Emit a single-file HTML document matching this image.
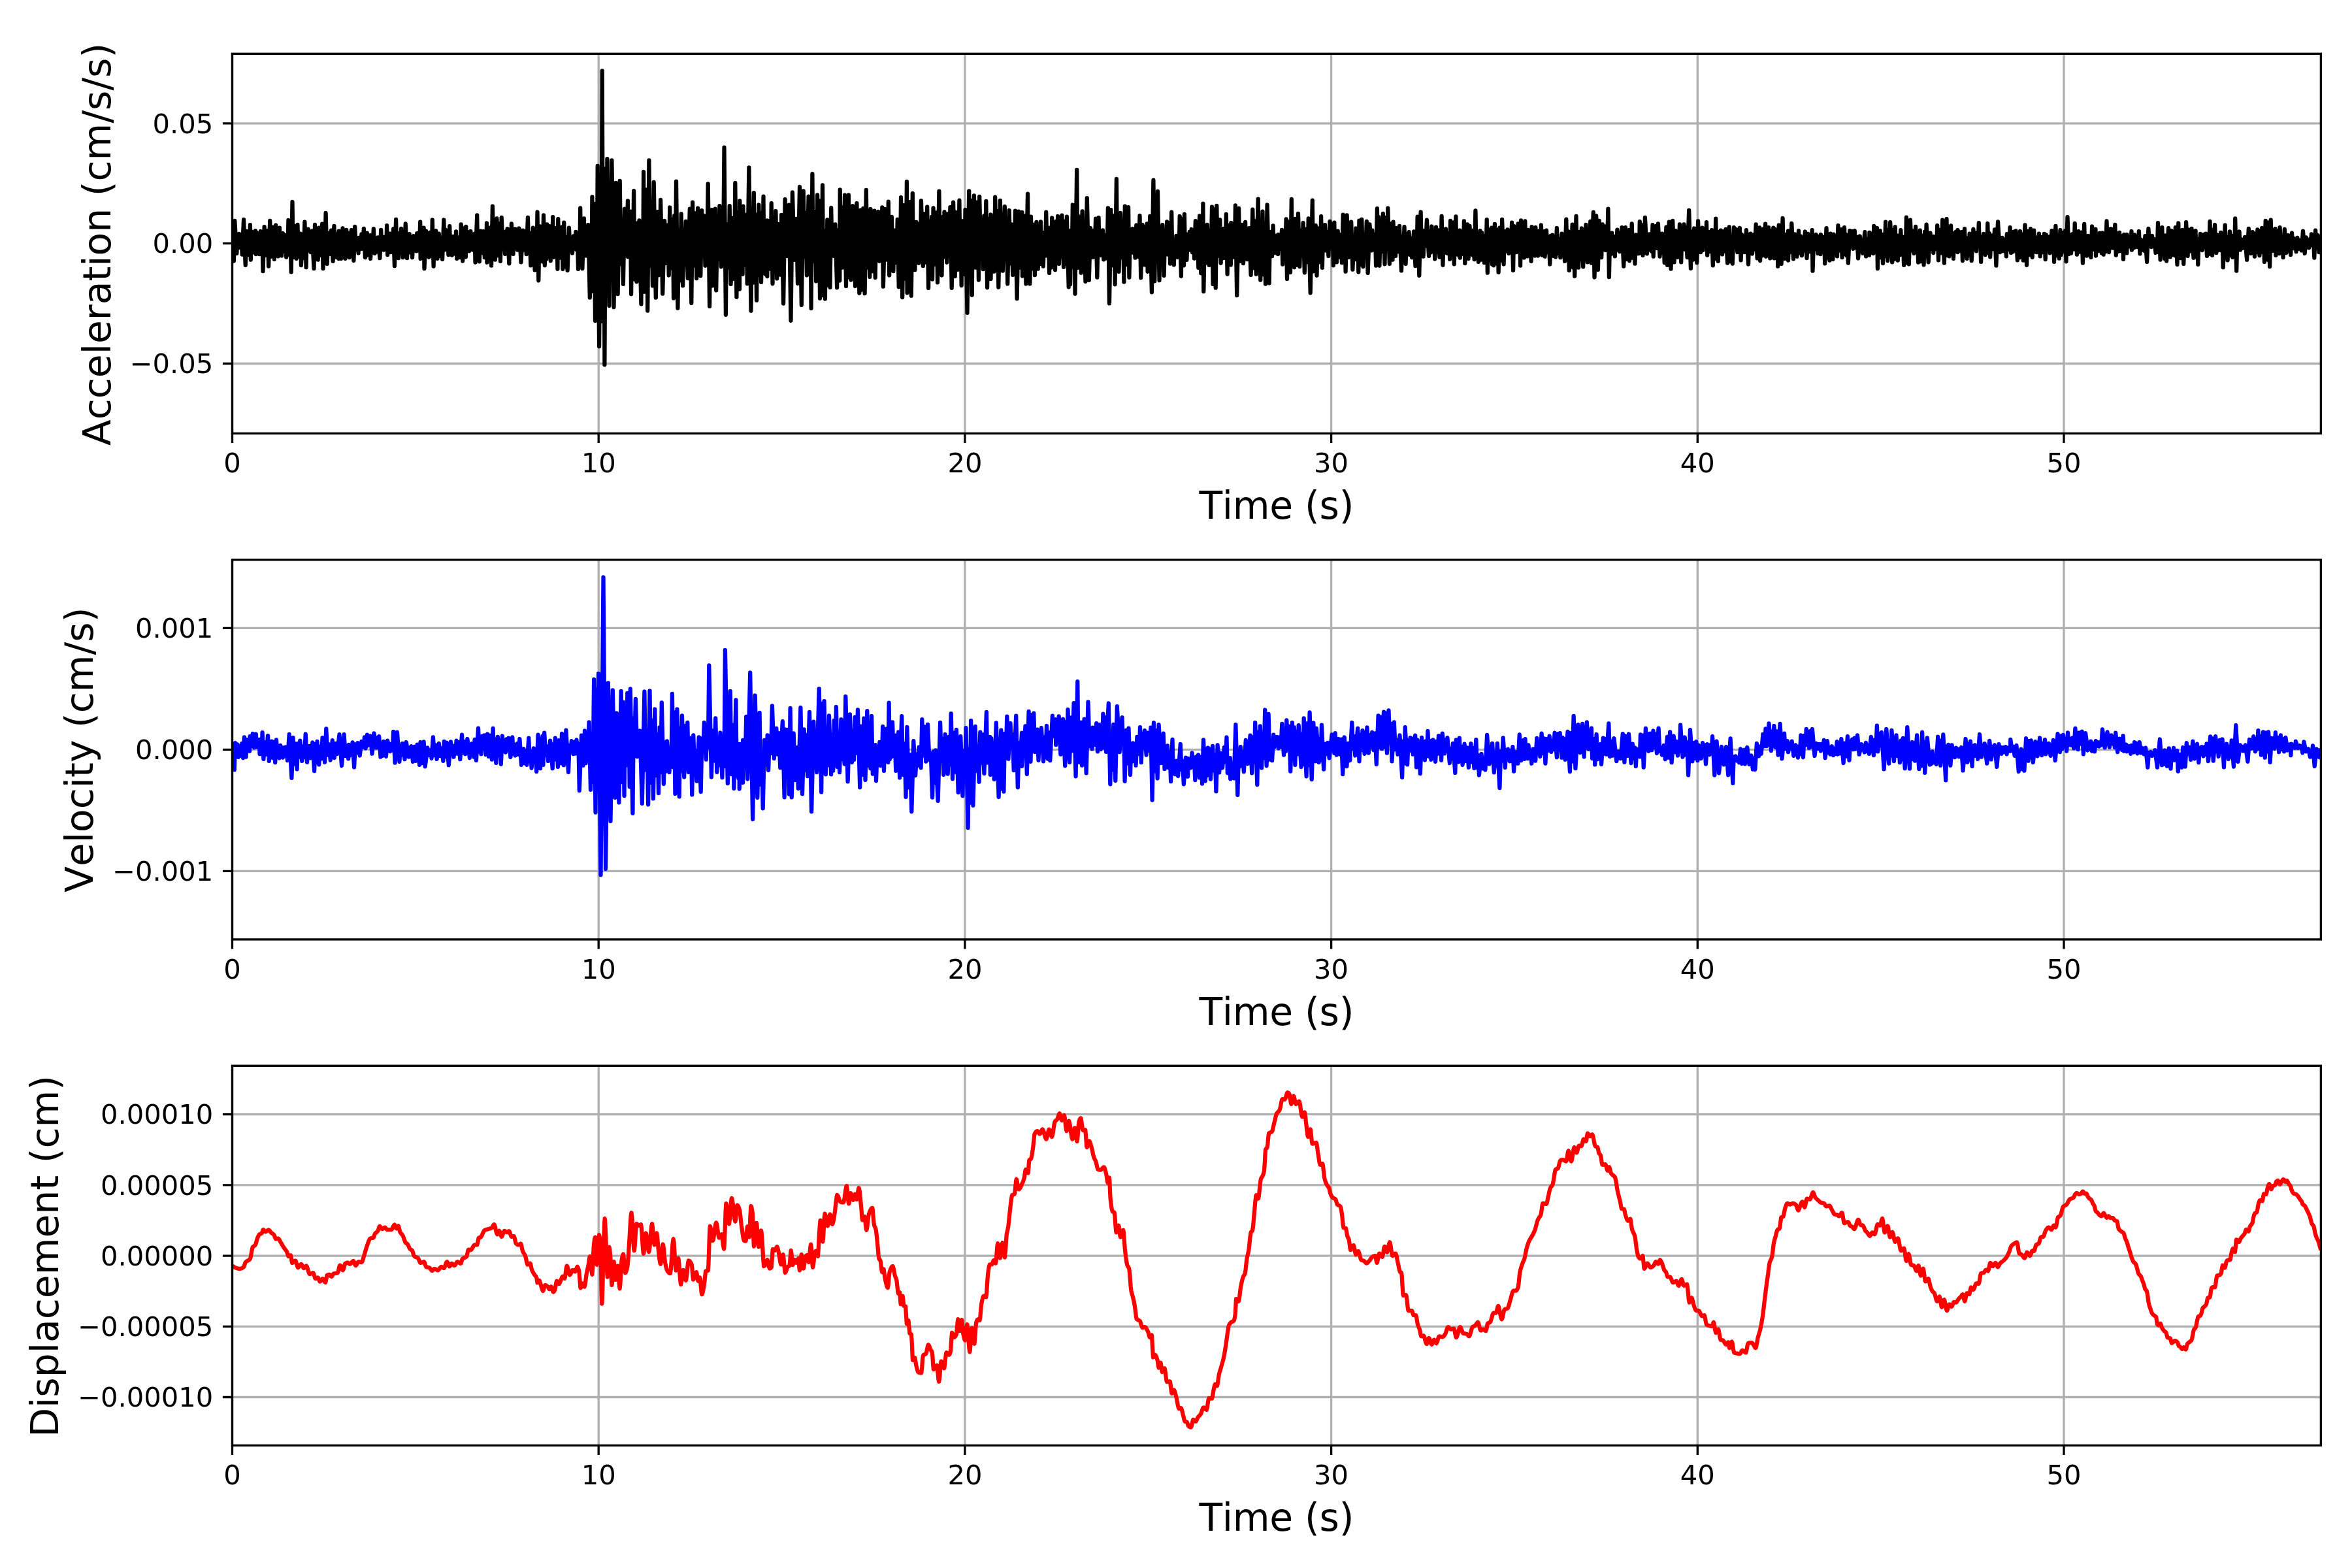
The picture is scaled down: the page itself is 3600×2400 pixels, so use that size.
<!DOCTYPE html>
<html lang="en"><head><meta charset="utf-8"><title>Acceleration, Velocity, Displacement</title>
<style>
html,body{margin:0;padding:0;background:#fff;}
body{width:3600px;height:2400px;overflow:hidden;}
svg{display:block;will-change:transform;}
text{font-family:"DejaVu Sans","Liberation Sans",sans-serif;fill:#000;font-kerning:none;font-variant-ligatures:none;}
.t{font-size:41.667px;}
.l{font-size:58.333px;}
.g{stroke:#b0b0b0;stroke-width:3.333;fill:none;}
.k{stroke:#000;stroke-width:3.333;fill:none;}
.sp{stroke:#000;stroke-width:3.333;fill:none;stroke-linecap:square;stroke-linejoin:miter;}
.d{fill:none;stroke-width:6.25;stroke-linejoin:round;stroke-linecap:butt;}
</style></head>
<body>
<svg width="3600" height="2400" viewBox="0 0 3600 2400">
<rect x="0" y="0" width="3600" height="2400" fill="#ffffff"/>
<defs>
<clipPath id="c0"><rect x="355.50" y="82.30" width="3196.90" height="581.10"/></clipPath>
<clipPath id="c1"><rect x="355.50" y="856.80" width="3196.90" height="581.10"/></clipPath>
<clipPath id="c2"><rect x="355.50" y="1631.30" width="3196.90" height="581.10"/></clipPath>
</defs>
<g id="axes1">
<path class="g" d="M355.50 82.30V663.40M916.20 82.30V663.40M1476.90 82.30V663.40M2037.60 82.30V663.40M2598.30 82.30V663.40M3159.00 82.30V663.40M355.50 188.80H3552.40M355.50 372.65H3552.40M355.50 556.50H3552.40"/>
<polyline class="d" clip-path="url(#c0)" stroke="#000000" points="355.5,368.7 357.9,399.5 359.3,337.9 362.3,387.9 363.5,363.6 364.7,372.3 365.9,357.9 366.4,379.0 367.5,361.8 368.6,376.7 369.6,362.1 370.7,389.7 373.0,336.1 375.7,405.8 377.9,354.0 379.1,389.9 380.4,368.0 381.6,389.9 382.9,344.2 383.8,397.7 385.2,354.6 386.6,386.6 388.0,356.9 389.5,378.6 390.9,353.1 391.8,389.2 393.1,356.0 394.5,386.8 395.8,363.7 397.1,389.2 398.9,354.0 400.1,384.4 401.3,365.2 402.5,415.2 404.6,347.2 405.9,390.1 407.2,361.1 408.5,390.8 409.8,353.1 411.1,407.6 413.2,337.9 414.3,392.9 415.4,358.6 416.6,385.6 417.7,347.7 419.8,396.8 422.1,344.7 423.3,379.6 424.5,361.7 425.7,392.4 427.9,348.6 428.9,387.7 430.0,362.2 431.1,391.5 432.9,357.2 434.0,381.8 435.1,365.9 436.2,385.1 437.3,360.2 438.2,393.6 439.3,362.6 440.4,390.0 441.4,337.0 442.9,385.5 444.3,346.0 445.7,416.5 447.5,309.0 448.7,393.8 449.9,345.3 451.1,384.3 452.4,357.0 453.6,395.9 455.5,343.8 456.7,392.6 457.8,369.3 458.9,387.7 460.0,357.6 460.9,406.1 462.7,372.3 464.6,395.0 466.4,339.7 468.6,409.3 469.6,361.6 470.7,377.8 471.8,350.9 473.1,383.3 474.4,355.4 475.7,386.1 477.5,353.6 480.5,411.1 482.0,343.8 483.6,393.4 485.2,356.3 486.8,397.7 488.2,348.6 489.5,390.8 490.7,359.3 492.0,384.3 493.2,342.7 494.5,411.1 495.8,354.6 497.2,397.5 498.6,325.8 500.7,404.0 502.0,367.0 503.2,384.8 504.5,357.0 505.7,388.8 507.0,352.6 509.6,399.9 511.4,345.9 512.6,391.1 513.8,358.1 515.0,394.0 516.2,362.3 517.4,386.7 518.6,353.6 518.6,395.9 519.5,357.1 520.4,391.9 521.2,359.1 522.1,395.9 524.5,349.3 525.8,392.3 527.1,357.7 528.4,395.9 530.2,351.8 531.7,392.6 533.2,361.6 534.6,394.2 535.7,356.5 536.8,392.5 537.9,352.2 539.0,384.7 540.2,358.1 541.4,399.0 543.2,346.8 545.0,382.3 546.8,368.2 548.6,387.4 549.3,363.8 550.3,375.6 551.3,369.2 552.4,379.1 553.4,358.4 553.4,380.8 554.5,362.7 555.7,377.7 556.8,349.9 558.9,394.2 561.8,356.7 563.0,390.7 564.3,367.0 565.5,386.9 566.8,360.2 567.1,395.9 568.7,367.8 570.2,385.5 571.8,350.1 573.6,387.9 575.2,365.1 576.8,385.3 578.4,363.3 581.4,395.1 583.2,351.8 584.6,381.3 586.0,365.5 587.3,382.6 588.2,362.9 589.2,380.3 590.2,368.2 591.2,380.7 592.1,345.1 593.2,390.1 594.5,364.0 595.8,380.6 597.1,357.6 598.0,386.1 599.4,364.1 600.8,381.7 602.1,350.4 603.9,407.2 606.1,335.8 607.4,389.3 608.7,356.8 610.0,395.1 611.4,360.0 612.7,382.7 614.1,349.9 616.8,394.2 618.1,353.0 619.4,383.8 620.7,342.4 623.0,395.1 624.2,365.1 625.4,383.4 626.6,358.1 628.1,386.4 629.6,371.0 631.1,394.2 632.9,361.1 634.3,379.2 635.8,363.7 637.3,384.3 638.2,357.2 639.5,383.4 640.7,360.9 642.0,377.7 643.2,339.7 643.6,395.9 645.2,354.7 646.9,389.5 648.6,348.6 649.5,411.1 652.1,353.6 653.6,390.7 655.0,362.0 656.4,393.6 657.9,355.8 658.8,391.7 659.8,363.4 660.8,384.6 661.8,336.5 663.6,407.6 664.8,360.3 666.0,393.9 667.1,353.1 669.5,395.9 671.8,357.6 673.6,391.8 675.4,364.3 677.1,396.8 679.3,336.5 680.7,382.3 682.1,351.9 683.6,381.7 685.0,353.1 686.4,390.1 688.2,346.1 689.4,389.1 690.6,363.3 691.8,390.6 693.6,362.0 694.7,388.5 695.8,370.2 696.9,386.1 698.0,354.3 699.3,395.9 700.6,363.3 701.9,393.8 703.1,363.9 704.4,394.0 705.7,343.3 708.2,399.5 709.4,358.6 710.5,384.0 711.7,348.6 712.9,393.3 713.2,346.8 714.9,379.9 716.5,355.4 718.2,384.3 720.4,354.0 721.5,378.5 722.7,364.0 723.9,382.6 726.6,357.6 727.5,401.7 730.2,329.3 731.4,395.2 732.6,361.5 733.8,400.4 735.5,353.6 736.7,387.2 737.8,365.4 738.9,382.8 740.0,354.0 741.8,394.2 742.9,355.8 743.9,392.6 745.0,341.5 745.4,401.7 746.8,350.5 748.3,390.1 749.8,348.6 752.1,406.7 753.9,315.6 755.2,378.0 756.5,344.4 757.9,397.7 760.5,334.3 762.3,391.1 764.1,342.6 765.9,399.9 767.7,332.9 769.5,376.8 771.2,359.9 773.0,388.8 774.2,354.4 775.4,376.9 776.6,350.1 779.3,403.4 780.5,352.8 781.7,387.7 782.9,342.4 785.5,388.8 786.6,357.8 787.7,372.4 788.8,350.5 789.9,379.4 791.0,355.8 792.1,382.6 794.5,349.5 797.5,401.3 800.4,352.6 802.1,382.5 803.9,354.4 805.7,389.2 807.9,332.9 809.3,380.3 810.8,361.2 812.3,406.3 813.5,356.7 814.7,393.0 815.9,348.6 818.6,413.4 819.9,356.4 821.2,410.8 822.5,324.5 824.3,429.5 825.8,346.0 827.4,387.0 828.9,353.1 830.4,400.5 832.0,329.3 833.8,406.3 834.9,360.1 836.1,397.0 837.3,343.3 839.1,392.8 840.9,346.1 842.7,399.2 843.9,347.3 845.1,380.3 846.2,332.2 847.1,393.8 848.2,351.2 849.2,391.7 850.3,349.2 851.3,388.7 852.4,351.3 853.4,411.7 854.3,335.2 855.7,394.9 857.1,349.3 858.6,393.9 860.0,347.7 861.4,412.0 863.2,340.6 865.0,408.1 866.8,363.1 868.6,413.8 870.9,348.6 872.6,379.7 874.3,365.2 876.1,387.4 877.9,361.3 879.6,377.5 881.4,354.9 882.6,382.4 883.8,358.7 885.0,412.0 886.1,363.6 887.1,403.0 888.2,318.3 889.3,400.0 890.4,338.5 891.4,411.1 893.9,334.3 895.0,383.6 896.1,347.3 897.1,391.5 898.2,354.5 899.3,378.1 900.3,344.1 902.8,455.7 904.0,373.0 905.2,446.0 906.4,301.3 908.0,416.2 909.5,315.7 911.0,491.0 912.2,311.6 913.5,460.3 914.7,253.8 917.1,530.1 918.7,331.8 920.2,492.0 921.7,108.4 923.0,469.5 924.2,258.2 925.4,558.3 926.7,301.1 928.1,410.7 929.4,243.1 932.4,468.0 933.8,285.4 935.1,428.6 936.4,245.3 939.5,470.1 942.6,279.9 945.6,450.2 948.7,276.8 950.4,404.0 952.1,344.2 953.9,434.9 956.0,319.7 957.2,383.9 958.5,333.1 959.7,370.5 960.9,307.4 960.9,393.0 962.2,324.6 963.5,375.9 964.8,323.7 966.1,450.2 967.4,346.8 968.8,401.2 970.1,292.1 971.5,427.5 973.0,343.0 974.4,431.3 975.7,341.4 977.0,422.1 978.4,337.4 981.4,465.5 982.7,358.7 983.9,441.8 985.1,263.0 986.0,446.6 987.3,306.1 988.6,419.6 989.9,290.3 991.2,475.6 993.4,245.3 995.2,406.8 997.0,318.5 998.9,437.4 1000.7,278.9 1003.8,455.7 1006.8,324.2 1007.9,421.3 1009.0,340.8 1010.0,419.6 1011.1,305.9 1014.2,449.6 1017.2,338.0 1018.5,403.0 1019.8,356.3 1021.1,402.5 1022.4,344.4 1023.7,421.5 1025.2,317.5 1026.4,404.7 1027.5,350.7 1028.7,410.8 1029.9,335.6 1031.0,456.4 1032.3,330.2 1033.7,431.8 1035.0,277.7 1037.4,471.7 1039.2,352.8 1040.9,429.3 1042.7,327.3 1045.1,437.4 1046.6,362.7 1048.2,405.0 1049.7,338.9 1052.8,426.1 1055.8,319.7 1058.3,464.0 1060.1,309.6 1061.3,406.8 1062.5,325.9 1063.8,394.9 1065.0,342.7 1066.2,426.1 1068.1,318.7 1069.5,405.5 1070.9,334.2 1072.3,422.1 1074.2,322.1 1075.9,381.9 1077.7,330.4 1079.4,406.8 1080.8,335.5 1082.2,392.4 1083.7,281.4 1086.1,468.9 1087.2,347.2 1088.4,416.0 1089.5,321.2 1090.8,437.3 1092.1,324.5 1093.4,410.8 1094.7,319.7 1096.2,444.4 1098.0,342.8 1099.7,397.2 1101.4,315.1 1103.9,408.3 1105.4,324.0 1106.9,401.0 1108.5,225.7 1110.9,481.8 1112.1,343.1 1113.2,403.5 1114.4,351.4 1115.6,409.5 1116.7,315.1 1118.6,434.9 1119.9,333.8 1121.3,427.4 1122.6,352.8 1124.0,399.2 1125.3,279.9 1127.4,454.8 1128.6,324.9 1129.7,425.9 1130.9,346.3 1132.0,442.6 1132.3,307.4 1133.8,388.8 1135.2,348.6 1136.6,419.6 1137.5,315.7 1138.8,406.1 1140.0,340.7 1141.2,393.4 1142.4,328.7 1143.7,434.3 1146.4,256.3 1149.5,475.6 1150.9,342.7 1152.3,432.7 1153.8,295.2 1155.2,416.2 1156.6,358.2 1158.1,459.7 1159.2,328.3 1160.3,421.5 1161.4,313.5 1162.7,409.8 1163.9,337.7 1165.1,431.9 1166.2,326.1 1167.3,389.9 1168.5,300.7 1169.4,402.3 1170.4,342.0 1171.4,419.5 1172.3,364.2 1173.3,395.3 1174.3,337.4 1174.3,423.0 1175.6,345.5 1176.9,406.8 1178.1,345.6 1179.4,411.7 1180.7,311.1 1182.5,434.3 1184.2,342.7 1185.8,414.9 1187.4,323.0 1189.2,426.5 1190.6,342.9 1191.9,395.2 1193.3,347.0 1194.7,420.6 1196.1,328.9 1199.1,464.7 1201.6,305.2 1202.8,384.8 1204.0,323.7 1205.2,391.9 1207.6,313.7 1210.5,490.8 1212.9,294.3 1215.9,397.8 1216.9,343.6 1218.0,392.8 1219.0,334.9 1221.0,434.0 1224.0,286.0 1226.8,467.0 1229.7,292.3 1231.4,392.8 1233.1,325.6 1234.9,421.5 1237.6,300.6 1238.9,405.1 1240.3,310.2 1241.6,472.0 1243.4,266.2 1244.5,400.2 1245.7,334.5 1246.8,398.3 1248.0,323.8 1249.1,430.4 1251.1,298.3 1252.4,391.4 1253.7,316.3 1255.0,456.7 1256.3,307.2 1257.7,421.5 1259.0,283.4 1260.3,452.2 1261.6,360.4 1262.9,457.5 1264.1,353.4 1265.2,436.6 1266.3,336.4 1267.7,428.3 1269.1,354.4 1270.5,439.9 1272.2,318.0 1273.6,387.1 1275.0,352.2 1276.4,391.9 1278.4,343.4 1281.1,440.3 1282.2,352.7 1283.2,407.2 1284.2,369.3 1285.3,429.5 1285.7,290.4 1286.9,393.6 1288.1,317.3 1289.2,409.7 1290.5,319.4 1291.7,377.5 1293.0,298.7 1295.0,438.0 1296.3,304.5 1297.6,390.6 1298.9,298.3 1300.1,424.5 1301.3,341.1 1302.5,428.5 1305.1,315.1 1306.4,401.2 1307.7,320.0 1309.0,438.0 1311.4,311.1 1312.7,433.7 1314.0,335.0 1315.3,448.6 1317.3,321.6 1318.3,443.8 1319.3,356.2 1320.3,440.0 1321.3,319.0 1323.6,449.2 1325.8,290.8 1327.6,409.4 1329.4,344.6 1331.2,423.9 1332.5,320.0 1333.5,409.1 1334.5,352.2 1335.5,415.1 1336.5,336.0 1337.5,394.2 1338.5,322.6 1339.7,424.9 1341.2,343.6 1342.8,381.8 1344.4,324.0 1346.0,399.8 1347.4,337.8 1348.9,380.4 1350.3,317.4 1351.9,438.7 1354.9,320.0 1356.1,397.6 1357.4,336.2 1358.6,393.0 1359.8,308.6 1361.2,421.5 1362.4,340.1 1363.6,399.4 1364.8,331.9 1367.4,415.2 1368.7,352.6 1370.0,402.5 1371.2,362.2 1372.4,397.8 1373.7,335.8 1375.7,439.3 1376.8,341.8 1377.9,409.3 1379.0,302.2 1381.2,455.2 1383.2,314.1 1384.4,426.7 1385.5,318.9 1386.7,410.2 1387.9,277.9 1388.5,448.2 1389.8,325.2 1391.1,443.7 1392.5,309.1 1394.8,452.6 1396.8,295.9 1398.0,411.3 1399.2,356.0 1400.4,413.2 1402.4,339.8 1403.7,394.1 1405.0,342.5 1406.3,402.8 1407.5,348.5 1408.7,398.8 1409.9,307.2 1412.8,407.1 1414.1,327.1 1415.4,378.7 1416.6,336.7 1417.9,402.0 1419.2,316.7 1421.1,440.9 1422.1,338.5 1423.1,406.2 1424.1,343.9 1425.1,397.3 1426.1,332.0 1427.1,427.5 1428.5,318.4 1429.8,405.0 1431.1,325.0 1432.4,393.5 1433.7,325.3 1435.0,432.4 1437.4,292.7 1438.7,392.7 1440.1,331.9 1441.5,421.5 1442.8,338.9 1444.1,393.8 1445.5,324.4 1446.7,387.1 1448.0,345.8 1449.2,401.8 1450.9,327.5 1452.6,391.5 1454.4,317.1 1456.7,440.9 1459.1,309.7 1461.7,423.1 1463.3,325.0 1464.4,389.8 1465.5,337.8 1466.6,412.6 1468.4,306.6 1469.5,388.6 1470.5,339.7 1471.6,437.0 1472.7,338.0 1473.9,420.5 1475.1,354.9 1476.3,406.0 1477.5,321.0 1480.5,478.9 1483.2,292.3 1484.7,423.0 1486.3,325.2 1487.8,451.6 1488.8,306.7 1489.9,392.9 1490.9,299.3 1493.3,409.7 1494.5,309.7 1495.6,386.4 1496.7,330.1 1497.9,428.5 1499.2,300.8 1501.1,387.1 1502.9,340.9 1504.8,412.2 1506.3,330.3 1507.8,398.2 1509.3,307.8 1511.1,440.3 1512.9,335.6 1514.7,401.8 1516.5,328.5 1516.5,426.9 1517.7,338.4 1519.0,407.0 1520.3,338.8 1521.6,415.6 1523.2,301.6 1524.9,411.7 1526.6,323.2 1528.3,439.7 1530.9,306.8 1532.2,395.7 1533.5,332.2 1534.8,414.6 1537.8,316.1 1539.3,384.7 1540.7,351.9 1542.2,434.4 1544.7,322.0 1546.5,403.5 1548.3,343.4 1550.1,420.9 1551.4,350.6 1552.7,399.4 1554.0,322.6 1556.6,457.1 1559.2,323.6 1560.5,409.6 1561.8,341.4 1563.2,402.4 1564.5,325.0 1564.9,422.5 1566.3,334.1 1567.7,392.4 1569.1,330.7 1570.4,434.4 1573.0,296.7 1574.1,421.9 1575.2,352.1 1576.4,434.4 1578.0,331.7 1579.2,411.6 1580.4,343.4 1581.6,410.7 1582.8,350.0 1583.9,421.2 1586.4,339.9 1588.8,411.7 1590.1,347.7 1591.5,404.2 1592.9,339.4 1594.2,403.6 1595.5,355.8 1596.8,407.6 1598.3,361.1 1599.8,391.1 1601.2,324.6 1602.9,391.6 1604.5,352.1 1606.1,417.9 1607.4,348.4 1608.8,409.7 1610.2,333.5 1611.8,391.8 1613.4,350.3 1615.0,413.1 1616.4,338.8 1617.7,383.9 1619.1,331.0 1620.9,404.0 1622.4,347.0 1623.9,392.4 1625.4,329.6 1628.0,409.0 1629.6,339.0 1631.2,403.9 1632.9,331.7 1635.7,439.4 1636.9,358.4 1638.1,435.1 1639.4,352.6 1640.6,408.6 1641.8,313.5 1643.0,404.5 1644.3,337.9 1645.5,449.7 1648.2,259.9 1649.5,409.9 1650.9,352.0 1652.2,393.1 1653.5,331.3 1654.8,417.6 1656.6,323.3 1658.2,410.2 1659.8,348.3 1661.4,431.0 1663.8,303.1 1666.8,429.0 1669.1,349.2 1670.3,380.1 1671.5,354.9 1672.7,393.8 1674.2,353.1 1675.7,380.0 1677.1,334.6 1679.3,424.7 1681.6,333.1 1682.6,389.8 1683.7,365.1 1684.7,390.9 1685.8,365.5 1686.8,384.6 1687.9,352.4 1689.3,397.4 1690.6,359.7 1691.9,395.6 1693.2,366.6 1694.6,384.1 1695.9,318.3 1698.0,464.4 1700.4,321.0 1701.6,405.0 1702.9,330.2 1704.1,406.4 1705.4,348.8 1706.6,435.3 1708.9,273.8 1710.1,398.2 1711.3,332.1 1712.5,415.8 1715.0,326.0 1716.8,394.2 1718.6,342.5 1720.4,431.7 1721.8,315.6 1723.1,405.1 1724.5,335.9 1725.8,404.1 1727.1,317.1 1728.4,424.7 1730.1,353.8 1731.7,382.9 1733.4,350.1 1734.8,387.0 1736.1,362.8 1737.5,394.7 1739.3,344.7 1740.6,391.6 1741.9,354.6 1743.2,393.5 1744.5,330.1 1746.2,425.1 1748.6,344.2 1749.8,397.7 1751.0,360.4 1752.1,405.4 1753.3,347.1 1754.5,390.9 1755.7,342.4 1756.6,415.8 1757.8,352.2 1759.0,408.8 1760.2,331.0 1762.9,447.4 1765.4,275.6 1767.3,430.4 1768.9,333.0 1770.4,392.4 1772.0,292.9 1774.5,429.2 1776.1,359.5 1777.7,405.0 1779.3,344.2 1781.6,421.9 1783.1,357.9 1784.6,389.2 1786.1,339.4 1787.7,389.7 1789.4,341.3 1791.1,403.7 1793.2,324.6 1794.4,395.6 1795.6,368.8 1796.8,405.4 1798.0,369.1 1799.2,385.0 1800.4,360.8 1802.1,393.8 1803.3,369.0 1804.5,391.9 1805.7,331.0 1807.9,422.8 1808.9,335.4 1809.9,385.7 1810.9,346.5 1812.0,406.3 1812.9,327.8 1814.0,390.9 1815.2,358.4 1816.4,397.9 1817.9,362.8 1819.3,381.9 1820.7,354.8 1822.1,382.9 1823.6,351.0 1825.1,386.4 1826.5,355.3 1828.0,395.6 1829.8,338.1 1831.3,388.8 1832.8,349.8 1834.3,409.9 1836.1,330.4 1838.2,418.3 1839.3,337.9 1840.4,415.9 1841.4,311.7 1842.3,446.2 1844.1,355.1 1845.9,402.1 1847.7,343.8 1850.7,405.8 1852.1,354.3 1853.6,392.9 1855.0,316.7 1856.6,434.9 1857.6,320.0 1858.7,423.9 1859.7,350.3 1860.7,440.6 1862.3,314.9 1863.6,392.0 1864.8,350.4 1866.1,391.1 1867.3,336.3 1868.6,402.8 1869.6,355.3 1870.7,391.0 1871.8,350.1 1873.0,395.1 1874.3,363.4 1875.5,392.7 1876.8,327.8 1878.6,419.7 1879.9,344.9 1881.2,398.8 1882.6,355.1 1883.9,405.4 1884.3,341.2 1885.4,389.9 1886.5,350.4 1887.6,393.7 1888.7,343.0 1889.8,390.3 1890.9,314.4 1893.2,452.2 1896.1,318.8 1897.5,400.0 1898.9,356.0 1900.2,397.8 1901.6,344.0 1903.0,403.1 1906.1,339.9 1907.1,388.7 1908.0,359.5 1909.0,397.1 1910.0,360.1 1911.0,387.3 1912.0,349.2 1914.6,421.0 1917.3,320.6 1919.1,410.3 1920.9,338.4 1922.7,419.7 1925.7,304.6 1926.9,393.8 1928.1,353.4 1929.3,428.7 1930.4,341.4 1931.4,403.7 1932.5,323.7 1934.0,420.2 1935.5,352.8 1937.0,434.6 1939.6,313.5 1942.7,433.5 1943.8,360.2 1944.9,389.6 1946.0,354.6 1947.1,392.1 1948.6,345.3 1950.1,387.0 1951.6,363.6 1953.1,387.2 1954.6,360.3 1956.1,389.0 1956.6,359.0 1957.9,380.0 1959.3,366.3 1960.6,380.9 1962.0,351.9 1963.2,404.6 1965.0,353.9 1966.8,398.4 1968.6,335.3 1970.0,426.9 1971.2,339.1 1972.5,414.6 1973.8,342.4 1975.0,417.0 1976.8,304.9 1978.2,404.7 1979.6,338.1 1981.1,409.3 1982.5,334.9 1983.6,397.7 1984.7,340.7 1985.8,405.7 1987.0,326.8 1989.3,408.1 1991.1,353.4 1992.9,390.7 1994.6,341.1 1996.8,417.4 1998.0,350.7 1999.1,393.9 2000.3,358.8 2001.5,401.2 2002.7,334.3 2005.7,448.3 2008.8,306.7 2010.0,415.4 2011.2,369.5 2012.5,404.3 2013.8,345.1 2015.5,421.8 2016.9,360.2 2018.2,401.7 2019.5,349.1 2020.8,398.2 2022.1,331.1 2023.9,409.9 2025.3,347.6 2026.7,382.5 2028.0,344.2 2029.8,383.7 2031.6,355.1 2033.4,392.0 2035.5,338.8 2037.3,378.3 2039.1,343.6 2040.9,406.3 2042.3,340.6 2043.5,394.4 2044.7,365.3 2045.9,401.3 2047.7,353.6 2048.9,393.5 2050.2,363.3 2051.4,386.3 2052.7,359.2 2053.9,402.2 2055.7,328.6 2057.0,397.5 2058.3,339.7 2059.6,415.6 2061.6,329.3 2064.6,393.8 2065.8,354.9 2067.0,383.0 2068.2,339.7 2070.4,412.6 2072.0,366.2 2073.7,395.3 2075.4,349.5 2076.7,397.6 2078.0,353.1 2079.3,416.5 2080.4,337.6 2081.3,403.0 2082.3,343.7 2083.3,404.8 2084.3,335.8 2086.4,408.1 2088.2,359.1 2090.0,390.1 2091.8,338.8 2093.6,417.9 2096.4,343.3 2099.5,383.4 2100.4,352.6 2101.5,373.8 2102.6,362.6 2103.8,379.3 2104.9,358.8 2106.1,406.7 2107.9,319.2 2109.0,394.3 2110.2,332.0 2111.4,406.7 2113.2,345.4 2115.0,384.8 2116.8,326.8 2119.5,404.3 2121.1,332.9 2122.7,379.5 2124.3,318.6 2126.8,404.0 2128.0,342.4 2129.2,384.9 2130.4,358.0 2131.6,397.7 2132.5,339.7 2133.7,379.9 2134.9,359.7 2136.1,391.8 2137.2,349.2 2138.4,377.7 2139.6,360.1 2140.8,385.4 2142.0,345.9 2145.0,414.3 2146.5,362.1 2148.0,391.2 2149.5,347.2 2151.6,404.0 2153.3,358.7 2154.9,386.5 2156.6,355.2 2158.1,390.0 2159.6,364.6 2161.1,394.2 2164.1,354.3 2166.4,407.2 2167.5,369.4 2168.6,391.1 2169.6,331.7 2172.3,421.8 2174.6,324.5 2176.0,388.6 2177.3,352.8 2178.6,392.7 2180.4,353.3 2182.1,376.5 2183.9,336.7 2187.0,391.8 2188.5,354.1 2189.9,386.5 2191.4,346.5 2193.0,384.0 2194.6,353.9 2196.2,396.5 2198.0,347.7 2199.8,385.6 2201.6,352.4 2203.4,393.6 2204.5,354.3 2205.5,381.1 2206.6,330.8 2208.4,405.8 2209.9,358.8 2211.4,386.9 2212.9,350.4 2215.5,387.9 2216.4,357.6 2217.3,383.3 2218.2,360.7 2219.1,396.8 2220.0,337.9 2221.1,389.6 2222.3,344.7 2223.4,380.5 2224.6,340.4 2225.7,404.3 2228.4,331.3 2229.4,386.0 2230.4,361.9 2231.3,389.6 2232.3,354.6 2233.3,391.6 2234.3,352.6 2234.8,394.7 2236.0,359.1 2237.2,381.7 2238.5,360.1 2239.7,388.8 2240.9,338.3 2242.3,403.1 2243.5,347.2 2244.7,382.0 2245.9,343.3 2247.7,395.9 2249.5,345.9 2250.9,386.7 2252.3,352.6 2253.8,390.0 2255.2,361.5 2256.6,397.2 2258.4,322.4 2259.9,394.5 2261.4,365.9 2262.9,400.9 2265.5,353.1 2266.8,397.7 2268.0,356.2 2269.3,394.2 2270.5,360.9 2271.8,402.2 2273.1,363.9 2274.4,392.0 2275.7,336.1 2276.8,417.7 2278.0,351.4 2279.2,398.9 2280.4,359.3 2281.6,393.8 2282.9,348.6 2283.9,404.8 2285.0,351.2 2286.1,406.3 2287.9,342.9 2289.0,403.5 2290.1,351.4 2291.3,393.7 2292.4,352.9 2293.6,416.8 2295.4,348.6 2296.3,397.9 2297.2,351.5 2298.2,398.7 2299.1,335.8 2301.6,404.5 2302.8,354.1 2304.0,384.8 2305.1,356.8 2306.3,383.7 2307.5,351.3 2309.3,387.9 2310.9,362.4 2312.5,380.2 2314.1,340.6 2316.1,413.8 2317.3,346.0 2318.5,373.1 2319.7,352.3 2320.9,386.1 2323.6,342.4 2324.8,380.1 2326.0,350.7 2327.1,406.7 2328.0,337.4 2329.6,377.5 2331.2,353.7 2332.9,394.5 2334.3,338.3 2335.5,387.3 2336.7,358.3 2337.9,392.4 2338.8,351.8 2340.4,386.4 2342.0,354.0 2343.6,399.9 2344.6,347.2 2346.2,389.5 2347.9,358.4 2349.5,391.5 2350.4,348.1 2351.5,388.9 2352.7,355.4 2353.9,391.5 2355.6,353.7 2357.3,378.1 2358.9,344.5 2360.2,390.6 2361.3,360.3 2362.4,389.1 2363.5,354.2 2364.6,392.7 2367.0,352.6 2368.8,386.1 2370.5,368.0 2372.3,404.5 2373.6,360.9 2374.9,387.4 2376.2,359.7 2377.9,391.9 2379.5,370.3 2381.1,393.3 2382.9,349.0 2384.7,388.0 2386.5,366.1 2388.4,394.2 2390.5,357.6 2392.0,382.3 2393.5,364.1 2395.0,399.9 2397.3,335.6 2398.8,397.6 2400.3,354.2 2401.8,413.8 2403.4,361.9 2405.0,405.7 2406.6,343.6 2407.8,409.4 2409.0,350.4 2410.2,422.7 2412.5,330.8 2413.7,394.7 2414.9,355.0 2416.1,409.7 2417.7,354.9 2419.3,397.4 2420.9,349.5 2423.2,408.4 2424.6,354.6 2426.1,385.0 2427.5,343.8 2429.8,401.3 2431.3,358.9 2432.8,389.3 2434.3,338.8 2435.7,402.7 2438.8,324.9 2440.5,424.5 2443.2,330.4 2445.9,412.9 2447.7,337.9 2448.9,391.8 2450.1,349.2 2451.2,394.2 2452.7,343.3 2454.3,378.1 2455.9,346.4 2457.5,383.1 2458.8,347.6 2460.1,370.9 2461.4,319.7 2462.9,424.2 2464.3,358.7 2465.8,388.9 2467.3,356.7 2468.8,383.1 2470.3,361.9 2471.8,392.4 2473.0,362.1 2474.2,376.2 2475.4,351.7 2476.5,382.4 2477.7,359.1 2478.9,385.2 2480.1,356.3 2481.3,382.6 2482.5,348.1 2485.2,407.6 2487.9,348.1 2489.2,397.0 2490.5,360.0 2491.9,390.2 2493.2,352.2 2494.1,399.2 2495.3,367.3 2496.5,385.5 2497.7,342.4 2499.3,394.9 2500.9,370.1 2502.5,403.6 2503.9,359.3 2504.9,385.7 2505.9,368.0 2506.9,388.2 2507.9,367.6 2508.8,388.0 2509.8,339.2 2511.4,381.0 2513.0,344.4 2514.6,390.9 2515.7,349.9 2516.8,386.7 2517.9,332.9 2520.9,388.4 2522.1,363.7 2523.3,382.4 2524.5,358.4 2525.7,382.4 2527.0,365.5 2528.2,384.7 2529.5,344.2 2530.7,392.7 2532.1,357.4 2533.6,379.2 2535.0,345.9 2536.4,380.0 2537.9,342.4 2540.5,392.7 2541.7,360.4 2542.9,382.2 2544.1,357.6 2545.3,387.6 2546.5,367.9 2547.7,402.2 2550.4,347.7 2552.1,405.8 2554.8,339.7 2557.5,411.7 2560.2,337.9 2562.5,401.3 2564.6,353.1 2567.3,393.8 2568.5,361.9 2569.7,384.7 2570.9,343.3 2573.2,401.3 2574.6,350.4 2576.1,377.7 2577.5,343.3 2579.2,381.8 2580.8,348.2 2582.5,394.2 2585.2,321.8 2587.9,410.8 2589.6,354.6 2591.4,397.6 2593.2,349.5 2594.6,394.2 2596.0,354.7 2597.3,402.2 2599.1,338.3 2600.4,378.8 2601.7,357.3 2603.0,386.1 2605.4,348.6 2606.5,383.1 2607.6,356.3 2608.7,375.4 2609.8,350.1 2610.9,375.4 2612.0,340.2 2613.2,390.6 2614.6,355.8 2615.9,380.5 2617.3,354.8 2618.6,385.3 2620.0,352.2 2621.8,406.3 2623.3,354.2 2624.8,393.0 2626.2,334.7 2627.4,396.5 2628.6,360.9 2629.8,399.9 2631.2,354.7 2632.6,381.9 2633.9,352.6 2636.1,389.3 2637.9,354.3 2639.6,384.5 2641.4,350.8 2644.1,402.7 2646.8,347.4 2648.5,400.1 2650.1,365.1 2651.8,403.6 2653.9,348.1 2655.7,378.1 2657.5,351.0 2659.3,386.1 2660.5,358.1 2661.7,380.1 2662.9,349.0 2664.6,398.3 2666.0,359.0 2667.3,375.2 2668.7,362.8 2670.0,386.1 2673.0,352.2 2676.1,404.5 2677.2,363.1 2678.3,381.9 2679.5,357.6 2682.1,388.4 2684.0,359.4 2685.8,381.4 2687.7,343.3 2689.6,395.4 2690.8,361.4 2692.0,381.8 2693.2,348.3 2694.1,399.0 2695.7,357.2 2697.3,391.4 2698.9,350.7 2700.5,385.4 2702.1,342.7 2703.0,392.7 2704.4,355.6 2705.8,386.5 2707.1,348.1 2709.3,395.4 2711.0,353.4 2712.6,381.0 2714.3,348.6 2715.5,395.4 2716.5,350.7 2717.4,392.5 2718.4,357.3 2719.3,384.9 2720.3,356.4 2721.2,407.6 2722.7,344.7 2724.0,393.7 2725.3,358.3 2726.6,404.0 2728.6,334.0 2729.6,385.6 2730.7,358.3 2731.7,396.0 2732.8,359.3 2733.8,387.9 2734.9,362.2 2735.9,386.5 2737.0,353.4 2737.0,398.6 2738.8,355.3 2740.5,385.6 2742.3,342.0 2745.0,396.3 2746.8,358.4 2748.0,385.2 2749.2,362.9 2750.4,392.7 2753.0,353.1 2754.6,387.3 2756.2,361.5 2757.9,391.1 2759.5,364.9 2761.2,383.7 2762.9,354.5 2765.5,395.1 2767.1,357.8 2768.8,385.3 2770.4,362.7 2772.0,385.2 2773.6,352.2 2774.5,414.7 2776.2,365.2 2778.0,381.4 2779.8,359.0 2782.5,387.9 2783.5,364.2 2784.5,385.7 2785.4,361.3 2786.4,389.2 2787.0,359.0 2788.2,380.9 2789.5,366.6 2790.7,382.5 2792.0,362.6 2793.2,403.4 2795.5,349.2 2797.1,394.3 2798.8,361.8 2800.4,398.6 2801.8,357.6 2803.0,386.6 2804.2,367.7 2805.4,396.8 2806.5,358.6 2807.6,387.2 2808.7,360.9 2809.8,383.2 2810.9,362.4 2812.0,392.4 2813.4,345.1 2814.6,381.9 2815.9,356.0 2817.1,383.9 2818.4,351.1 2819.6,394.2 2820.8,358.1 2821.9,389.4 2823.0,348.1 2824.2,384.6 2825.4,359.0 2826.6,391.4 2827.8,363.6 2828.9,402.7 2831.2,353.1 2833.0,375.2 2834.7,354.0 2836.4,380.8 2838.8,353.1 2840.5,379.3 2842.3,362.6 2844.1,395.4 2846.8,361.5 2848.3,384.1 2849.8,367.1 2851.2,387.9 2854.3,355.2 2856.1,392.4 2857.3,365.6 2858.6,388.3 2859.8,365.9 2861.1,390.6 2861.4,355.8 2862.6,386.5 2863.8,357.3 2865.0,386.6 2866.1,358.7 2867.3,387.9 2868.2,345.9 2869.4,383.0 2870.6,357.1 2871.8,385.0 2873.0,349.0 2873.9,411.1 2875.2,360.6 2876.4,394.5 2877.7,353.1 2879.1,388.9 2880.5,367.6 2882.0,403.1 2883.3,358.7 2884.7,386.1 2886.1,339.7 2887.1,392.4 2888.2,351.6 2889.3,399.2 2890.6,357.0 2891.9,389.9 2893.2,340.1 2896.2,401.3 2897.7,351.9 2899.2,397.2 2900.7,347.4 2902.1,387.0 2903.5,361.8 2904.8,398.6 2906.3,360.5 2907.8,390.3 2909.3,352.2 2910.9,386.8 2912.5,362.7 2914.1,405.8 2915.4,367.8 2916.6,396.5 2917.9,332.6 2919.2,402.7 2920.5,356.2 2921.8,404.5 2923.9,336.7 2925.8,383.4 2927.6,353.7 2929.5,387.9 2932.1,346.8 2933.5,379.9 2934.8,360.5 2936.1,401.7 2938.8,352.6 2939.9,400.2 2941.1,366.9 2942.3,394.4 2943.5,360.6 2944.6,405.4 2946.0,354.6 2947.3,388.4 2948.6,343.6 2951.6,401.3 2954.5,356.7 2955.7,379.1 2956.9,363.5 2958.1,381.3 2959.3,362.0 2959.3,387.0 2960.5,367.1 2961.6,379.8 2962.8,368.4 2964.0,380.6 2965.2,345.1 2967.0,398.3 2968.2,351.5 2969.5,383.1 2970.7,359.3 2972.0,387.4 2973.2,336.7 2975.9,402.6 2977.1,348.1 2978.3,375.1 2979.5,335.2 2980.8,391.2 2982.1,348.8 2983.4,392.4 2986.1,345.4 2987.4,388.7 2988.7,356.8 2990.0,395.9 2991.3,359.2 2992.6,381.9 2993.9,354.7 2995.1,382.4 2996.4,352.2 2996.4,386.1 2997.7,354.2 2998.9,383.0 3000.2,355.8 3001.4,384.4 3002.7,355.1 3003.9,399.0 3007.0,350.1 3008.2,387.3 3009.5,364.2 3010.7,395.9 3012.0,368.9 3013.3,388.3 3014.6,357.6 3017.7,399.0 3020.4,350.9 3021.9,379.9 3023.5,359.6 3025.0,384.3 3026.2,356.0 3027.5,376.8 3028.8,341.1 3029.9,377.6 3031.0,363.6 3032.1,400.8 3033.5,362.6 3034.8,384.1 3036.1,357.9 3038.8,390.1 3039.9,364.1 3041.1,387.1 3042.3,342.0 3043.6,384.9 3044.9,357.1 3046.2,393.3 3047.6,363.5 3049.0,379.9 3050.3,360.2 3051.7,381.2 3053.0,351.3 3055.4,406.7 3058.0,339.3 3061.1,386.1 3062.3,366.7 3063.5,384.6 3064.6,363.8 3065.9,383.8 3067.1,368.1 3068.4,384.5 3069.6,366.3 3070.9,392.4 3071.8,358.1 3073.0,382.1 3074.2,362.2 3075.4,379.2 3076.6,348.1 3078.0,387.0 3079.5,364.2 3081.0,385.4 3082.5,354.6 3084.0,381.2 3085.5,353.4 3087.9,398.3 3089.2,360.7 3090.6,394.4 3092.0,354.0 3093.6,385.2 3095.2,358.8 3096.8,398.6 3099.5,344.3 3102.1,405.8 3103.3,353.8 3104.5,382.7 3105.7,356.9 3106.9,390.1 3108.0,350.1 3110.7,393.8 3113.2,352.6 3114.6,385.0 3116.0,363.3 3117.3,386.1 3118.5,365.5 3119.7,383.1 3120.9,357.6 3122.7,392.4 3123.9,362.8 3125.2,386.3 3126.4,365.1 3127.7,381.5 3128.9,357.9 3130.7,397.2 3131.8,359.4 3133.0,381.2 3134.1,367.1 3135.2,378.7 3136.4,362.3 3137.5,387.4 3140.5,353.1 3141.7,376.6 3142.9,356.4 3144.1,400.9 3146.4,345.9 3148.2,391.2 3150.0,366.2 3151.8,395.6 3153.4,352.2 3154.7,390.0 3156.0,363.0 3157.2,385.5 3158.5,356.0 3159.8,382.7 3161.1,353.1 3162.5,400.4 3164.5,332.2 3166.8,388.8 3168.5,364.5 3170.1,387.6 3171.8,358.4 3172.8,379.7 3173.8,362.8 3174.7,381.3 3175.7,341.8 3176.8,379.9 3177.9,361.8 3178.9,389.7 3181.6,354.0 3182.9,385.7 3184.1,361.1 3185.4,385.7 3186.6,355.7 3187.9,402.7 3190.2,342.9 3191.5,389.9 3192.8,365.8 3194.1,391.5 3195.9,360.8 3197.4,383.9 3198.9,364.9 3200.4,393.8 3202.1,346.5 3203.5,379.4 3204.8,360.0 3206.2,382.0 3207.5,350.9 3208.0,391.5 3209.2,358.0 3210.3,384.5 3211.5,363.5 3212.6,381.8 3213.8,356.7 3214.8,384.2 3215.8,362.1 3216.8,387.5 3217.9,356.3 3219.6,389.7 3221.2,361.5 3222.9,385.2 3224.5,338.4 3225.7,375.0 3226.8,355.2 3228.0,386.1 3230.7,350.1 3231.8,379.0 3232.9,358.5 3234.0,379.7 3235.1,351.0 3236.2,378.7 3237.3,343.8 3238.8,390.6 3240.5,357.3 3242.3,384.8 3244.1,355.8 3245.3,384.0 3246.5,368.6 3247.6,381.2 3248.8,361.1 3250.0,396.8 3251.2,359.0 3252.6,379.3 3254.0,365.8 3255.4,387.4 3255.7,359.0 3256.8,377.5 3258.0,366.1 3259.1,376.3 3260.2,365.1 3261.4,377.9 3262.5,354.0 3262.9,382.6 3264.3,365.9 3265.8,379.3 3267.3,359.3 3268.4,378.3 3269.5,362.1 3270.6,376.4 3271.7,365.2 3272.8,378.2 3273.9,354.0 3275.4,388.4 3277.0,366.7 3278.6,382.2 3280.2,368.9 3281.8,383.7 3283.4,361.1 3286.1,400.8 3288.4,349.9 3290.0,374.4 3291.6,364.4 3293.2,378.1 3294.1,360.8 3295.9,376.6 3297.7,366.1 3299.5,387.0 3300.7,367.8 3301.8,386.0 3303.0,341.1 3304.2,378.4 3305.4,360.0 3306.6,397.7 3309.3,348.1 3310.6,385.3 3312.0,363.9 3313.4,396.2 3314.7,360.5 3316.1,399.5 3319.1,349.2 3321.8,393.3 3323.6,353.1 3324.6,382.2 3325.7,364.9 3326.7,390.1 3327.7,359.4 3328.8,391.1 3329.8,348.1 3332.5,404.9 3334.3,341.5 3335.3,393.1 3336.4,362.2 3337.4,395.2 3338.5,358.9 3339.5,395.1 3340.5,351.8 3342.3,404.0 3343.6,361.8 3344.8,385.5 3346.1,340.2 3348.6,391.8 3349.8,351.6 3350.9,385.2 3352.1,358.0 3353.3,379.1 3354.5,349.9 3357.5,394.7 3360.5,353.1 3361.8,393.6 3363.0,369.6 3364.3,404.9 3365.5,366.0 3366.7,377.4 3367.9,357.9 3370.9,383.1 3372.7,359.1 3374.5,377.5 3376.2,357.6 3378.0,391.8 3379.5,359.3 3381.0,388.8 3382.5,338.8 3383.7,380.6 3384.9,351.5 3386.1,390.9 3387.4,353.3 3388.7,384.3 3390.0,344.2 3392.3,387.0 3393.7,359.5 3395.0,383.3 3396.4,360.2 3397.8,382.7 3399.1,355.8 3400.3,383.5 3401.5,357.8 3402.7,409.3 3405.7,344.7 3407.0,387.9 3408.3,366.4 3409.6,398.3 3410.7,363.2 3411.8,390.3 3412.9,354.3 3414.3,391.1 3415.8,362.3 3417.3,393.8 3418.6,360.6 3419.9,390.4 3421.2,334.3 3423.2,414.7 3424.6,357.2 3426.1,380.0 3427.5,354.5 3428.9,382.6 3430.4,366.2 3431.8,380.1 3433.2,368.5 3434.6,379.3 3436.1,362.9 3439.1,397.7 3441.8,349.9 3442.9,377.4 3443.9,361.4 3445.0,387.9 3447.7,355.2 3448.8,378.3 3449.8,357.2 3450.9,392.7 3452.4,357.9 3453.9,385.9 3455.4,351.3 3458.4,391.1 3459.7,353.2 3461.0,379.7 3462.3,349.0 3463.5,386.2 3464.7,357.4 3465.9,400.8 3467.7,337.9 3469.0,393.7 3470.2,343.8 3471.5,397.9 3472.8,340.4 3474.1,408.1 3475.7,336.7 3476.8,384.3 3478.0,352.1 3479.1,382.9 3480.2,354.5 3481.4,384.2 3482.5,350.1 3483.4,390.9 3484.6,352.8 3485.9,379.6 3487.1,354.0 3488.4,388.1 3489.6,348.1 3491.3,386.6 3493.0,362.0 3494.6,394.2 3496.8,350.9 3499.5,387.0 3502.5,360.2 3503.7,383.5 3504.9,362.3 3506.1,390.1 3508.0,356.7 3509.4,379.4 3510.7,364.5 3512.0,380.3 3513.3,369.7 3514.6,385.2 3516.4,363.8 3517.7,380.8 3518.9,370.0 3520.2,380.6 3521.4,367.7 3522.7,383.4 3525.0,353.6 3527.7,387.9 3529.8,363.3 3531.3,378.7 3532.8,367.1 3534.3,379.3 3535.5,366.2 3536.7,374.2 3537.9,358.4 3539.3,375.3 3540.8,361.2 3542.3,394.7 3544.1,352.6 3545.9,377.0 3547.7,360.0 3549.5,386.1 3552.4,369.3"/>
<path class="k" d="M355.50 663.40v14.58M916.20 663.40v14.58M1476.90 663.40v14.58M2037.60 663.40v14.58M2598.30 663.40v14.58M3159.00 663.40v14.58M355.50 188.80h-14.58M355.50 372.65h-14.58M355.50 556.50h-14.58"/>
<rect class="sp" x="355.50" y="82.30" width="3196.90" height="581.10"/>
<text class="t" text-anchor="middle" x="355.50" y="723.00">0</text>
<text class="t" text-anchor="middle" x="916.20" y="723.00">10</text>
<text class="t" text-anchor="middle" x="1476.90" y="723.00">20</text>
<text class="t" text-anchor="middle" x="2037.60" y="723.00">30</text>
<text class="t" text-anchor="middle" x="2598.30" y="723.00">40</text>
<text class="t" text-anchor="middle" x="3159.00" y="723.00">50</text>
<text class="t" text-anchor="end" x="326.33" y="203.50">0.05</text>
<text class="t" text-anchor="end" x="326.33" y="387.35">0.00</text>
<text class="t" text-anchor="end" x="326.33" y="571.20">−0.05</text>
<text class="l" text-anchor="middle" textLength="237.0" lengthAdjust="spacing" x="1953.95" y="794.40">Time (s)</text>
<text class="l" text-anchor="middle" transform="translate(168.50 374.00) rotate(-90)">Acceleration (cm/s/s)</text>
</g>
<g id="axes2">
<path class="g" d="M355.50 856.80V1437.90M916.20 856.80V1437.90M1476.90 856.80V1437.90M2037.60 856.80V1437.90M2598.30 856.80V1437.90M3159.00 856.80V1437.90M355.50 961.40H3552.40M355.50 1147.40H3552.40M355.50 1333.40H3552.40"/>
<polyline class="d" clip-path="url(#c1)" stroke="#0000ff" points="355.5,1157.8 358.8,1178.3 360.0,1137.2 361.7,1151.9 363.3,1139.3 365.0,1159.0 366.8,1141.8 368.6,1156.5 370.4,1137.9 372.1,1160.1 373.9,1128.3 376.6,1158.7 377.9,1132.1 379.3,1145.7 380.6,1135.3 382.0,1149.7 382.5,1127.1 383.6,1139.8 384.6,1130.3 385.7,1142.1 386.8,1122.9 389.1,1144.4 391.8,1123.5 393.0,1143.3 394.3,1134.7 395.5,1140.3 396.8,1131.9 397.5,1154.2 398.9,1137.6 400.2,1153.0 401.6,1121.2 403.4,1161.9 405.6,1136.1 407.8,1154.6 410.0,1126.0 411.8,1164.9 413.2,1136.0 414.5,1154.5 415.9,1134.6 417.7,1160.2 419.5,1135.8 421.2,1167.2 423.0,1132.4 424.5,1155.0 426.0,1144.2 427.5,1160.4 429.3,1140.8 432.9,1159.6 434.3,1144.4 435.8,1154.6 437.3,1143.5 440.0,1164.0 442.7,1123.8 446.4,1190.8 448.6,1129.2 450.6,1169.5 452.6,1138.3 454.6,1177.4 456.2,1137.8 457.7,1158.7 459.3,1133.7 462.3,1164.9 464.1,1142.5 465.9,1159.0 467.7,1123.5 470.0,1166.7 471.4,1141.9 472.9,1155.7 474.3,1141.9 475.7,1160.4 478.4,1136.3 481.1,1180.1 482.6,1139.0 484.0,1166.9 485.5,1134.9 488.2,1170.3 490.0,1142.8 491.8,1161.5 493.6,1129.2 497.1,1166.7 499.3,1115.3 501.4,1155.6 503.6,1139.3 505.7,1163.5 508.8,1133.1 511.8,1160.1 512.8,1138.1 513.8,1151.3 514.9,1138.0 515.9,1154.2 519.5,1124.2 523.0,1172.1 526.6,1124.2 528.8,1157.0 531.0,1142.4 533.2,1161.3 533.8,1139.9 535.2,1156.7 536.7,1141.1 538.2,1155.1 539.6,1136.3 542.1,1174.4 543.9,1139.3 545.7,1152.4 547.5,1137.2 550.7,1156.5 553.4,1134.9 554.5,1143.1 555.6,1136.4 556.7,1143.4 557.9,1128.3 559.6,1145.3 562.0,1124.7 563.3,1141.2 564.6,1133.1 565.8,1139.3 567.1,1126.5 569.5,1153.7 572.5,1122.4 575.7,1144.7 577.2,1129.2 578.7,1141.6 580.2,1127.1 582.5,1158.7 584.1,1137.7 585.7,1156.9 587.3,1134.9 590.9,1157.8 593.2,1133.7 597.1,1150.1 598.0,1139.0 599.1,1148.7 600.1,1142.7 601.1,1147.3 602.1,1119.9 604.6,1167.6 607.9,1120.6 611.4,1165.8 612.9,1141.6 614.4,1155.5 615.9,1137.8 619.5,1162.2 621.8,1136.0 625.7,1158.7 629.3,1142.1 632.0,1165.8 634.2,1142.9 636.4,1164.8 638.6,1139.6 642.1,1170.8 643.6,1136.0 644.8,1168.2 646.1,1142.8 647.3,1168.1 648.6,1135.4 650.7,1173.3 654.3,1144.4 656.4,1155.8 658.5,1148.5 660.5,1160.8 662.9,1128.3 664.8,1156.2 666.7,1140.3 668.6,1161.9 671.8,1137.8 674.0,1157.2 676.2,1145.1 678.4,1164.9 679.8,1134.9 681.8,1158.2 683.8,1136.7 686.8,1171.2 690.0,1135.4 691.5,1153.0 693.0,1141.3 694.5,1158.7 695.8,1142.3 697.2,1153.7 698.6,1133.7 700.5,1153.6 702.4,1136.1 704.3,1162.2 707.0,1124.7 708.8,1152.1 710.5,1135.2 712.3,1154.2 715.4,1131.0 718.9,1160.1 722.1,1138.1 723.3,1155.7 724.4,1140.3 725.5,1158.7 726.6,1131.9 728.9,1163.7 732.0,1114.6 733.5,1150.4 734.9,1127.9 736.4,1154.2 738.1,1126.6 739.8,1144.5 741.4,1125.3 743.6,1155.1 746.2,1123.5 748.0,1157.8 749.2,1125.7 750.4,1148.8 751.7,1130.2 752.9,1162.6 754.6,1114.9 756.2,1159.4 757.7,1131.8 759.3,1167.9 761.8,1127.8 763.5,1155.8 765.1,1133.2 766.8,1169.7 768.9,1126.5 770.6,1144.3 772.3,1134.7 773.9,1151.5 775.4,1131.4 776.9,1146.9 778.4,1129.6 781.4,1159.0 784.3,1128.3 785.7,1153.7 787.1,1140.2 788.6,1156.5 791.4,1138.1 793.4,1155.0 795.4,1131.0 798.0,1170.8 801.6,1146.2 803.2,1168.3 804.8,1154.7 806.4,1170.8 809.3,1129.6 810.7,1165.4 812.1,1150.4 813.6,1175.6 816.8,1145.3 818.3,1165.5 819.8,1150.6 821.2,1181.0 823.6,1124.7 827.1,1176.2 828.2,1131.8 829.3,1167.1 830.4,1126.8 831.4,1170.8 833.2,1121.7 835.2,1155.3 837.1,1142.3 839.1,1164.9 842.1,1133.7 845.7,1176.2 847.1,1139.1 848.5,1161.5 849.8,1129.6 851.2,1162.6 852.6,1139.8 853.9,1173.8 855.2,1133.1 856.4,1159.9 857.6,1136.8 858.8,1168.4 860.0,1122.9 862.9,1171.2 866.4,1117.6 870.0,1181.9 871.6,1141.0 873.2,1150.7 874.8,1134.2 877.5,1154.2 879.2,1136.0 880.8,1153.5 882.5,1132.4 883.9,1148.5 885.4,1138.8 886.8,1210.1 890.0,1125.6 892.6,1171.6 895.0,1118.5 896.6,1168.1 898.3,1121.4 899.9,1156.4 901.6,1105.3 904.0,1209.0 905.7,1126.7 907.4,1197.0 909.1,1039.9 911.5,1243.5 913.0,1055.3 914.5,1183.4 916.0,1031.0 919.5,1339.1 923.5,883.5 927.0,1329.8 930.9,1045.3 934.5,1257.0 937.8,1056.4 941.4,1221.0 943.8,1091.5 947.4,1228.5 950.7,1057.9 952.3,1197.0 953.9,1074.7 955.5,1218.0 957.1,1087.8 958.7,1171.4 960.3,1060.9 961.4,1164.8 962.6,1101.5 963.7,1204.3 964.8,1054.3 968.4,1245.0 969.9,1099.5 971.4,1127.5 972.9,1069.9 975.3,1158.1 976.7,1127.7 978.1,1145.0 979.5,1118.5 982.8,1230.0 986.4,1058.5 988.3,1178.3 990.2,1117.2 992.1,1231.5 994.5,1057.3 996.3,1197.9 998.1,1102.4 999.9,1222.5 1002.3,1085.5 1004.2,1186.9 1006.1,1124.9 1008.0,1214.1 1009.6,1113.3 1011.2,1181.9 1012.8,1075.3 1015.8,1200.0 1017.5,1136.5 1019.2,1180.7 1020.9,1134.4 1024.5,1182.0 1026.0,1147.3 1027.5,1165.5 1028.9,1061.8 1030.4,1174.3 1031.9,1090.2 1033.4,1215.0 1036.4,1085.5 1039.7,1219.5 1041.1,1114.3 1042.5,1180.2 1043.9,1095.4 1047.2,1189.5 1048.9,1111.1 1050.6,1170.5 1052.3,1105.9 1053.8,1182.0 1055.2,1129.1 1056.5,1162.6 1057.9,1140.2 1059.2,1216.5 1061.3,1125.4 1063.0,1178.1 1064.7,1149.2 1066.4,1195.5 1069.7,1128.4 1072.7,1212.0 1074.4,1130.2 1076.1,1150.9 1077.8,1105.9 1080.8,1162.6 1082.3,1113.3 1083.8,1144.0 1085.3,1018.4 1088.9,1189.5 1091.0,1118.5 1093.1,1164.3 1095.2,1099.3 1097.3,1182.0 1099.0,1139.1 1100.7,1171.1 1102.4,1121.5 1105.4,1190.1 1106.9,1133.6 1108.4,1173.2 1109.9,995.0 1113.8,1199.1 1117.7,1057.9 1119.6,1185.0 1121.5,1109.5 1123.4,1206.9 1126.4,1071.4 1127.7,1187.4 1129.0,1154.8 1130.4,1191.5 1131.7,1138.8 1131.7,1207.5 1133.5,1155.6 1135.3,1194.9 1137.1,1132.9 1137.1,1197.9 1138.8,1137.7 1140.5,1173.7 1142.2,1096.9 1144.3,1192.5 1148.2,1029.5 1152.1,1254.0 1155.7,1064.5 1159.3,1221.0 1162.6,1090.9 1164.3,1200.7 1166.0,1157.0 1167.7,1237.5 1170.1,1132.9 1171.2,1169.7 1172.4,1144.9 1173.5,1170.4 1174.6,1125.4 1176.1,1179.0 1178.0,1127.1 1180.0,1152.9 1181.9,1080.4 1184.8,1161.0 1188.3,1114.8 1190.3,1154.6 1192.2,1122.1 1194.2,1175.1 1197.8,1104.2 1200.6,1220.4 1202.4,1116.5 1204.2,1182.1 1206.0,1116.8 1207.8,1215.5 1209.6,1083.9 1211.7,1220.4 1214.7,1122.4 1217.1,1194.0 1219.5,1144.1 1221.8,1207.0 1225.4,1083.0 1228.0,1215.3 1230.8,1116.5 1232.5,1178.7 1234.2,1125.0 1236.0,1188.1 1239.0,1089.8 1242.1,1242.4 1245.4,1104.7 1247.0,1171.6 1248.6,1128.1 1250.1,1182.2 1253.7,1054.2 1257.2,1212.4 1258.6,1076.9 1260.0,1180.9 1261.5,1073.1 1263.8,1185.3 1265.6,1114.3 1267.3,1171.1 1269.0,1095.3 1272.1,1185.3 1273.6,1124.6 1275.2,1179.7 1276.8,1102.6 1278.3,1169.8 1279.9,1082.0 1281.6,1173.9 1283.3,1124.6 1285.1,1182.2 1287.4,1101.2 1289.1,1162.0 1290.8,1123.0 1292.6,1169.5 1294.3,1066.0 1297.6,1196.4 1300.9,1093.4 1303.9,1166.9 1305.5,1119.8 1307.1,1162.8 1308.7,1097.6 1309.7,1153.0 1310.8,1111.9 1311.8,1145.0 1312.9,1086.3 1316.2,1205.3 1318.3,1111.6 1320.3,1186.0 1322.3,1099.5 1324.5,1194.0 1327.3,1088.2 1329.0,1171.7 1330.7,1120.0 1332.4,1176.2 1334.1,1096.0 1335.8,1184.6 1337.1,1153.6 1338.5,1181.0 1339.8,1140.1 1341.0,1195.2 1342.8,1146.5 1344.6,1169.7 1346.4,1135.8 1347.6,1171.8 1348.8,1142.3 1349.9,1168.2 1351.1,1111.8 1353.0,1179.9 1354.6,1115.9 1356.2,1155.1 1357.8,1115.1 1359.4,1166.9 1360.6,1075.7 1361.9,1162.1 1363.3,1124.9 1364.6,1158.3 1366.0,1105.4 1367.7,1155.3 1369.5,1125.4 1371.2,1179.9 1372.5,1130.8 1373.9,1167.9 1375.2,1120.5 1377.1,1190.5 1380.2,1096.2 1382.3,1185.9 1384.4,1138.6 1386.5,1220.0 1388.4,1113.0 1390.7,1205.5 1393.0,1155.1 1395.3,1242.4 1398.3,1134.2 1401.2,1186.9 1403.0,1154.3 1404.8,1171.8 1406.6,1143.6 1409.6,1175.1 1411.3,1101.2 1413.3,1156.2 1415.2,1112.3 1417.2,1165.7 1420.0,1108.9 1422.4,1163.0 1424.7,1152.5 1427.1,1220.7 1428.7,1150.5 1430.3,1198.1 1431.8,1148.4 1435.6,1225.9 1439.1,1105.9 1440.9,1165.2 1442.6,1131.0 1444.3,1185.8 1446.7,1124.0 1448.0,1170.7 1449.4,1138.1 1450.7,1184.6 1452.4,1128.0 1454.0,1169.8 1455.7,1092.2 1458.0,1192.1 1460.0,1121.6 1462.0,1181.6 1463.9,1117.0 1466.7,1212.9 1470.3,1127.1 1473.4,1218.1 1475.1,1149.2 1476.8,1188.0 1478.5,1114.1 1481.6,1267.2 1483.1,1146.3 1484.6,1228.8 1486.1,1102.8 1489.4,1232.9 1492.7,1111.8 1494.7,1180.2 1496.6,1143.4 1498.6,1196.8 1500.3,1120.7 1502.3,1167.9 1504.3,1124.4 1506.4,1183.9 1509.9,1089.8 1511.2,1167.3 1512.5,1133.3 1513.8,1166.7 1515.1,1127.8 1515.8,1185.8 1517.3,1130.0 1518.8,1175.5 1520.3,1147.3 1521.7,1192.8 1524.8,1106.4 1528.6,1220.0 1532.3,1117.7 1533.7,1207.3 1535.0,1139.6 1536.4,1211.7 1538.0,1122.6 1539.7,1153.8 1541.3,1096.7 1543.4,1161.7 1546.5,1107.1 1548.2,1144.2 1550.0,1124.3 1551.7,1179.1 1555.2,1095.7 1557.8,1205.3 1559.9,1137.1 1561.9,1157.6 1564.0,1121.7 1564.0,1172.8 1565.8,1138.7 1567.6,1155.7 1569.4,1111.3 1571.8,1185.0 1574.6,1088.9 1577.5,1165.8 1579.1,1094.2 1580.7,1132.1 1582.3,1091.7 1584.1,1151.2 1587.7,1116.7 1589.5,1163.7 1591.0,1125.4 1592.4,1149.0 1593.9,1114.2 1597.1,1165.4 1598.8,1128.2 1600.4,1158.9 1602.0,1111.0 1603.8,1161.6 1605.5,1121.4 1607.3,1164.0 1610.9,1095.6 1612.0,1126.5 1613.1,1102.1 1614.2,1127.1 1615.4,1101.2 1616.2,1140.1 1617.7,1109.9 1619.2,1133.3 1620.7,1096.3 1623.4,1154.7 1627.0,1100.6 1630.2,1172.1 1631.6,1104.6 1633.0,1161.4 1634.5,1086.0 1637.1,1166.9 1639.3,1098.3 1641.4,1149.0 1643.6,1076.2 1646.6,1188.3 1649.3,1043.1 1650.6,1166.5 1652.0,1110.1 1653.3,1167.3 1654.6,1105.6 1656.1,1171.7 1659.6,1100.6 1662.7,1183.3 1665.5,1074.4 1667.6,1142.4 1669.6,1124.0 1671.6,1146.2 1672.5,1113.7 1673.9,1137.9 1675.4,1119.9 1676.8,1140.1 1678.2,1107.1 1680.0,1150.3 1683.2,1109.2 1684.5,1147.0 1685.8,1120.4 1687.1,1144.8 1688.4,1092.6 1689.9,1137.1 1691.5,1098.2 1693.0,1150.8 1696.8,1076.5 1699.3,1200.3 1701.0,1133.5 1702.6,1178.1 1704.3,1108.8 1707.3,1194.9 1709.8,1081.2 1713.6,1151.2 1717.5,1098.1 1718.9,1139.6 1720.2,1124.8 1721.6,1195.8 1723.6,1117.8 1725.5,1168.3 1727.5,1114.6 1730.0,1186.0 1731.4,1139.5 1732.7,1165.5 1734.1,1137.4 1735.6,1160.1 1737.1,1140.6 1738.6,1171.7 1740.4,1127.9 1741.5,1154.1 1742.7,1131.1 1743.8,1153.6 1745.0,1113.1 1746.8,1167.2 1748.5,1123.0 1750.2,1144.5 1752.0,1118.1 1754.6,1155.6 1756.4,1121.7 1757.7,1147.5 1758.9,1123.1 1760.2,1149.1 1761.4,1113.7 1763.6,1224.7 1765.9,1106.2 1767.8,1180.3 1769.7,1118.2 1771.6,1191.5 1773.6,1109.2 1777.0,1168.1 1780.7,1122.6 1782.5,1177.1 1784.0,1152.6 1785.6,1174.3 1787.1,1141.3 1788.8,1175.2 1790.5,1152.0 1792.1,1196.2 1794.5,1131.9 1795.9,1183.8 1797.3,1170.5 1798.8,1185.2 1800.2,1164.6 1803.2,1187.8 1806.8,1139.0 1808.5,1178.2 1810.1,1164.7 1811.8,1200.3 1815.0,1159.6 1818.0,1188.7 1819.2,1161.0 1820.3,1173.5 1821.4,1164.5 1822.5,1175.3 1824.6,1152.4 1826.2,1173.7 1827.7,1160.7 1829.3,1194.0 1830.9,1158.3 1832.5,1183.8 1834.1,1155.3 1835.9,1190.4 1836.9,1165.7 1837.9,1186.5 1839.0,1158.3 1840.0,1199.7 1842.0,1132.4 1844.8,1195.4 1848.8,1144.6 1850.1,1186.7 1851.5,1146.3 1852.9,1192.6 1856.1,1141.9 1857.9,1179.1 1859.6,1155.7 1861.4,1211.3 1863.6,1140.4 1866.2,1182.4 1868.6,1152.9 1871.1,1175.3 1873.9,1144.0 1875.7,1165.8 1877.5,1128.5 1878.8,1183.3 1880.1,1164.1 1881.5,1178.2 1882.9,1160.1 1883.2,1192.2 1884.6,1167.4 1885.9,1185.1 1887.2,1168.2 1888.6,1191.3 1891.4,1109.2 1894.3,1216.9 1895.8,1156.4 1897.3,1173.7 1898.8,1143.1 1900.4,1171.3 1902.1,1150.9 1903.8,1181.2 1906.8,1132.9 1910.0,1169.0 1913.6,1125.6 1916.2,1183.3 1917.9,1128.4 1919.6,1166.5 1921.2,1106.0 1924.3,1201.2 1925.8,1120.5 1927.3,1166.3 1928.8,1111.3 1931.1,1175.3 1932.8,1127.0 1934.5,1160.1 1936.2,1086.5 1938.6,1172.1 1941.6,1092.8 1943.5,1162.6 1945.3,1134.1 1947.1,1164.0 1949.3,1124.7 1950.6,1143.4 1952.0,1129.3 1953.3,1141.4 1954.6,1127.9 1956.8,1145.4 1958.6,1128.4 1960.5,1142.9 1962.3,1107.8 1965.0,1155.6 1966.4,1116.7 1967.9,1150.0 1969.3,1102.4 1971.2,1145.1 1973.2,1111.9 1975.2,1180.6 1977.9,1106.0 1979.3,1155.0 1980.8,1113.0 1982.3,1170.8 1984.1,1120.6 1985.9,1154.3 1987.7,1110.1 1991.6,1174.0 1993.0,1123.4 1994.3,1170.2 1995.7,1099.4 1999.6,1188.3 2001.3,1107.2 2003.0,1171.2 2004.6,1090.4 2007.7,1193.1 2010.4,1106.5 2011.5,1154.6 2012.7,1126.7 2013.8,1165.3 2015.0,1114.9 2018.6,1166.9 2020.0,1131.2 2021.4,1163.7 2022.9,1109.6 2026.1,1177.6 2028.2,1138.6 2030.2,1153.9 2032.3,1136.9 2034.6,1160.4 2038.6,1124.4 2039.8,1148.2 2041.1,1129.5 2042.3,1152.8 2043.6,1122.1 2045.7,1155.6 2048.9,1131.0 2051.0,1154.6 2053.1,1131.7 2055.2,1185.1 2057.7,1128.5 2061.4,1173.1 2063.6,1137.8 2066.2,1164.0 2069.3,1106.0 2071.0,1145.8 2072.6,1126.9 2074.3,1156.5 2078.2,1114.9 2080.5,1165.4 2082.2,1125.0 2083.9,1147.8 2085.5,1118.1 2088.6,1153.8 2092.5,1113.3 2094.8,1152.6 2096.6,1125.1 2098.4,1142.6 2100.2,1120.8 2102.4,1148.1 2104.6,1122.4 2106.8,1169.9 2109.6,1095.3 2111.4,1143.5 2113.2,1097.5 2115.0,1146.2 2118.0,1089.6 2119.6,1143.3 2121.2,1091.7 2122.9,1152.6 2125.5,1087.4 2127.2,1136.8 2128.9,1107.7 2130.5,1165.4 2133.8,1105.3 2135.7,1147.0 2137.6,1132.5 2139.5,1154.7 2142.5,1125.3 2146.1,1189.9 2147.6,1134.3 2149.2,1168.7 2150.7,1113.1 2154.1,1170.4 2155.6,1133.1 2157.1,1148.7 2158.6,1129.2 2159.9,1148.9 2161.3,1130.6 2162.7,1154.7 2166.2,1125.6 2168.0,1174.4 2169.5,1132.6 2170.9,1160.5 2172.3,1141.1 2173.8,1184.2 2176.1,1128.8 2177.7,1155.4 2179.3,1138.5 2180.9,1163.3 2182.4,1134.5 2183.9,1153.4 2185.4,1119.0 2187.0,1157.8 2188.7,1133.8 2190.4,1162.8 2193.4,1132.4 2197.1,1165.8 2198.8,1134.7 2200.4,1153.7 2202.0,1126.2 2203.3,1153.1 2204.7,1134.3 2206.1,1163.7 2207.7,1122.6 2210.9,1153.3 2212.4,1132.6 2213.9,1147.9 2215.4,1129.2 2218.9,1168.1 2220.6,1145.9 2222.3,1160.9 2223.9,1137.8 2227.3,1182.9 2228.8,1132.4 2230.0,1159.9 2231.2,1135.1 2232.5,1166.1 2233.8,1129.7 2235.4,1163.8 2237.0,1142.6 2238.6,1170.8 2241.6,1138.7 2243.7,1165.0 2245.8,1144.4 2247.9,1174.7 2251.4,1138.1 2253.1,1166.3 2254.8,1145.1 2256.4,1175.8 2259.3,1132.1 2260.8,1175.2 2262.4,1155.9 2263.9,1186.5 2267.5,1153.8 2269.5,1176.3 2271.4,1161.4 2273.4,1178.3 2276.1,1124.9 2279.6,1169.4 2281.1,1143.7 2282.6,1162.1 2284.1,1137.8 2286.8,1182.4 2288.5,1152.1 2290.1,1172.5 2291.8,1137.8 2295.4,1206.2 2297.1,1149.9 2298.9,1164.7 2300.7,1129.4 2303.8,1174.9 2305.2,1148.4 2306.7,1163.1 2308.2,1146.7 2310.9,1165.4 2312.4,1149.0 2313.9,1159.4 2315.4,1143.1 2317.1,1180.6 2318.7,1150.7 2320.3,1159.9 2321.8,1151.3 2323.4,1168.7 2325.7,1124.4 2328.2,1164.0 2329.5,1140.9 2330.7,1160.7 2332.0,1133.0 2333.2,1161.9 2334.5,1131.2 2335.7,1155.8 2337.0,1146.2 2338.2,1161.1 2339.5,1140.4 2341.1,1159.3 2342.7,1149.9 2344.3,1168.7 2346.6,1146.3 2350.2,1164.6 2352.3,1129.9 2354.0,1152.4 2355.7,1137.2 2357.3,1157.9 2359.6,1122.6 2361.5,1152.9 2363.5,1130.3 2365.4,1168.7 2367.4,1131.1 2369.5,1148.8 2371.6,1126.7 2374.3,1150.8 2376.1,1134.2 2377.9,1147.1 2379.6,1121.7 2382.9,1159.2 2384.5,1123.1 2386.1,1148.0 2387.7,1122.1 2390.4,1159.7 2391.7,1129.2 2393.0,1154.3 2394.4,1131.1 2395.7,1162.8 2399.6,1119.9 2402.9,1181.2 2404.8,1122.0 2406.7,1165.3 2408.6,1095.8 2411.4,1176.2 2415.4,1109.2 2418.9,1152.1 2422.1,1107.8 2424.6,1158.3 2426.0,1115.3 2427.4,1144.5 2428.8,1105.3 2431.4,1146.7 2432.9,1125.6 2434.4,1144.5 2435.9,1114.6 2437.1,1161.0 2438.2,1135.4 2439.2,1152.6 2440.2,1131.1 2441.2,1170.4 2443.6,1124.0 2445.1,1162.1 2446.6,1143.3 2448.1,1160.0 2449.6,1139.1 2451.1,1169.9 2453.8,1129.7 2455.5,1153.8 2457.3,1131.0 2459.1,1154.7 2462.3,1107.4 2464.1,1157.9 2466.2,1134.5 2468.3,1156.6 2470.4,1130.1 2474.3,1165.1 2477.0,1150.3 2480.5,1161.0 2483.8,1123.1 2486.4,1166.7 2488.6,1126.5 2490.8,1156.8 2493.0,1123.5 2496.6,1168.1 2498.9,1138.7 2500.9,1160.8 2502.9,1144.6 2503.8,1172.9 2505.3,1146.7 2506.9,1154.9 2508.4,1149.3 2510.0,1158.3 2510.9,1124.4 2512.5,1157.2 2514.1,1125.6 2515.7,1174.7 2518.9,1114.9 2520.4,1144.2 2521.9,1123.1 2523.4,1149.7 2525.8,1122.6 2528.2,1148.2 2530.5,1118.5 2532.3,1143.5 2534.1,1123.5 2535.9,1152.9 2538.6,1114.6 2540.4,1149.6 2542.1,1144.2 2543.9,1155.6 2546.6,1141.0 2548.9,1162.2 2552.0,1127.9 2553.8,1159.7 2556.2,1120.3 2558.6,1167.2 2561.8,1126.7 2563.9,1151.1 2566.0,1134.9 2568.0,1156.5 2569.4,1136.8 2570.8,1149.7 2572.1,1109.6 2575.5,1158.7 2578.8,1128.5 2580.5,1155.5 2582.3,1136.3 2584.1,1186.5 2587.0,1117.2 2590.4,1165.4 2592.3,1137.1 2594.3,1160.5 2596.2,1135.1 2598.4,1164.0 2599.7,1140.5 2601.1,1159.6 2602.4,1145.0 2603.8,1161.0 2606.1,1137.2 2607.7,1154.6 2609.3,1140.4 2610.9,1169.4 2613.2,1139.2 2616.6,1155.1 2618.1,1140.1 2619.6,1149.9 2621.1,1127.1 2624.3,1186.5 2627.5,1134.7 2631.1,1183.3 2635.0,1142.8 2638.6,1170.4 2642.1,1143.1 2645.2,1186.3 2648.6,1130.3 2652.3,1198.8 2653.7,1158.4 2655.1,1163.8 2656.4,1157.4 2658.2,1164.2 2660.0,1160.5 2661.8,1167.2 2664.1,1146.3 2666.2,1169.0 2667.5,1152.1 2668.7,1163.9 2669.9,1147.6 2671.1,1169.4 2674.3,1144.0 2677.5,1169.9 2680.5,1156.5 2682.9,1177.6 2684.6,1160.9 2686.4,1177.9 2688.9,1137.8 2692.1,1157.4 2693.9,1142.7 2695.7,1153.8 2698.4,1123.8 2699.4,1142.4 2700.4,1132.6 2701.5,1140.4 2702.5,1115.4 2703.8,1142.0 2705.0,1121.6 2706.2,1140.0 2707.5,1107.4 2710.9,1149.0 2712.4,1119.6 2713.9,1137.0 2715.4,1111.0 2717.4,1143.8 2719.5,1119.4 2721.6,1155.6 2724.6,1107.8 2727.5,1161.3 2731.1,1122.6 2732.3,1146.1 2733.5,1137.4 2734.7,1146.4 2735.9,1134.2 2737.1,1151.2 2739.0,1138.8 2740.8,1146.0 2742.7,1134.6 2745.4,1156.9 2748.4,1140.4 2752.0,1159.7 2753.5,1142.3 2754.9,1154.3 2756.4,1125.3 2760.0,1159.2 2761.6,1126.0 2763.2,1140.6 2764.8,1115.8 2766.2,1136.2 2767.6,1119.5 2768.9,1144.9 2770.6,1119.2 2772.3,1143.1 2773.9,1116.0 2777.5,1156.9 2780.0,1137.8 2782.3,1145.8 2784.5,1138.9 2786.8,1149.4 2788.5,1138.6 2790.1,1146.5 2791.8,1132.9 2793.6,1160.1 2797.0,1134.2 2798.5,1152.2 2799.9,1144.1 2801.4,1154.7 2803.8,1142.2 2806.1,1156.2 2808.0,1145.6 2809.9,1153.9 2811.8,1135.1 2812.7,1154.7 2814.6,1137.5 2816.5,1153.3 2818.4,1131.0 2821.6,1168.1 2823.7,1137.6 2825.8,1157.7 2827.9,1127.1 2830.5,1163.7 2832.1,1134.8 2833.7,1142.9 2835.2,1131.7 2836.8,1147.2 2838.6,1129.7 2839.7,1146.6 2840.8,1135.0 2841.9,1141.4 2843.0,1125.3 2845.7,1154.7 2849.3,1139.2 2850.8,1147.5 2852.3,1141.8 2853.8,1151.5 2855.9,1136.9 2857.6,1150.2 2859.2,1140.9 2860.9,1153.8 2863.9,1127.9 2867.9,1156.2 2869.5,1132.3 2871.2,1146.2 2872.9,1110.6 2874.3,1150.3 2876.2,1123.1 2878.1,1141.5 2880.0,1120.8 2883.6,1177.4 2887.3,1116.0 2891.2,1168.5 2892.6,1134.1 2894.0,1156.3 2895.4,1117.8 2898.9,1165.1 2902.5,1125.3 2904.3,1156.8 2906.1,1138.9 2907.9,1167.2 2909.5,1133.6 2911.1,1162.5 2912.7,1129.9 2915.7,1176.2 2919.3,1113.1 2922.9,1176.5 2924.2,1145.2 2925.6,1159.6 2927.0,1136.0 2928.3,1162.0 2929.7,1137.5 2931.1,1164.6 2934.1,1125.3 2937.3,1177.1 2938.9,1143.4 2940.5,1172.5 2942.1,1120.8 2943.5,1161.0 2944.9,1135.5 2946.2,1182.8 2949.8,1129.4 2953.8,1170.4 2955.1,1153.3 2956.5,1169.1 2957.9,1150.3 2959.8,1167.1 2961.7,1156.7 2963.6,1169.9 2966.2,1127.6 2970.2,1171.7 2971.5,1133.4 2972.9,1159.9 2974.3,1124.4 2978.2,1194.4 2979.6,1142.4 2981.0,1160.9 2982.3,1139.9 2985.4,1171.7 2987.7,1140.4 2989.2,1155.6 2990.7,1146.5 2992.1,1159.2 2993.9,1144.6 2995.4,1154.2 2996.9,1146.5 2998.4,1158.3 3002.0,1144.0 3004.6,1179.4 3008.6,1131.0 3011.4,1166.7 3012.9,1138.7 3014.4,1163.1 3015.9,1134.7 3018.6,1172.9 3020.0,1141.9 3021.4,1157.3 3022.9,1140.4 3024.3,1155.4 3025.8,1146.1 3027.3,1161.9 3030.0,1124.0 3033.2,1158.7 3034.7,1142.7 3036.2,1151.8 3037.7,1138.1 3041.2,1168.7 3045.2,1133.8 3047.9,1162.4 3049.5,1143.1 3051.2,1155.2 3052.9,1140.4 3056.4,1173.8 3059.5,1139.2 3060.8,1150.3 3062.2,1143.6 3063.6,1153.8 3065.7,1144.1 3067.7,1151.0 3069.8,1143.1 3071.6,1154.4 3072.9,1144.7 3074.3,1149.2 3075.6,1144.1 3077.0,1149.7 3077.3,1131.9 3079.4,1147.4 3081.5,1142.6 3083.6,1156.9 3086.4,1140.8 3089.8,1181.0 3093.6,1146.7 3095.2,1177.4 3096.8,1158.3 3098.4,1179.7 3101.1,1130.1 3104.6,1164.6 3106.0,1134.2 3107.4,1159.4 3108.8,1133.3 3111.8,1166.9 3115.4,1135.1 3118.6,1157.4 3122.1,1129.4 3125.2,1156.2 3126.8,1138.5 3128.4,1152.4 3130.0,1132.1 3131.4,1154.4 3132.9,1143.2 3134.4,1150.8 3135.9,1137.8 3138.6,1156.9 3139.9,1140.9 3141.3,1151.7 3142.7,1132.9 3145.7,1164.0 3149.6,1123.1 3152.9,1151.2 3154.5,1126.5 3156.2,1146.7 3157.9,1124.9 3159.6,1142.4 3161.4,1132.4 3163.2,1149.7 3165.0,1121.3 3166.7,1140.3 3168.3,1132.3 3170.0,1140.9 3171.6,1129.7 3174.3,1145.4 3176.4,1114.9 3177.8,1141.0 3179.2,1121.7 3180.5,1147.2 3182.6,1121.3 3184.7,1138.6 3186.8,1119.6 3188.9,1154.4 3192.1,1122.2 3195.7,1148.5 3197.2,1137.9 3198.7,1145.5 3200.2,1134.6 3202.0,1149.7 3203.0,1138.0 3204.0,1146.5 3205.0,1137.6 3206.1,1150.3 3207.9,1134.2 3209.5,1141.7 3211.1,1136.3 3212.7,1142.6 3214.5,1136.2 3216.2,1140.7 3218.0,1116.3 3221.6,1144.4 3225.5,1120.3 3228.8,1143.7 3231.4,1125.3 3233.2,1138.1 3235.0,1127.9 3236.8,1144.0 3238.2,1121.7 3241.2,1151.2 3243.9,1130.6 3245.4,1145.5 3246.8,1131.6 3248.2,1148.1 3249.6,1126.2 3251.1,1149.7 3254.6,1139.6 3255.5,1150.3 3257.0,1143.5 3258.5,1147.7 3260.0,1141.9 3261.4,1153.8 3262.7,1141.0 3263.8,1151.2 3264.9,1145.3 3266.0,1151.5 3267.1,1136.0 3268.6,1149.5 3270.1,1137.6 3271.6,1153.3 3274.8,1136.0 3277.0,1152.4 3279.2,1145.0 3281.4,1154.4 3284.1,1144.6 3287.3,1174.7 3288.9,1151.9 3290.5,1156.6 3292.1,1151.2 3293.9,1156.9 3295.4,1152.6 3296.9,1155.5 3298.4,1148.1 3302.0,1174.7 3305.9,1131.5 3309.1,1171.2 3310.6,1156.0 3312.1,1169.6 3313.6,1148.5 3316.8,1172.6 3319.8,1145.3 3322.5,1176.5 3324.0,1150.8 3325.5,1160.5 3327.0,1144.9 3327.9,1163.7 3329.3,1151.6 3330.8,1162.4 3332.3,1148.8 3333.8,1180.6 3335.2,1154.6 3336.6,1166.9 3338.0,1154.7 3339.5,1174.7 3341.2,1144.0 3344.8,1173.5 3346.8,1137.2 3348.9,1154.2 3351.1,1143.7 3353.2,1162.8 3356.4,1134.6 3359.1,1161.3 3363.0,1138.7 3365.4,1167.2 3366.8,1145.2 3368.3,1152.7 3369.8,1143.1 3372.5,1157.4 3374.2,1143.5 3375.8,1154.9 3377.5,1138.3 3380.0,1165.1 3383.2,1127.4 3384.7,1155.2 3386.2,1130.3 3387.7,1164.6 3391.2,1127.1 3392.7,1149.9 3394.2,1138.0 3395.7,1157.9 3397.7,1132.7 3399.6,1150.8 3401.6,1131.5 3403.9,1174.4 3405.4,1141.3 3406.8,1154.4 3408.2,1138.7 3410.9,1161.9 3412.5,1142.8 3414.1,1158.7 3415.7,1133.3 3418.9,1173.5 3422.3,1110.1 3425.5,1165.8 3428.8,1140.4 3430.2,1146.9 3431.7,1142.6 3433.2,1149.4 3436.8,1140.4 3440.4,1165.8 3443.0,1131.9 3445.7,1145.8 3449.3,1127.1 3452.0,1150.3 3453.5,1131.0 3454.9,1146.6 3456.4,1118.1 3457.9,1141.3 3459.4,1126.8 3460.9,1155.6 3464.1,1120.3 3466.8,1159.7 3468.6,1121.3 3470.4,1150.1 3472.1,1120.3 3474.6,1166.7 3477.0,1129.7 3478.5,1144.3 3479.9,1134.3 3481.4,1145.8 3482.9,1121.2 3484.6,1141.7 3486.4,1129.0 3488.2,1151.2 3490.9,1125.3 3492.6,1146.9 3494.3,1131.3 3496.1,1150.3 3498.4,1128.8 3501.1,1148.5 3502.4,1139.6 3503.8,1147.3 3505.1,1139.5 3506.4,1156.2 3507.3,1138.7 3509.1,1144.5 3510.9,1140.2 3512.7,1144.9 3513.9,1134.6 3517.1,1144.9 3519.8,1141.3 3521.3,1144.6 3522.8,1142.0 3524.3,1152.4 3526.4,1135.3 3529.6,1150.3 3533.2,1146.3 3535.9,1158.7 3537.3,1149.6 3538.6,1155.0 3540.0,1141.3 3542.7,1172.9 3545.7,1146.3 3547.2,1157.9 3548.7,1148.2 3550.2,1159.2 3552.4,1152.8"/>
<path class="k" d="M355.50 1437.90v14.58M916.20 1437.90v14.58M1476.90 1437.90v14.58M2037.60 1437.90v14.58M2598.30 1437.90v14.58M3159.00 1437.90v14.58M355.50 961.40h-14.58M355.50 1147.40h-14.58M355.50 1333.40h-14.58"/>
<rect class="sp" x="355.50" y="856.80" width="3196.90" height="581.10"/>
<text class="t" text-anchor="middle" x="355.50" y="1497.50">0</text>
<text class="t" text-anchor="middle" x="916.20" y="1497.50">10</text>
<text class="t" text-anchor="middle" x="1476.90" y="1497.50">20</text>
<text class="t" text-anchor="middle" x="2037.60" y="1497.50">30</text>
<text class="t" text-anchor="middle" x="2598.30" y="1497.50">40</text>
<text class="t" text-anchor="middle" x="3159.00" y="1497.50">50</text>
<text class="t" text-anchor="end" x="326.33" y="976.10">0.001</text>
<text class="t" text-anchor="end" x="326.33" y="1162.10">0.000</text>
<text class="t" text-anchor="end" x="326.33" y="1348.10">−0.001</text>
<text class="l" text-anchor="middle" textLength="237.0" lengthAdjust="spacing" x="1953.95" y="1568.90">Time (s)</text>
<text class="l" text-anchor="middle" transform="translate(141.70 1147.75) rotate(-90)">Velocity (cm/s)</text>
</g>
<g id="axes3">
<path class="g" d="M355.50 1631.30V2212.40M916.20 1631.30V2212.40M1476.90 1631.30V2212.40M2037.60 1631.30V2212.40M2598.30 1631.30V2212.40M3159.00 1631.30V2212.40M355.50 1705.70H3552.40M355.50 1813.90H3552.40M355.50 1922.10H3552.40M355.50 2030.30H3552.40M355.50 2138.50H3552.40"/>
<polyline class="d" clip-path="url(#c2)" stroke="#ff0000" points="355.5,1936.9 356.4,1937.9 357.0,1938.4 357.3,1938.6 358.2,1939.2 359.1,1939.7 360.0,1940.2 360.9,1940.6 361.8,1940.9 362.3,1941.1 362.7,1941.2 363.6,1941.4 364.5,1941.7 365.4,1941.8 366.3,1941.9 366.8,1942.0 367.2,1942.0 368.1,1941.8 369.0,1941.6 369.9,1941.3 370.8,1940.8 371.7,1940.3 372.6,1939.6 373.0,1939.3 373.5,1938.5 374.4,1935.8 375.3,1932.9 375.7,1932.1 376.2,1931.6 377.1,1930.8 378.0,1930.2 378.9,1929.7 379.8,1929.3 380.7,1928.8 381.6,1928.2 382.5,1927.2 382.9,1926.8 383.4,1925.4 384.3,1921.0 385.2,1915.6 386.1,1910.9 386.8,1908.9 387.0,1908.6 387.9,1907.7 388.8,1907.2 389.7,1906.6 390.6,1905.7 390.9,1905.4 391.5,1903.9 392.4,1900.6 393.3,1897.2 393.6,1896.4 394.2,1894.8 395.1,1892.7 396.0,1890.8 396.9,1889.5 397.1,1889.3 397.8,1888.9 398.7,1888.5 399.6,1888.2 400.5,1887.7 400.7,1887.5 401.4,1885.9 402.3,1882.9 402.9,1882.1 403.2,1882.2 404.1,1883.0 405.0,1884.2 405.9,1885.2 406.4,1885.4 406.8,1885.3 407.7,1884.8 408.6,1884.1 409.5,1883.3 410.4,1882.7 411.1,1882.5 411.3,1882.5 412.2,1883.1 413.1,1884.2 414.0,1885.4 414.9,1886.5 415.0,1886.6 415.8,1887.3 416.7,1887.9 417.6,1888.5 418.5,1889.2 419.4,1890.1 419.5,1890.2 420.3,1892.1 421.2,1894.9 422.1,1896.4 422.1,1896.4 423.0,1896.3 423.9,1896.0 424.8,1895.7 425.7,1895.5 425.7,1895.5 426.6,1896.1 427.5,1897.5 428.4,1899.3 429.3,1900.9 429.3,1900.9 430.2,1902.4 431.1,1903.9 432.0,1905.5 432.9,1907.0 433.8,1908.5 434.6,1909.8 434.7,1909.9 435.6,1911.2 436.5,1912.3 437.4,1913.4 438.3,1914.7 439.1,1916.1 439.2,1916.3 440.1,1919.0 441.0,1922.0 441.8,1923.2 441.9,1923.2 442.8,1922.8 443.7,1922.1 444.6,1921.5 445.0,1921.4 445.5,1923.0 446.4,1929.8 447.1,1933.0 447.3,1933.0 448.2,1932.6 449.1,1931.8 450.0,1930.9 450.9,1930.0 451.8,1929.5 452.1,1929.5 452.7,1930.0 453.6,1932.8 454.5,1936.4 455.4,1939.3 456.1,1940.2 456.3,1940.1 457.2,1939.5 458.1,1938.2 459.0,1936.8 459.9,1935.6 460.8,1934.9 461.1,1934.8 461.7,1935.3 462.6,1936.9 463.5,1939.0 464.4,1940.7 465.0,1941.1 465.3,1941.0 466.2,1940.3 467.1,1939.1 468.0,1938.0 468.9,1937.5 468.9,1937.5 469.8,1938.5 470.7,1941.1 471.6,1944.4 472.5,1947.5 473.4,1949.6 473.9,1950.0 474.3,1950.0 475.2,1949.7 476.1,1949.4 477.0,1948.9 477.9,1948.5 478.8,1948.3 479.3,1948.2 479.7,1948.5 480.6,1951.0 481.5,1954.3 482.4,1956.7 482.9,1957.1 483.3,1957.1 484.2,1956.6 485.1,1955.9 486.0,1955.4 486.4,1955.4 486.9,1955.7 487.8,1957.8 488.7,1960.3 489.6,1961.6 489.6,1961.6 490.5,1961.1 491.4,1960.0 492.3,1958.6 493.2,1957.5 493.9,1957.1 494.1,1957.2 495.0,1958.1 495.9,1959.8 496.8,1961.6 497.7,1962.7 498.0,1962.9 498.6,1961.6 499.5,1956.7 500.4,1952.3 500.7,1951.8 501.3,1951.5 502.2,1951.2 503.1,1951.0 504.0,1950.9 504.3,1950.9 504.9,1951.2 505.8,1952.3 506.7,1953.5 507.5,1953.9 507.6,1953.9 508.5,1952.9 509.4,1951.2 510.3,1949.8 510.5,1949.6 511.2,1949.4 512.1,1949.2 513.0,1949.0 513.9,1948.9 514.8,1948.8 515.7,1948.6 516.6,1948.3 516.8,1948.2 517.5,1946.8 518.4,1943.0 519.3,1939.0 520.2,1936.7 520.4,1936.6 521.1,1937.2 522.0,1939.0 522.9,1941.2 523.8,1943.3 524.7,1944.3 524.8,1944.3 525.6,1943.1 526.5,1939.9 527.4,1936.2 528.3,1934.0 528.4,1933.9 529.2,1933.4 530.1,1932.9 531.0,1932.6 531.9,1932.5 532.0,1932.5 532.8,1932.8 533.7,1933.6 534.6,1934.4 535.5,1934.8 535.5,1934.8 536.4,1934.5 537.3,1933.6 538.2,1932.4 539.1,1931.3 540.0,1930.4 540.9,1930.0 540.9,1930.0 541.8,1931.1 542.7,1933.6 543.6,1936.1 544.5,1937.1 544.5,1937.1 545.4,1936.5 546.3,1935.0 547.2,1933.2 548.1,1931.8 548.9,1931.2 549.0,1931.3 549.9,1931.4 550.8,1931.6 551.7,1931.9 552.6,1932.1 553.4,1932.1 553.5,1932.1 554.4,1931.0 555.3,1928.6 556.2,1925.5 557.1,1922.2 557.9,1919.6 558.0,1919.2 558.9,1916.3 559.8,1913.3 560.7,1910.2 561.6,1907.4 562.3,1905.4 562.5,1904.9 563.4,1902.4 564.3,1899.9 565.2,1897.7 566.1,1896.1 566.8,1895.5 567.0,1895.5 567.9,1895.2 568.8,1895.1 569.7,1895.0 570.6,1894.9 571.2,1894.6 571.5,1894.4 572.4,1892.4 573.3,1889.8 573.9,1888.4 574.2,1888.0 575.1,1887.1 576.0,1886.3 576.9,1885.6 577.8,1884.7 578.4,1883.9 578.7,1883.3 579.6,1880.3 580.5,1877.5 581.1,1876.8 581.4,1876.9 582.3,1877.8 583.2,1879.3 584.1,1880.7 585.0,1881.2 585.0,1881.2 585.9,1880.9 586.8,1880.2 587.7,1879.3 588.6,1878.7 589.1,1878.6 589.5,1878.7 590.4,1879.6 591.3,1881.0 592.2,1882.0 592.7,1882.1 593.1,1882.1 594.0,1882.1 594.9,1882.1 595.8,1882.1 596.7,1882.1 597.6,1882.1 598.5,1882.1 598.9,1882.1 599.4,1882.0 600.3,1880.8 601.2,1878.9 602.1,1876.9 603.0,1875.3 603.9,1874.6 603.9,1874.6 604.8,1875.8 605.7,1878.2 606.6,1880.1 607.0,1880.4 607.5,1879.9 608.4,1878.2 609.3,1876.6 609.6,1876.4 610.2,1877.3 611.1,1881.0 612.0,1884.9 612.3,1885.7 612.9,1886.7 613.8,1887.9 614.7,1888.9 615.6,1889.9 616.4,1891.1 616.5,1891.2 617.4,1893.3 618.3,1895.9 619.2,1898.5 620.1,1900.8 620.7,1901.8 621.0,1902.1 621.9,1902.9 622.8,1903.5 623.7,1904.2 623.9,1904.5 624.6,1905.5 625.5,1907.5 626.4,1909.7 627.3,1911.4 627.5,1911.6 628.2,1912.2 629.1,1912.8 630.0,1913.3 630.9,1914.1 631.1,1914.3 631.8,1916.1 632.7,1919.5 633.6,1922.1 633.8,1922.3 634.5,1923.0 635.4,1923.6 636.3,1924.0 637.2,1924.3 638.1,1924.7 639.0,1925.1 639.9,1925.8 640.0,1925.9 640.8,1927.3 641.7,1929.6 642.6,1931.9 643.5,1933.0 643.6,1933.0 644.4,1932.9 645.3,1932.6 646.2,1932.2 647.1,1931.7 648.0,1931.4 648.9,1931.3 648.9,1931.2 649.8,1932.4 650.7,1935.1 651.6,1937.8 652.5,1939.3 652.5,1939.3 653.4,1939.5 654.3,1939.7 655.2,1939.8 656.1,1940.0 657.0,1940.2 657.0,1940.2 657.9,1940.9 658.8,1942.2 659.7,1943.5 660.6,1944.6 661.4,1945.0 661.5,1945.0 662.4,1944.4 663.3,1943.4 664.2,1942.4 665.0,1942.0 665.1,1942.0 666.0,1942.2 666.9,1942.7 667.8,1943.3 668.7,1943.9 669.6,1944.2 670.0,1944.3 670.5,1944.2 671.4,1943.5 672.3,1942.4 673.2,1941.1 674.1,1940.0 675.0,1939.2 675.7,1938.9 675.9,1938.9 676.8,1939.4 677.7,1940.2 678.6,1940.9 679.3,1941.1 679.5,1941.0 680.4,1939.8 681.3,1937.6 682.2,1935.0 683.1,1932.6 684.0,1931.3 684.3,1931.2 684.9,1931.8 685.8,1934.0 686.7,1936.6 687.6,1938.3 687.9,1938.4 688.5,1938.0 689.4,1936.6 690.3,1935.0 691.2,1934.0 691.4,1933.9 692.1,1934.2 693.0,1935.1 693.9,1936.1 694.8,1937.0 695.4,1937.1 695.7,1937.1 696.6,1936.2 697.5,1934.8 698.4,1933.3 699.3,1931.9 700.2,1931.3 700.4,1931.2 701.1,1931.4 702.0,1932.0 702.9,1932.7 703.8,1933.4 704.7,1933.9 705.2,1933.9 705.6,1933.5 706.5,1930.8 707.4,1927.7 707.9,1926.8 708.3,1926.4 709.2,1925.8 710.1,1925.3 711.0,1925.0 711.9,1924.7 712.8,1924.3 713.7,1923.6 714.1,1923.2 714.6,1922.1 715.5,1918.1 716.4,1914.0 717.1,1912.5 717.3,1912.5 718.2,1912.7 719.1,1913.1 720.0,1913.4 720.4,1913.4 720.9,1913.2 721.8,1912.3 722.7,1910.9 723.6,1909.1 724.5,1907.5 725.4,1906.1 726.3,1905.4 726.6,1905.4 727.2,1905.4 728.1,1905.4 729.0,1905.4 729.9,1905.4 730.2,1905.4 730.8,1904.0 731.7,1899.1 732.6,1895.0 732.9,1894.6 733.5,1894.3 734.4,1894.1 735.3,1893.9 735.5,1893.8 736.2,1893.2 737.1,1891.8 738.0,1889.9 738.9,1887.9 739.8,1885.9 740.7,1884.2 741.6,1883.2 741.8,1883.0 742.5,1882.7 743.4,1882.3 744.3,1882.0 745.2,1881.8 746.1,1881.6 747.0,1881.3 747.1,1881.2 747.9,1881.0 748.8,1880.8 749.7,1880.5 750.6,1880.3 751.5,1879.9 752.4,1879.5 752.5,1879.5 753.3,1878.6 754.2,1877.0 755.1,1875.4 756.0,1874.3 756.4,1874.1 756.9,1874.6 757.8,1877.7 758.7,1881.9 759.6,1885.6 759.6,1885.7 760.5,1888.4 761.1,1889.3 761.4,1889.1 762.3,1887.4 763.2,1885.1 764.1,1883.9 764.1,1883.9 765.0,1885.3 765.9,1888.4 766.8,1891.5 767.7,1892.9 767.7,1892.9 768.6,1891.9 769.5,1889.6 770.4,1886.9 771.3,1884.8 772.1,1883.9 772.2,1883.9 773.1,1884.3 774.0,1885.1 774.9,1885.8 775.7,1886.1 775.8,1886.1 776.7,1885.7 777.6,1885.1 778.5,1884.5 779.3,1884.3 779.4,1884.3 780.3,1886.0 781.2,1889.0 782.1,1891.9 782.9,1892.9 783.0,1892.9 783.9,1892.7 784.8,1892.4 785.7,1892.1 786.4,1892.0 786.6,1892.0 787.5,1894.3 788.4,1898.2 789.3,1902.0 790.0,1903.6 790.2,1903.7 791.1,1904.4 792.0,1905.0 792.9,1905.3 793.6,1905.4 793.8,1905.3 794.7,1904.9 795.6,1904.3 796.5,1903.7 797.1,1903.6 797.4,1903.8 798.3,1907.1 799.2,1911.8 799.8,1914.3 800.1,1915.0 801.0,1917.0 801.9,1918.5 802.8,1920.0 803.7,1921.8 804.3,1923.2 804.6,1924.2 805.5,1928.5 806.4,1933.0 807.3,1935.6 807.5,1935.7 808.2,1935.5 809.1,1934.9 810.0,1934.2 810.9,1933.7 811.4,1933.6 811.8,1934.0 812.7,1937.5 813.6,1942.0 814.1,1943.8 814.5,1944.7 815.4,1946.6 816.3,1948.3 817.2,1949.7 818.1,1951.1 818.6,1951.8 819.0,1952.4 819.9,1953.3 820.8,1954.4 821.2,1955.4 821.7,1958.2 822.5,1963.4 822.6,1963.4 823.5,1962.4 824.4,1960.8 825.3,1959.8 825.4,1959.8 826.2,1961.0 827.1,1964.1 828.0,1967.5 828.4,1968.8 828.9,1970.4 829.8,1973.5 830.7,1975.6 831.1,1975.9 831.6,1975.2 832.5,1972.2 833.4,1968.6 834.3,1967.0 834.3,1967.0 835.2,1967.1 836.1,1967.6 837.0,1968.3 837.9,1969.0 838.2,1969.3 838.8,1970.1 839.7,1971.8 840.6,1973.1 840.9,1973.2 841.5,1972.7 842.4,1970.9 843.3,1969.4 843.6,1969.3 844.2,1970.1 845.1,1973.2 846.0,1976.4 846.8,1977.7 846.9,1977.7 847.8,1976.9 848.7,1975.3 849.3,1974.1 849.6,1973.1 850.5,1968.0 851.4,1962.7 852.1,1960.7 852.3,1960.7 853.2,1961.7 854.1,1963.3 855.0,1964.7 855.7,1965.2 855.9,1965.1 856.8,1963.5 857.7,1961.1 857.9,1960.7 858.6,1959.0 859.5,1956.6 860.4,1954.6 861.3,1953.6 861.4,1953.6 862.2,1954.3 863.1,1956.0 864.0,1957.1 864.1,1957.1 864.9,1954.7 865.8,1948.1 866.7,1941.1 867.6,1937.5 867.7,1937.5 868.5,1938.7 869.4,1942.1 870.3,1946.3 871.2,1949.8 872.1,1951.4 872.1,1951.4 873.0,1950.7 873.9,1948.8 874.8,1946.5 875.7,1944.6 876.6,1943.8 876.6,1943.8 877.5,1944.2 878.4,1945.1 879.3,1946.0 880.2,1946.4 880.2,1946.4 881.1,1945.2 882.0,1942.6 882.9,1940.0 883.8,1938.9 883.8,1938.9 884.7,1940.1 885.6,1942.9 886.4,1946.4 886.5,1946.8 887.4,1958.5 888.3,1970.5 888.6,1971.4 889.2,1970.7 890.1,1968.1 891.0,1965.4 891.8,1964.3 891.9,1964.3 892.8,1966.0 893.7,1968.6 894.5,1969.6 894.6,1969.6 895.5,1966.4 896.4,1960.1 897.3,1953.0 898.0,1948.2 898.2,1947.4 899.1,1943.2 900.0,1939.2 900.7,1935.7 900.9,1934.6 901.8,1928.0 902.7,1923.4 902.9,1923.2 903.6,1926.3 904.5,1935.4 905.4,1945.3 906.3,1950.8 906.4,1950.9 907.2,1941.1 908.1,1918.5 908.8,1907.1 909.0,1905.0 909.9,1898.0 910.8,1894.0 911.1,1893.8 911.7,1900.4 912.6,1921.6 913.5,1935.6 913.6,1935.7 914.4,1929.5 915.3,1914.0 916.2,1898.0 917.1,1890.2 917.1,1890.2 918.0,1894.1 918.9,1905.1 919.5,1914.3 919.8,1925.7 920.7,1979.2 921.2,1995.5 921.6,1992.4 922.5,1963.2 923.4,1923.6 923.9,1905.4 924.3,1894.7 925.2,1870.4 925.7,1865.2 926.1,1867.8 927.0,1887.6 927.9,1910.7 927.9,1911.7 928.8,1939.2 929.6,1954.5 929.7,1954.4 930.6,1942.6 931.5,1921.8 932.4,1909.1 932.5,1908.9 933.3,1912.7 934.2,1922.8 934.6,1928.6 935.1,1938.1 936.0,1962.4 936.4,1967.0 936.9,1964.9 937.8,1953.0 938.7,1938.7 939.6,1931.3 939.6,1931.2 940.5,1938.8 941.4,1953.0 942.1,1958.9 942.3,1958.8 943.2,1953.5 944.1,1944.8 945.0,1938.2 945.4,1937.5 945.9,1940.1 946.8,1952.3 947.7,1966.0 948.6,1972.3 948.6,1972.3 949.5,1963.7 950.4,1946.4 951.3,1931.3 951.6,1928.6 952.2,1925.2 953.1,1921.1 953.9,1919.6 954.0,1919.7 954.9,1926.5 955.8,1938.8 956.7,1947.6 957.0,1948.2 957.6,1947.8 958.5,1945.9 959.4,1942.8 960.3,1938.7 960.5,1937.5 961.2,1931.5 962.1,1917.9 963.0,1903.1 963.2,1900.0 963.9,1889.0 964.8,1872.9 965.7,1860.2 966.4,1856.2 966.6,1856.5 967.5,1865.3 968.4,1881.8 969.3,1899.5 970.2,1912.0 970.7,1914.3 971.1,1913.0 972.0,1902.1 972.9,1887.0 973.8,1875.3 974.3,1873.2 974.7,1873.3 975.6,1874.2 976.5,1875.3 977.4,1875.9 977.5,1875.9 978.3,1875.7 979.2,1875.1 980.1,1874.4 981.0,1874.1 981.1,1874.1 981.9,1879.2 982.8,1892.4 983.7,1907.3 984.6,1917.5 985.0,1918.8 985.5,1917.1 986.4,1908.1 987.3,1896.6 988.2,1888.4 988.6,1887.5 989.1,1888.5 990.0,1894.0 990.9,1901.9 991.8,1909.7 992.7,1915.1 993.2,1916.1 993.6,1915.3 994.5,1908.6 995.4,1897.6 996.3,1885.9 997.2,1876.6 998.0,1873.2 998.1,1873.2 999.0,1879.0 999.9,1890.3 1000.8,1901.2 1001.6,1905.4 1001.7,1905.3 1002.6,1902.0 1003.5,1895.6 1004.4,1889.7 1005.2,1887.5 1005.3,1887.6 1006.2,1894.3 1007.1,1906.0 1007.9,1914.3 1008.0,1915.4 1008.9,1923.1 1009.8,1930.1 1010.7,1934.4 1011.1,1934.8 1011.6,1933.0 1012.5,1924.1 1013.4,1912.9 1014.3,1905.2 1014.6,1904.5 1015.2,1906.0 1016.1,1913.0 1017.0,1922.7 1017.9,1931.1 1018.2,1933.0 1018.8,1936.0 1019.7,1940.0 1020.6,1943.2 1021.2,1944.6 1021.5,1945.1 1022.4,1946.4 1023.3,1947.6 1024.2,1948.5 1025.1,1949.0 1025.7,1949.1 1026.0,1948.6 1026.9,1941.6 1027.8,1929.3 1028.7,1915.2 1029.6,1903.1 1030.5,1896.7 1030.7,1896.4 1031.4,1900.3 1032.3,1913.7 1033.2,1929.9 1034.1,1942.1 1034.6,1944.6 1035.0,1944.1 1035.9,1939.3 1036.8,1932.4 1037.7,1926.9 1038.2,1925.9 1038.6,1927.0 1039.5,1936.0 1040.4,1949.4 1041.3,1961.3 1042.1,1966.1 1042.2,1966.1 1043.1,1962.1 1044.0,1954.2 1044.9,1946.7 1045.7,1943.8 1045.8,1943.8 1046.7,1946.1 1047.6,1950.8 1048.5,1955.9 1049.4,1959.3 1049.8,1959.8 1050.3,1958.7 1051.2,1951.9 1052.1,1942.2 1053.0,1933.4 1053.9,1929.5 1053.9,1929.5 1054.8,1929.7 1055.7,1930.3 1056.6,1931.4 1057.5,1932.9 1058.4,1934.9 1058.8,1935.7 1059.3,1939.8 1060.2,1951.8 1061.1,1958.6 1061.1,1958.6 1062.0,1957.5 1062.9,1954.9 1063.8,1951.8 1064.7,1949.0 1065.6,1947.4 1065.9,1947.3 1066.5,1949.1 1067.4,1955.3 1068.3,1960.3 1068.6,1960.7 1069.2,1960.0 1070.1,1957.5 1071.0,1955.5 1071.2,1955.4 1071.9,1958.4 1072.8,1968.7 1073.7,1978.7 1074.3,1981.2 1074.6,1981.1 1075.5,1978.8 1076.4,1974.4 1077.3,1968.9 1078.2,1962.9 1078.4,1961.6 1079.1,1954.5 1080.0,1946.0 1080.2,1945.5 1080.9,1945.3 1081.8,1945.1 1082.7,1945.0 1083.6,1944.7 1083.8,1944.6 1084.5,1934.0 1085.4,1906.1 1086.3,1881.4 1086.8,1876.8 1087.2,1877.4 1088.1,1882.2 1089.0,1889.3 1089.9,1895.8 1090.8,1899.1 1090.9,1899.1 1091.7,1897.4 1092.6,1892.5 1093.5,1885.8 1094.4,1879.1 1095.3,1873.7 1096.2,1871.4 1096.2,1871.4 1097.1,1873.6 1098.0,1879.3 1098.9,1886.3 1099.8,1892.1 1100.7,1894.6 1100.7,1894.6 1101.6,1893.8 1102.5,1892.0 1103.4,1890.1 1104.3,1889.3 1104.3,1889.3 1105.2,1892.3 1106.1,1899.2 1107.0,1906.5 1107.9,1911.2 1108.2,1911.6 1108.8,1905.5 1109.7,1880.7 1110.6,1853.5 1111.4,1842.0 1111.5,1842.0 1112.4,1845.8 1113.3,1853.8 1114.2,1863.1 1115.1,1870.6 1115.9,1873.2 1116.0,1873.1 1116.9,1867.3 1117.8,1855.7 1118.7,1843.2 1119.6,1835.0 1120.0,1833.9 1120.5,1834.8 1121.4,1840.0 1122.3,1848.0 1123.2,1856.9 1124.1,1864.7 1125.0,1869.2 1125.4,1869.6 1125.9,1867.5 1126.8,1858.1 1127.7,1848.0 1128.4,1844.6 1128.6,1844.7 1129.5,1845.5 1130.4,1847.3 1131.3,1849.7 1132.0,1851.8 1132.2,1852.8 1133.1,1859.4 1134.0,1868.2 1134.9,1876.1 1135.0,1876.8 1135.8,1882.4 1136.7,1888.8 1137.6,1894.4 1138.5,1898.1 1139.1,1899.1 1139.4,1899.2 1140.3,1899.5 1141.2,1899.6 1141.4,1899.6 1142.1,1896.1 1143.0,1885.6 1143.9,1877.7 1144.1,1877.3 1144.8,1880.0 1145.7,1887.6 1146.6,1893.2 1146.8,1893.4 1147.5,1885.1 1148.4,1862.5 1149.3,1846.6 1149.5,1846.1 1150.2,1847.4 1151.1,1851.9 1151.8,1856.8 1152.0,1859.6 1152.9,1885.8 1153.8,1907.2 1153.9,1907.7 1154.7,1904.1 1155.6,1893.8 1156.5,1881.8 1157.4,1873.3 1157.9,1872.0 1158.3,1873.5 1159.2,1883.6 1160.1,1897.1 1161.0,1907.1 1161.4,1908.6 1161.9,1907.4 1162.8,1900.3 1163.7,1891.1 1164.6,1884.4 1165.0,1883.6 1165.5,1885.6 1166.4,1896.6 1167.3,1910.1 1167.3,1910.4 1168.2,1926.9 1169.1,1938.0 1169.1,1938.0 1170.0,1937.6 1170.9,1936.6 1171.8,1935.4 1171.8,1935.3 1172.7,1932.9 1173.6,1929.7 1174.5,1928.2 1174.5,1928.2 1175.4,1930.5 1176.3,1935.2 1177.2,1939.8 1178.0,1941.6 1178.1,1941.6 1179.0,1941.4 1179.9,1940.7 1180.7,1939.8 1180.8,1939.6 1181.7,1927.3 1182.6,1913.2 1182.9,1912.1 1183.5,1912.3 1184.4,1912.9 1185.3,1913.5 1186.2,1913.9 1186.4,1913.9 1187.1,1913.1 1188.0,1910.6 1188.9,1908.5 1189.3,1908.2 1189.8,1908.7 1190.7,1911.7 1191.6,1915.9 1192.3,1919.3 1192.5,1920.1 1193.4,1925.9 1194.3,1931.9 1195.2,1935.3 1195.4,1935.4 1196.1,1933.3 1197.0,1927.5 1197.9,1921.9 1198.6,1920.2 1198.8,1920.6 1199.7,1928.0 1200.6,1939.3 1201.5,1947.2 1201.8,1947.9 1202.4,1947.4 1203.3,1945.3 1204.2,1942.5 1205.1,1940.0 1205.7,1938.9 1206.0,1938.7 1206.9,1938.2 1207.8,1937.7 1208.4,1937.1 1208.7,1935.7 1209.6,1924.5 1210.5,1914.5 1210.7,1913.9 1211.4,1918.0 1212.3,1929.5 1213.2,1936.2 1213.2,1936.2 1214.1,1934.8 1215.0,1931.6 1215.9,1928.8 1216.4,1928.2 1216.8,1928.4 1217.7,1930.3 1218.6,1932.3 1219.1,1932.7 1219.5,1932.3 1220.4,1929.7 1221.3,1927.0 1221.8,1926.4 1222.2,1928.2 1223.1,1938.3 1223.9,1944.3 1224.0,1944.2 1224.9,1937.8 1225.8,1926.8 1226.7,1920.2 1226.8,1920.2 1227.6,1924.0 1228.5,1933.0 1229.4,1940.5 1229.8,1941.6 1230.3,1940.3 1231.2,1933.5 1232.1,1926.3 1232.5,1924.6 1233.0,1923.6 1233.9,1922.0 1234.8,1921.2 1235.2,1921.1 1235.7,1922.1 1236.6,1926.9 1237.5,1931.3 1237.9,1931.8 1238.4,1929.7 1239.3,1920.3 1240.2,1909.5 1241.1,1904.6 1241.1,1904.7 1242.0,1912.5 1242.9,1927.6 1243.8,1938.8 1244.1,1939.8 1244.7,1937.8 1245.6,1929.8 1246.5,1921.0 1247.1,1917.5 1247.4,1916.9 1248.3,1915.2 1248.9,1914.8 1249.2,1915.0 1250.1,1917.8 1251.0,1921.4 1251.8,1922.9 1251.9,1922.7 1252.8,1910.7 1253.7,1892.5 1253.9,1888.9 1254.6,1878.7 1255.5,1868.4 1255.7,1867.9 1256.4,1871.0 1257.3,1881.5 1258.2,1893.3 1259.1,1900.3 1259.3,1900.5 1260.0,1895.1 1260.9,1879.0 1261.8,1862.9 1262.5,1857.7 1262.7,1857.8 1263.6,1860.8 1264.5,1866.1 1265.4,1871.8 1266.3,1875.8 1266.8,1876.4 1267.2,1875.8 1268.1,1871.0 1269.0,1864.3 1269.9,1859.4 1270.4,1858.6 1270.8,1859.2 1271.7,1863.4 1272.6,1869.0 1273.5,1873.1 1273.9,1873.8 1274.4,1873.3 1275.3,1870.4 1276.2,1865.8 1277.1,1860.6 1277.1,1860.4 1278.0,1853.8 1278.9,1845.6 1279.3,1842.5 1279.8,1838.2 1280.7,1830.9 1281.3,1829.0 1281.6,1829.1 1282.5,1830.3 1283.4,1832.4 1284.3,1835.0 1285.2,1837.4 1286.1,1839.3 1286.9,1840.0 1287.0,1840.0 1287.9,1840.2 1288.8,1840.3 1289.7,1840.4 1290.6,1840.4 1291.0,1840.4 1291.5,1839.7 1292.4,1835.4 1293.3,1829.0 1294.2,1822.2 1295.1,1817.0 1295.9,1815.2 1296.0,1815.3 1296.9,1821.2 1297.8,1831.9 1298.7,1840.7 1299.2,1842.4 1299.6,1841.5 1300.5,1835.2 1301.4,1828.1 1302.0,1826.2 1302.3,1826.4 1303.2,1828.7 1304.1,1832.3 1305.0,1835.6 1305.8,1836.8 1305.9,1836.8 1306.8,1834.6 1307.7,1830.7 1308.6,1827.9 1308.9,1827.7 1309.5,1828.9 1310.4,1832.9 1311.3,1835.8 1311.4,1835.8 1312.2,1832.9 1313.1,1825.8 1314.0,1819.5 1314.5,1818.3 1314.9,1818.9 1315.8,1823.9 1316.7,1832.3 1317.6,1841.9 1318.2,1847.9 1318.5,1851.3 1319.4,1863.7 1320.0,1867.5 1320.3,1867.4 1321.2,1865.8 1322.1,1863.6 1323.0,1862.2 1323.2,1862.1 1323.9,1864.8 1324.8,1873.1 1325.7,1880.9 1326.2,1882.7 1326.6,1882.1 1327.5,1876.7 1328.4,1868.5 1329.3,1861.1 1329.8,1858.6 1330.2,1857.5 1331.1,1854.9 1332.0,1852.7 1332.9,1850.9 1333.8,1849.6 1334.7,1848.9 1335.2,1848.8 1335.6,1850.2 1336.5,1860.1 1337.4,1871.3 1337.9,1874.6 1338.3,1876.2 1339.2,1878.3 1340.1,1880.3 1340.5,1881.8 1341.0,1884.3 1341.9,1891.9 1342.8,1901.0 1343.2,1905.0 1343.7,1910.3 1344.6,1921.1 1345.4,1926.4 1345.5,1926.8 1346.4,1928.1 1347.3,1929.2 1347.7,1930.0 1348.2,1933.0 1349.1,1941.8 1350.0,1947.0 1350.0,1947.0 1350.9,1945.6 1351.8,1943.4 1352.5,1942.5 1352.7,1942.8 1353.6,1949.6 1354.3,1955.0 1354.5,1956.1 1355.4,1960.5 1356.3,1964.6 1357.2,1968.0 1358.1,1970.3 1358.9,1971.1 1359.0,1971.0 1359.9,1964.1 1360.8,1952.8 1361.4,1947.9 1361.7,1946.9 1362.6,1944.1 1363.5,1941.7 1364.4,1939.9 1365.3,1938.6 1366.2,1938.1 1366.4,1938.0 1367.1,1939.1 1368.0,1943.1 1368.9,1948.2 1369.8,1952.5 1370.0,1953.2 1370.7,1955.0 1371.6,1956.9 1372.1,1958.6 1372.5,1960.5 1373.4,1968.8 1374.3,1977.2 1375.0,1980.0 1375.2,1980.0 1376.1,1979.1 1377.0,1978.2 1377.1,1978.2 1377.9,1987.9 1378.6,1996.1 1378.8,1995.9 1379.7,1992.2 1380.6,1986.8 1381.5,1983.6 1381.6,1983.6 1382.4,1989.8 1383.3,1998.6 1383.4,1998.8 1384.2,1999.1 1385.1,1999.3 1386.0,1999.6 1386.1,1999.6 1386.9,2011.8 1387.8,2026.3 1387.9,2026.4 1388.7,2025.2 1389.6,2022.6 1390.5,2021.1 1390.5,2021.1 1391.4,2030.1 1392.3,2040.7 1392.3,2040.7 1393.2,2041.4 1394.1,2041.8 1395.0,2042.5 1395.0,2042.5 1395.9,2057.9 1396.8,2079.2 1397.1,2081.8 1397.7,2081.5 1398.6,2080.2 1399.5,2078.8 1400.4,2078.2 1400.4,2078.2 1401.3,2083.0 1402.1,2088.9 1402.2,2089.2 1403.1,2093.1 1404.0,2096.8 1404.9,2099.4 1405.7,2100.5 1405.8,2100.6 1406.7,2100.9 1407.6,2101.1 1408.5,2101.3 1409.4,2101.4 1410.2,2101.4 1410.3,2101.3 1411.2,2093.0 1412.1,2080.3 1412.9,2074.6 1413.0,2074.5 1413.9,2073.7 1414.8,2073.3 1415.7,2073.0 1416.6,2072.6 1417.3,2072.0 1417.5,2071.7 1418.4,2068.4 1419.3,2063.6 1420.2,2059.5 1420.9,2058.2 1421.1,2058.3 1422.0,2059.5 1422.9,2061.7 1423.8,2064.2 1424.5,2065.7 1424.7,2066.2 1425.6,2067.5 1426.5,2069.3 1426.8,2070.2 1427.4,2076.4 1428.3,2091.1 1428.9,2096.1 1429.2,2096.0 1430.1,2095.2 1431.0,2093.7 1431.9,2092.1 1432.8,2090.6 1433.7,2089.9 1433.9,2089.8 1434.6,2092.5 1435.5,2101.6 1436.4,2111.0 1437.2,2114.8 1437.3,2114.7 1438.2,2108.1 1439.1,2095.9 1440.0,2085.7 1440.5,2083.6 1440.9,2083.8 1441.8,2085.7 1442.7,2088.7 1443.6,2091.8 1444.5,2093.9 1445.0,2094.3 1445.4,2093.4 1446.3,2087.0 1447.2,2078.1 1448.1,2071.3 1448.6,2070.2 1449.0,2070.3 1449.9,2071.1 1450.8,2072.3 1451.7,2073.4 1452.5,2073.8 1452.6,2073.7 1453.5,2072.8 1454.4,2070.6 1454.8,2069.3 1455.3,2065.0 1456.2,2049.7 1457.1,2039.8 1457.1,2039.8 1458.0,2041.2 1458.9,2044.2 1459.8,2046.7 1460.2,2047.0 1460.7,2046.9 1461.6,2046.2 1462.5,2045.0 1463.4,2043.3 1463.8,2042.5 1464.3,2039.2 1465.2,2028.8 1466.1,2020.2 1466.4,2019.3 1467.0,2021.4 1467.9,2029.5 1468.8,2036.5 1469.1,2037.1 1469.7,2035.5 1470.6,2028.9 1471.5,2022.1 1472.1,2020.2 1472.4,2020.8 1473.3,2029.8 1474.2,2040.7 1474.5,2042.5 1475.1,2045.6 1476.0,2049.3 1476.9,2051.3 1477.1,2051.4 1477.8,2048.8 1478.7,2039.9 1479.6,2030.7 1480.4,2027.3 1480.5,2027.5 1481.4,2034.6 1482.3,2048.0 1483.2,2061.4 1484.1,2069.0 1484.3,2069.3 1485.0,2064.7 1485.9,2050.9 1486.8,2037.1 1487.5,2032.7 1487.7,2032.9 1488.6,2037.3 1489.5,2045.1 1490.4,2052.7 1491.3,2056.7 1491.4,2056.8 1492.2,2050.9 1493.1,2036.2 1494.0,2025.1 1494.1,2024.6 1494.9,2022.2 1495.8,2020.1 1496.7,2019.3 1496.8,2019.3 1497.6,2019.7 1498.5,2020.5 1499.4,2021.1 1499.5,2021.1 1500.3,2016.2 1501.2,2005.2 1502.1,1996.3 1502.1,1996.1 1503.0,1991.7 1503.9,1987.6 1504.8,1984.7 1505.7,1983.6 1505.7,1983.6 1506.6,1983.8 1507.5,1984.5 1508.4,1985.1 1509.3,1985.4 1509.3,1985.4 1510.2,1977.7 1511.1,1962.7 1512.0,1951.4 1512.0,1951.2 1512.9,1944.4 1513.8,1938.7 1514.7,1935.6 1515.0,1935.4 1515.6,1935.4 1516.5,1935.4 1517.4,1935.4 1518.2,1935.4 1518.3,1935.3 1519.2,1933.4 1520.1,1930.4 1520.9,1929.1 1521.0,1929.1 1521.9,1930.3 1522.8,1932.2 1523.7,1933.5 1523.9,1933.6 1524.6,1930.2 1525.5,1918.9 1526.4,1907.3 1527.1,1903.2 1527.3,1903.3 1528.2,1907.9 1529.1,1916.0 1530.0,1923.2 1530.7,1925.5 1530.9,1925.4 1531.8,1920.4 1532.7,1912.0 1533.6,1904.6 1534.3,1902.3 1534.5,1902.6 1535.4,1907.5 1536.3,1915.6 1537.2,1922.7 1537.9,1924.6 1538.1,1924.1 1539.0,1914.4 1539.9,1899.8 1540.7,1890.0 1540.8,1889.4 1541.7,1884.7 1542.6,1880.9 1543.2,1877.5 1543.5,1875.4 1544.4,1867.0 1545.3,1857.9 1545.7,1854.3 1546.2,1850.2 1547.1,1842.0 1548.0,1834.8 1548.9,1830.1 1549.3,1829.3 1549.8,1828.9 1550.7,1828.5 1551.6,1828.3 1552.5,1827.8 1552.9,1827.5 1553.4,1825.0 1554.3,1815.7 1555.2,1806.9 1555.7,1805.0 1556.1,1805.5 1557.0,1809.5 1557.9,1815.2 1558.8,1819.6 1559.3,1820.4 1559.7,1820.3 1560.6,1819.5 1561.5,1818.2 1562.4,1816.4 1563.3,1814.4 1564.2,1812.4 1564.6,1811.4 1565.1,1810.4 1566.0,1808.2 1566.9,1805.6 1567.5,1803.6 1567.8,1802.2 1568.7,1796.0 1569.6,1790.7 1570.0,1790.0 1570.5,1790.3 1571.4,1791.8 1572.3,1793.8 1573.2,1795.2 1573.6,1795.4 1574.1,1791.4 1575.0,1778.1 1575.4,1775.7 1575.9,1775.1 1576.8,1774.7 1577.7,1774.1 1577.9,1773.9 1578.6,1772.0 1579.5,1767.5 1580.4,1761.6 1581.3,1755.2 1581.4,1754.3 1582.2,1747.0 1583.1,1738.1 1583.6,1735.7 1584.0,1734.9 1584.9,1733.3 1585.8,1732.2 1586.7,1731.4 1587.6,1731.1 1587.9,1731.1 1588.5,1731.5 1589.4,1732.9 1590.3,1734.6 1591.2,1735.7 1591.4,1735.7 1592.1,1735.2 1593.0,1733.5 1593.9,1731.3 1594.8,1729.4 1595.7,1728.6 1595.7,1728.6 1596.6,1729.5 1597.5,1732.1 1598.4,1735.4 1599.3,1738.9 1600.2,1741.8 1601.1,1743.4 1601.4,1743.6 1602.0,1742.8 1602.9,1739.5 1603.8,1734.9 1604.7,1730.7 1605.6,1728.6 1605.7,1728.6 1606.5,1729.6 1607.4,1732.5 1608.3,1736.0 1609.2,1739.0 1610.0,1740.0 1610.1,1740.0 1611.0,1737.5 1611.9,1732.3 1612.8,1725.9 1613.7,1720.2 1614.6,1716.9 1614.6,1716.8 1615.5,1715.7 1616.4,1714.9 1617.3,1714.2 1618.2,1713.2 1618.2,1713.2 1619.1,1711.1 1620.0,1708.1 1620.9,1705.4 1621.8,1704.3 1621.8,1704.3 1622.7,1706.0 1623.6,1709.8 1624.5,1713.4 1625.4,1715.0 1625.4,1715.0 1626.3,1713.6 1627.2,1710.9 1628.1,1708.2 1628.9,1707.1 1629.0,1707.2 1629.9,1711.5 1630.8,1720.0 1631.7,1728.0 1632.5,1731.1 1632.6,1731.0 1633.5,1728.1 1634.4,1722.7 1635.3,1717.6 1636.1,1715.7 1636.2,1715.8 1637.1,1718.4 1638.0,1723.9 1638.9,1730.8 1639.8,1737.4 1640.7,1742.2 1641.4,1743.6 1641.6,1743.5 1642.5,1739.9 1643.4,1733.7 1644.3,1728.1 1645.0,1726.4 1645.2,1726.6 1646.1,1731.1 1647.0,1738.6 1647.9,1745.2 1648.6,1747.1 1648.8,1746.6 1649.7,1737.5 1650.6,1724.3 1651.4,1716.8 1651.5,1716.6 1652.4,1714.0 1653.3,1712.2 1654.2,1711.4 1654.3,1711.4 1655.1,1714.4 1656.0,1721.6 1656.9,1728.3 1657.5,1730.0 1657.8,1730.0 1658.7,1729.8 1659.6,1729.5 1660.5,1729.3 1661.1,1729.3 1661.4,1730.6 1662.3,1742.3 1663.2,1754.5 1663.6,1756.1 1664.1,1755.5 1665.0,1752.7 1665.9,1749.1 1666.8,1746.7 1667.1,1746.4 1667.7,1746.8 1668.6,1748.8 1669.5,1751.7 1670.4,1755.0 1670.7,1756.1 1671.3,1758.3 1672.2,1762.5 1673.1,1766.9 1674.0,1770.5 1674.3,1771.4 1674.9,1772.9 1675.8,1774.7 1676.7,1776.4 1677.1,1777.5 1677.6,1779.0 1678.5,1782.8 1679.4,1786.8 1680.3,1789.5 1680.7,1790.0 1681.2,1790.2 1682.1,1790.4 1683.0,1790.6 1683.9,1790.7 1684.3,1790.7 1684.8,1790.6 1685.7,1790.0 1686.6,1789.0 1687.5,1787.9 1688.4,1787.0 1689.3,1786.5 1689.6,1786.4 1690.2,1786.8 1691.1,1788.9 1692.0,1792.2 1692.9,1795.9 1693.2,1797.1 1693.8,1800.4 1694.7,1806.8 1695.6,1810.7 1695.7,1810.7 1696.5,1808.2 1697.4,1803.5 1697.9,1802.5 1698.3,1806.7 1699.2,1827.3 1699.6,1834.6 1700.1,1838.9 1701.0,1846.2 1701.9,1851.5 1702.8,1854.2 1702.9,1854.3 1703.7,1854.9 1704.6,1855.3 1705.5,1855.8 1705.7,1856.1 1706.4,1860.9 1707.3,1874.1 1708.2,1885.1 1708.6,1886.4 1709.1,1885.8 1710.0,1882.7 1710.9,1878.7 1711.8,1876.0 1712.1,1875.7 1712.7,1877.5 1713.6,1884.9 1714.5,1892.1 1715.0,1893.6 1715.4,1893.3 1716.3,1891.2 1717.2,1888.0 1718.1,1884.9 1719.0,1883.0 1719.3,1882.9 1719.9,1886.2 1720.8,1898.4 1721.7,1910.6 1721.8,1911.4 1722.6,1918.6 1723.5,1926.0 1724.4,1932.2 1725.3,1936.3 1725.4,1936.4 1726.2,1938.2 1727.1,1939.4 1728.0,1941.2 1728.2,1941.8 1728.9,1946.5 1729.8,1957.5 1730.7,1969.3 1731.4,1975.7 1731.6,1976.6 1732.5,1980.3 1733.4,1983.2 1734.3,1986.4 1734.3,1986.5 1735.2,1990.5 1736.1,1994.9 1737.0,1999.9 1737.1,2000.7 1737.9,2006.6 1738.8,2014.5 1739.6,2018.6 1739.7,2018.6 1740.6,2019.6 1741.5,2020.2 1742.4,2020.5 1743.3,2020.9 1744.2,2021.4 1745.0,2022.1 1745.1,2022.3 1746.0,2024.6 1746.9,2028.1 1747.8,2031.1 1748.6,2032.1 1748.7,2032.1 1749.6,2031.9 1750.5,2031.5 1751.4,2031.2 1752.1,2031.1 1752.3,2031.1 1753.2,2031.5 1754.1,2032.6 1755.0,2034.1 1755.9,2035.8 1756.8,2037.8 1757.5,2039.3 1757.7,2039.8 1758.6,2043.3 1759.5,2046.5 1760.0,2047.1 1760.4,2047.0 1761.3,2045.6 1762.2,2044.1 1762.9,2043.6 1763.1,2044.8 1764.0,2062.2 1764.9,2077.3 1765.0,2077.5 1765.8,2076.9 1766.7,2075.6 1767.6,2074.3 1768.2,2073.9 1768.5,2074.0 1769.4,2075.3 1770.3,2077.6 1771.2,2080.7 1771.8,2082.9 1772.1,2084.5 1773.0,2091.4 1773.6,2093.6 1773.9,2093.3 1774.8,2090.5 1775.7,2087.0 1776.4,2085.7 1776.6,2085.9 1777.5,2091.3 1778.4,2098.4 1778.9,2100.0 1779.3,2099.8 1780.2,2098.3 1781.1,2096.2 1782.0,2094.6 1782.5,2094.3 1782.9,2095.0 1783.8,2100.5 1784.7,2108.2 1785.6,2114.0 1786.1,2115.0 1786.5,2115.0 1787.4,2114.9 1788.3,2114.7 1789.2,2114.5 1790.1,2114.3 1790.7,2114.3 1791.0,2114.8 1791.9,2121.2 1792.8,2129.5 1793.6,2132.9 1793.7,2132.8 1794.6,2131.6 1795.5,2129.4 1796.4,2127.7 1796.8,2127.5 1797.3,2127.9 1798.2,2130.0 1799.1,2133.3 1800.0,2136.9 1800.4,2138.2 1800.9,2140.4 1801.8,2145.1 1802.7,2150.1 1803.6,2154.1 1804.5,2156.0 1804.6,2156.1 1805.4,2155.9 1806.3,2155.4 1807.2,2155.0 1807.5,2155.0 1808.1,2155.6 1809.0,2158.2 1809.9,2162.0 1810.8,2165.8 1811.1,2166.8 1811.7,2169.3 1812.6,2173.3 1813.5,2175.7 1813.6,2175.7 1814.4,2176.0 1815.3,2176.1 1816.2,2176.3 1816.4,2176.4 1817.1,2177.4 1818.0,2179.9 1818.9,2182.3 1819.3,2182.9 1819.8,2183.3 1820.7,2183.9 1821.6,2184.4 1822.5,2184.6 1822.9,2184.6 1823.4,2183.9 1824.3,2180.4 1825.2,2176.1 1826.1,2173.1 1826.4,2172.9 1827.0,2173.1 1827.9,2173.9 1828.8,2175.0 1829.7,2175.7 1830.0,2175.7 1830.6,2175.4 1831.5,2173.8 1832.4,2171.7 1833.3,2169.7 1833.6,2169.3 1834.2,2168.5 1835.1,2167.5 1836.0,2166.6 1836.9,2165.6 1837.8,2164.4 1837.9,2164.3 1838.7,2162.4 1839.6,2159.7 1840.5,2157.0 1841.4,2154.9 1842.1,2154.3 1842.3,2154.3 1843.2,2154.8 1844.1,2155.7 1845.0,2156.7 1845.9,2157.5 1846.8,2157.9 1846.8,2157.9 1847.7,2154.9 1848.6,2148.7 1849.5,2142.6 1850.4,2140.0 1850.4,2140.0 1851.3,2140.1 1852.2,2140.2 1853.1,2140.5 1854.0,2140.6 1854.9,2140.7 1855.0,2140.7 1855.8,2138.3 1856.7,2132.3 1857.5,2127.5 1857.6,2127.1 1858.5,2122.8 1859.4,2119.4 1860.0,2118.6 1860.3,2118.7 1861.2,2119.7 1862.1,2120.9 1862.9,2121.4 1863.0,2121.3 1863.9,2117.3 1864.8,2110.3 1865.7,2104.4 1865.7,2104.3 1866.6,2100.7 1867.5,2097.6 1868.4,2094.8 1869.3,2091.8 1869.3,2091.7 1870.2,2088.6 1871.1,2085.5 1872.0,2082.2 1872.9,2078.6 1872.9,2078.4 1873.8,2073.9 1874.7,2068.7 1875.6,2063.2 1876.4,2057.9 1876.5,2057.4 1877.4,2051.0 1878.3,2044.3 1878.9,2040.0 1879.2,2038.2 1880.1,2032.0 1880.7,2029.3 1881.0,2028.6 1881.9,2026.8 1882.8,2025.4 1883.7,2024.5 1884.3,2023.9 1884.6,2023.7 1885.5,2023.2 1886.4,2022.8 1887.3,2022.4 1888.2,2021.8 1888.6,2021.4 1889.1,2020.3 1890.0,2016.2 1890.7,2011.4 1890.9,2009.3 1891.8,1991.1 1892.1,1988.2 1892.7,1988.4 1893.6,1989.5 1894.5,1990.8 1895.4,1991.7 1895.7,1991.8 1896.3,1990.5 1897.2,1984.9 1898.1,1977.2 1899.0,1970.2 1899.3,1968.6 1899.9,1965.6 1900.8,1961.5 1901.7,1957.9 1902.6,1955.0 1902.9,1954.3 1903.5,1953.0 1904.4,1951.6 1905.3,1950.0 1905.7,1948.9 1906.2,1946.5 1907.1,1938.7 1908.0,1929.9 1908.6,1925.7 1908.9,1924.0 1909.8,1920.4 1910.7,1916.9 1911.1,1915.0 1911.6,1911.4 1912.5,1902.9 1913.4,1894.1 1914.3,1887.7 1914.6,1886.4 1915.2,1885.4 1916.1,1884.5 1917.0,1883.2 1917.1,1882.9 1917.9,1878.3 1918.8,1868.2 1919.7,1857.3 1920.0,1854.3 1920.6,1847.9 1921.5,1837.7 1922.4,1830.4 1922.9,1829.3 1923.3,1829.6 1924.2,1831.7 1925.1,1834.0 1925.7,1834.6 1926.0,1834.3 1926.9,1829.6 1927.8,1821.4 1928.7,1812.6 1929.6,1805.9 1930.0,1804.3 1930.5,1803.2 1931.4,1801.8 1932.3,1800.4 1932.5,1800.0 1933.2,1798.4 1934.1,1795.8 1935.0,1791.8 1935.0,1791.8 1935.9,1778.5 1936.8,1762.2 1937.1,1759.6 1937.7,1758.5 1938.6,1757.6 1939.5,1756.4 1939.6,1756.1 1940.4,1750.6 1941.3,1740.3 1942.1,1734.6 1942.2,1734.6 1943.1,1733.9 1944.0,1733.5 1944.9,1733.2 1945.8,1732.8 1946.7,1732.2 1946.8,1732.1 1947.6,1730.4 1948.5,1726.9 1949.4,1722.7 1950.3,1718.8 1950.4,1718.6 1951.2,1715.1 1952.1,1711.2 1953.0,1707.6 1953.9,1705.1 1953.9,1705.0 1954.8,1703.6 1955.7,1702.5 1956.6,1701.6 1957.5,1700.6 1958.4,1699.3 1958.6,1698.9 1959.3,1696.6 1960.2,1692.3 1961.1,1687.5 1962.0,1683.6 1962.9,1682.1 1962.9,1682.1 1963.8,1682.3 1964.7,1682.5 1965.6,1682.8 1966.4,1682.9 1966.5,1682.8 1967.4,1681.5 1968.3,1678.5 1969.2,1675.2 1970.1,1672.7 1970.7,1672.1 1971.0,1672.2 1971.9,1672.7 1972.8,1673.8 1973.6,1675.0 1973.7,1675.3 1974.6,1680.1 1975.5,1686.6 1976.4,1690.0 1976.4,1690.0 1977.3,1688.1 1978.2,1683.8 1979.1,1679.5 1980.0,1677.5 1980.0,1677.5 1980.9,1679.5 1981.8,1683.8 1982.7,1688.1 1983.6,1690.0 1983.6,1690.0 1984.5,1689.6 1985.4,1688.7 1986.3,1687.6 1987.2,1686.5 1988.1,1685.8 1988.6,1685.7 1989.0,1686.3 1989.9,1690.5 1990.8,1697.0 1991.7,1703.7 1992.6,1708.5 1993.2,1709.6 1993.5,1709.5 1994.4,1707.8 1995.3,1705.2 1996.2,1703.0 1996.8,1702.5 1997.1,1703.0 1998.0,1708.9 1998.9,1717.3 1999.3,1720.4 1999.8,1724.5 2000.7,1732.6 2001.6,1738.7 2002.1,1740.0 2002.5,1739.7 2003.4,1736.7 2004.3,1732.5 2005.2,1729.2 2005.7,1728.6 2006.1,1729.7 2007.0,1738.0 2007.9,1747.6 2008.6,1750.7 2008.8,1750.7 2009.7,1750.6 2010.6,1750.2 2011.5,1749.9 2012.4,1749.5 2013.3,1749.2 2014.2,1749.0 2014.6,1748.9 2015.1,1749.8 2016.0,1755.1 2016.9,1761.7 2017.1,1763.2 2017.8,1767.4 2018.7,1773.9 2019.6,1779.7 2020.5,1782.7 2020.7,1782.9 2021.4,1782.7 2022.3,1782.1 2023.2,1781.5 2024.1,1781.1 2024.3,1781.1 2025.0,1783.8 2025.9,1792.1 2026.8,1800.5 2027.1,1802.5 2027.7,1804.8 2028.6,1807.9 2029.5,1810.5 2030.4,1812.6 2030.7,1813.2 2031.3,1814.2 2032.2,1815.4 2033.1,1816.5 2034.0,1817.9 2034.3,1818.6 2034.9,1821.0 2035.8,1825.5 2036.1,1826.4 2036.7,1828.0 2037.6,1829.9 2038.5,1831.5 2039.4,1832.6 2039.6,1832.9 2040.3,1833.4 2041.2,1833.9 2042.1,1834.2 2043.0,1834.7 2043.9,1835.3 2044.3,1835.7 2044.8,1836.8 2045.7,1840.3 2046.6,1843.3 2046.8,1843.6 2047.5,1844.2 2048.4,1844.7 2049.3,1845.0 2050.2,1845.4 2051.1,1846.1 2051.4,1846.4 2052.0,1847.7 2052.9,1851.8 2053.8,1857.1 2053.9,1857.9 2054.7,1864.8 2055.6,1874.7 2056.4,1879.3 2056.5,1879.3 2057.4,1879.5 2058.3,1879.6 2059.2,1879.8 2060.0,1880.0 2060.1,1880.1 2061.0,1884.6 2061.9,1890.8 2062.1,1891.8 2062.8,1893.4 2063.7,1894.9 2064.6,1897.0 2064.6,1897.1 2065.5,1902.7 2066.4,1910.3 2067.1,1913.2 2067.3,1913.2 2068.2,1912.3 2069.1,1910.5 2070.0,1908.4 2070.9,1906.8 2071.8,1906.1 2071.8,1906.1 2072.7,1908.4 2073.6,1913.4 2074.5,1918.3 2075.4,1920.4 2075.4,1920.4 2076.3,1919.4 2077.2,1917.6 2078.1,1915.7 2078.9,1915.0 2079.0,1915.0 2079.9,1916.4 2080.8,1919.6 2081.7,1923.3 2082.6,1926.7 2083.5,1928.5 2083.6,1928.6 2084.4,1929.0 2085.3,1929.2 2086.2,1929.4 2087.1,1929.7 2087.9,1930.0 2088.0,1930.1 2088.9,1931.0 2089.8,1932.2 2090.7,1933.2 2091.4,1933.6 2091.6,1933.6 2092.5,1933.2 2093.4,1932.5 2094.3,1931.6 2095.2,1930.5 2095.7,1930.0 2096.1,1929.6 2097.0,1928.3 2097.9,1926.9 2098.8,1925.6 2099.7,1924.5 2100.4,1923.9 2100.6,1923.8 2101.5,1923.3 2102.4,1922.8 2103.3,1922.5 2104.2,1922.2 2105.0,1922.1 2105.1,1922.2 2106.0,1925.9 2106.9,1931.3 2107.5,1932.9 2107.8,1932.6 2108.7,1929.1 2109.6,1923.8 2110.5,1919.6 2111.1,1918.6 2111.4,1918.6 2112.3,1919.5 2113.2,1920.9 2114.1,1922.4 2115.0,1923.6 2115.7,1923.9 2115.9,1923.8 2116.8,1920.4 2117.7,1914.5 2118.6,1909.4 2119.3,1907.9 2119.5,1907.9 2120.4,1909.9 2121.3,1913.2 2122.2,1916.0 2122.9,1916.8 2123.1,1916.6 2124.0,1914.1 2124.9,1909.6 2125.8,1905.0 2126.7,1901.9 2127.1,1901.4 2127.6,1902.1 2128.5,1906.3 2129.4,1912.6 2130.3,1918.6 2131.2,1922.0 2131.4,1922.1 2132.1,1921.9 2133.0,1921.2 2133.9,1920.2 2134.8,1919.2 2135.7,1918.6 2136.1,1918.6 2136.6,1919.2 2137.5,1922.2 2138.4,1926.8 2139.3,1931.4 2139.6,1932.9 2140.2,1935.3 2141.1,1939.9 2142.0,1944.0 2142.9,1946.8 2143.2,1947.1 2143.8,1947.4 2144.7,1947.7 2145.0,1947.9 2145.6,1952.1 2146.5,1966.9 2147.4,1980.5 2147.9,1982.9 2148.3,1982.8 2149.2,1982.7 2150.1,1982.5 2151.0,1982.3 2151.9,1982.1 2152.1,1982.1 2152.8,1984.3 2153.7,1991.8 2154.6,2000.5 2155.5,2005.8 2155.7,2006.1 2156.4,2006.1 2157.3,2006.1 2158.2,2006.1 2159.1,2006.1 2160.0,2006.1 2160.9,2006.1 2161.1,2006.1 2161.8,2007.5 2162.7,2011.2 2163.6,2013.2 2163.6,2013.2 2164.5,2013.2 2165.4,2013.2 2166.3,2013.2 2167.1,2013.2 2167.2,2013.2 2168.1,2016.2 2169.0,2022.1 2169.9,2027.1 2170.0,2027.5 2170.8,2029.7 2171.7,2031.7 2172.6,2033.9 2172.9,2034.6 2173.5,2037.5 2174.4,2042.6 2175.3,2045.3 2175.4,2045.4 2176.2,2045.2 2177.1,2044.8 2178.0,2044.5 2178.9,2044.3 2178.9,2044.3 2179.8,2045.5 2180.7,2048.5 2181.6,2052.2 2182.5,2055.4 2183.4,2057.1 2183.6,2057.1 2184.3,2056.1 2185.2,2053.1 2186.1,2049.8 2187.0,2047.9 2187.1,2047.9 2187.9,2048.7 2188.8,2051.2 2189.7,2054.3 2190.6,2056.9 2191.4,2057.9 2191.5,2057.8 2192.4,2056.6 2193.3,2054.0 2194.2,2051.6 2195.0,2050.7 2195.1,2050.7 2196.0,2051.7 2196.9,2053.6 2197.8,2055.4 2198.6,2056.1 2198.7,2056.0 2199.6,2054.5 2200.5,2051.5 2201.4,2048.2 2202.3,2045.9 2202.9,2045.4 2203.2,2045.4 2204.1,2045.5 2205.0,2045.8 2205.9,2046.1 2206.8,2046.4 2207.5,2046.4 2207.7,2046.4 2208.6,2046.1 2209.5,2045.3 2210.4,2044.2 2211.3,2043.0 2212.1,2041.8 2212.2,2041.7 2213.1,2039.6 2214.0,2036.6 2214.9,2033.7 2215.8,2031.6 2216.4,2031.1 2216.7,2031.1 2217.6,2031.7 2218.5,2032.8 2219.4,2033.8 2220.3,2034.5 2220.7,2034.6 2221.2,2034.6 2222.1,2034.4 2223.0,2034.1 2223.9,2033.8 2224.8,2033.6 2225.4,2033.6 2225.7,2033.9 2226.6,2037.4 2227.5,2042.4 2228.4,2046.3 2228.9,2047.1 2229.3,2047.0 2230.2,2045.3 2231.1,2042.4 2232.0,2039.0 2232.9,2035.5 2233.8,2032.7 2234.7,2031.2 2235.0,2031.1 2235.6,2031.5 2236.5,2033.3 2237.4,2035.9 2238.3,2038.5 2239.2,2040.3 2239.6,2040.7 2240.1,2040.9 2241.0,2041.1 2241.9,2041.2 2242.8,2041.3 2243.7,2041.5 2244.6,2041.7 2245.0,2041.8 2245.5,2042.1 2246.4,2043.2 2247.3,2044.4 2248.2,2045.3 2248.6,2045.4 2249.1,2045.0 2250.0,2043.1 2250.9,2040.1 2251.8,2036.7 2252.7,2033.6 2253.6,2031.5 2253.9,2031.1 2254.5,2030.7 2255.4,2030.2 2256.3,2029.9 2257.2,2029.5 2257.5,2029.3 2258.1,2028.7 2259.0,2027.5 2259.9,2026.1 2260.8,2024.8 2261.7,2024.0 2262.1,2023.9 2262.6,2024.3 2263.5,2026.9 2264.4,2030.7 2265.3,2034.3 2266.2,2036.3 2266.4,2036.4 2267.1,2036.3 2268.0,2035.7 2268.9,2035.0 2269.8,2034.7 2270.0,2034.6 2270.7,2034.8 2271.6,2035.4 2272.5,2036.2 2273.4,2036.9 2274.3,2037.1 2274.3,2037.1 2275.2,2034.6 2276.1,2029.6 2277.0,2025.9 2277.1,2025.7 2277.9,2025.2 2278.8,2024.8 2279.7,2024.5 2280.6,2024.0 2280.7,2023.9 2281.5,2022.6 2282.4,2019.9 2283.3,2016.6 2284.2,2013.3 2285.1,2010.8 2286.0,2009.6 2286.1,2009.6 2286.9,2009.6 2287.8,2009.6 2288.7,2009.6 2289.6,2009.6 2289.6,2009.6 2290.5,2008.1 2291.4,2004.4 2292.3,2000.7 2293.2,1998.9 2293.2,1998.9 2294.1,2000.4 2295.0,2004.2 2295.9,2009.1 2296.8,2014.1 2297.7,2017.8 2298.6,2019.3 2298.6,2019.3 2299.5,2017.6 2300.4,2013.7 2301.3,2009.2 2302.2,2005.6 2302.9,2004.3 2303.1,2004.1 2304.0,2003.7 2304.9,2003.4 2305.8,2003.2 2306.7,2002.9 2307.5,2002.5 2307.6,2002.4 2308.5,2000.9 2309.4,1998.2 2310.3,1994.9 2311.2,1991.4 2312.1,1988.3 2312.1,1988.2 2313.0,1985.3 2313.9,1981.8 2314.8,1978.6 2315.7,1976.4 2316.4,1975.7 2316.6,1975.7 2317.5,1975.7 2318.4,1975.7 2319.3,1975.7 2320.0,1975.7 2320.2,1975.7 2321.1,1975.1 2322.0,1973.8 2322.9,1972.0 2323.6,1970.4 2323.8,1969.5 2324.7,1962.6 2325.6,1953.5 2326.4,1947.1 2326.5,1946.8 2327.4,1942.9 2328.3,1939.8 2329.2,1937.1 2330.1,1934.6 2330.7,1932.9 2331.0,1932.1 2331.9,1930.0 2332.8,1927.9 2333.6,1925.7 2333.7,1925.3 2334.6,1920.9 2335.5,1915.9 2336.1,1913.2 2336.4,1911.9 2337.3,1908.7 2338.2,1905.7 2339.1,1903.0 2340.0,1900.6 2340.7,1898.9 2340.9,1898.5 2341.8,1896.9 2342.7,1895.4 2343.6,1894.1 2344.5,1892.7 2345.0,1891.8 2345.4,1891.0 2346.3,1889.4 2347.2,1887.6 2348.1,1885.7 2349.0,1883.6 2349.3,1882.9 2349.9,1881.1 2350.8,1877.8 2351.7,1874.3 2352.6,1870.9 2353.5,1867.9 2353.9,1866.8 2354.4,1865.8 2355.3,1864.3 2356.2,1863.0 2357.1,1861.7 2358.0,1860.0 2358.6,1858.6 2358.9,1857.2 2359.8,1850.8 2360.7,1844.1 2361.4,1841.8 2361.6,1841.8 2362.5,1841.9 2363.4,1842.1 2364.3,1842.4 2365.2,1842.6 2366.1,1842.8 2366.8,1842.9 2367.0,1842.8 2367.9,1840.5 2368.8,1836.3 2369.7,1831.6 2370.4,1828.6 2370.6,1827.6 2371.5,1823.5 2372.4,1819.9 2372.9,1818.6 2373.3,1817.7 2374.2,1816.4 2375.1,1815.4 2376.0,1814.1 2376.4,1813.2 2376.9,1811.7 2377.8,1807.0 2378.7,1801.1 2379.6,1795.4 2380.5,1791.2 2381.1,1790.0 2381.4,1789.7 2382.3,1789.3 2383.2,1789.0 2384.1,1788.6 2384.6,1788.2 2385.0,1787.7 2385.9,1784.6 2386.8,1780.6 2387.7,1777.3 2388.2,1776.4 2388.6,1776.2 2389.5,1775.6 2390.4,1775.2 2391.3,1775.0 2391.8,1775.0 2392.2,1775.0 2393.1,1775.4 2394.0,1775.9 2394.9,1776.6 2395.8,1777.1 2396.7,1777.5 2397.1,1777.5 2397.6,1776.8 2398.5,1772.3 2399.4,1766.4 2400.3,1762.0 2400.7,1761.4 2401.2,1762.0 2402.1,1765.4 2403.0,1770.3 2403.9,1774.9 2404.8,1777.4 2405.0,1777.5 2405.7,1776.2 2406.6,1771.6 2407.5,1765.6 2408.4,1759.9 2409.3,1756.4 2409.6,1756.1 2410.2,1756.6 2411.1,1759.1 2412.0,1762.1 2412.9,1764.1 2413.2,1764.3 2413.8,1763.5 2414.7,1760.3 2415.6,1756.3 2416.5,1753.8 2416.8,1753.6 2417.4,1753.6 2418.3,1753.8 2419.2,1754.1 2420.1,1754.3 2420.4,1754.3 2421.0,1753.4 2421.9,1750.0 2422.8,1746.1 2423.7,1743.7 2423.9,1743.6 2424.6,1743.9 2425.5,1745.0 2426.4,1746.3 2427.3,1747.1 2427.5,1747.1 2428.2,1744.8 2429.1,1738.3 2430.0,1734.6 2430.0,1734.6 2430.9,1735.4 2431.8,1737.0 2432.7,1738.6 2433.6,1739.3 2433.6,1739.3 2434.5,1738.8 2435.4,1737.8 2436.3,1736.8 2437.1,1736.4 2437.2,1736.4 2438.1,1738.3 2439.0,1742.3 2439.9,1747.3 2440.8,1751.7 2441.7,1754.2 2441.8,1754.3 2442.6,1754.8 2443.5,1755.1 2444.4,1755.4 2445.3,1756.0 2445.4,1756.1 2446.2,1759.6 2447.1,1764.2 2447.1,1764.3 2448.0,1765.8 2448.9,1766.8 2449.8,1768.1 2450.0,1768.6 2450.7,1772.2 2451.6,1779.1 2452.5,1782.9 2452.5,1782.9 2453.4,1782.8 2454.3,1782.6 2455.2,1782.4 2456.1,1782.2 2457.0,1782.1 2457.1,1782.1 2457.9,1783.3 2458.8,1786.4 2459.7,1789.9 2460.6,1791.8 2460.7,1791.8 2461.5,1790.5 2462.4,1787.8 2463.2,1786.4 2463.3,1786.5 2464.2,1789.1 2465.1,1793.4 2465.7,1795.4 2466.0,1795.9 2466.9,1797.1 2467.8,1798.0 2468.7,1798.7 2469.6,1799.3 2470.5,1800.1 2471.4,1801.2 2472.1,1802.5 2472.3,1802.9 2473.2,1806.6 2474.1,1812.2 2475.0,1818.1 2475.7,1822.1 2475.9,1823.0 2476.8,1827.0 2477.7,1830.6 2478.6,1834.2 2479.5,1837.8 2480.0,1840.0 2480.4,1842.1 2481.3,1847.3 2482.1,1850.0 2482.2,1850.0 2483.1,1850.3 2484.0,1850.4 2484.9,1850.5 2485.7,1850.7 2485.8,1850.8 2486.7,1853.6 2487.6,1858.2 2488.2,1860.7 2488.5,1861.6 2489.4,1864.3 2490.3,1866.7 2491.2,1868.2 2491.8,1868.6 2492.1,1868.5 2493.0,1867.8 2493.9,1866.8 2494.8,1865.9 2495.4,1865.7 2495.7,1866.3 2496.6,1872.2 2497.5,1879.2 2497.9,1881.1 2498.4,1882.9 2499.3,1885.1 2500.2,1886.9 2501.1,1888.7 2502.0,1891.1 2502.5,1892.9 2502.9,1895.0 2503.8,1902.1 2504.7,1909.5 2505.0,1911.4 2505.6,1914.8 2506.5,1919.5 2507.4,1922.9 2507.9,1923.9 2508.3,1924.6 2509.2,1925.6 2510.1,1926.3 2510.7,1926.4 2511.0,1926.4 2511.9,1925.3 2512.8,1923.8 2513.7,1922.5 2514.3,1922.1 2514.6,1923.0 2515.5,1931.5 2516.4,1940.5 2516.8,1941.8 2517.3,1941.5 2518.2,1940.0 2519.1,1937.7 2520.0,1935.4 2520.9,1933.9 2521.4,1933.6 2521.8,1933.7 2522.7,1934.6 2523.6,1936.2 2524.5,1937.9 2525.4,1939.3 2526.3,1940.0 2526.4,1940.0 2527.2,1939.9 2528.1,1939.5 2529.0,1938.9 2529.9,1938.2 2530.8,1937.4 2531.1,1937.1 2531.7,1936.3 2532.6,1934.3 2533.5,1932.3 2534.4,1931.1 2534.6,1931.1 2535.3,1931.4 2536.2,1932.5 2537.1,1933.8 2538.0,1934.6 2538.2,1934.6 2538.9,1933.5 2539.8,1930.4 2540.7,1928.6 2540.7,1928.6 2541.6,1929.1 2542.5,1930.6 2543.4,1932.6 2544.3,1934.6 2544.3,1934.7 2545.2,1937.4 2546.1,1940.7 2547.0,1943.3 2547.1,1943.6 2547.9,1944.7 2548.8,1945.6 2549.7,1946.7 2550.0,1947.1 2550.6,1948.8 2551.5,1952.2 2552.4,1954.3 2552.5,1954.3 2553.3,1954.3 2554.2,1954.3 2555.1,1954.3 2556.0,1954.3 2556.1,1954.3 2556.9,1955.0 2557.8,1957.1 2558.7,1959.6 2559.6,1961.9 2560.5,1963.2 2560.7,1963.2 2561.4,1963.1 2562.3,1962.6 2563.2,1962.0 2564.1,1961.3 2565.0,1960.9 2565.7,1960.7 2565.9,1960.8 2566.8,1962.3 2567.7,1964.9 2568.6,1967.2 2569.3,1967.9 2569.5,1967.8 2570.4,1966.4 2571.3,1963.8 2572.2,1961.0 2573.1,1958.7 2573.9,1957.9 2574.0,1957.9 2574.9,1959.7 2575.8,1963.2 2576.7,1966.6 2577.5,1967.9 2577.6,1967.9 2578.5,1967.6 2579.4,1967.1 2580.3,1966.5 2581.2,1965.9 2582.1,1965.7 2582.1,1965.7 2583.0,1969.8 2583.9,1979.3 2584.8,1989.0 2585.7,1993.6 2585.7,1993.6 2586.6,1992.5 2587.5,1990.0 2588.4,1987.5 2589.3,1986.4 2589.3,1986.4 2590.2,1988.0 2591.1,1991.7 2592.0,1995.9 2592.9,1998.9 2592.9,1999.0 2593.8,2001.5 2594.7,2003.8 2595.6,2005.5 2596.4,2006.1 2596.5,2006.1 2597.4,2006.1 2598.3,2006.1 2599.2,2006.1 2600.0,2006.1 2600.1,2006.1 2601.0,2006.9 2601.9,2008.7 2602.8,2010.9 2603.7,2012.9 2604.6,2014.1 2605.0,2014.3 2605.5,2014.2 2606.4,2013.9 2607.3,2013.5 2608.2,2013.2 2608.6,2013.2 2609.1,2014.0 2610.0,2018.0 2610.9,2023.1 2611.8,2026.9 2612.1,2027.5 2612.7,2027.9 2613.6,2028.3 2614.5,2028.7 2615.4,2028.9 2616.3,2029.2 2616.8,2029.3 2617.2,2029.4 2618.1,2029.6 2619.0,2029.9 2619.9,2030.0 2620.4,2030.0 2620.8,2029.5 2621.7,2026.6 2622.6,2024.1 2622.9,2023.9 2623.5,2025.3 2624.4,2030.3 2625.3,2036.2 2626.2,2039.8 2626.4,2040.0 2627.1,2039.5 2628.0,2037.8 2628.9,2035.9 2629.8,2034.7 2630.0,2034.6 2630.7,2036.2 2631.6,2041.3 2632.5,2047.0 2633.4,2050.5 2633.6,2050.7 2634.3,2050.9 2635.2,2051.1 2636.1,2051.2 2637.0,2051.4 2637.1,2051.4 2637.9,2052.1 2638.8,2053.5 2639.7,2055.3 2640.6,2056.9 2641.5,2057.8 2641.8,2057.9 2642.4,2057.6 2643.3,2056.5 2644.2,2055.2 2645.1,2054.3 2645.4,2054.3 2646.0,2056.9 2646.9,2062.8 2647.1,2063.2 2647.8,2062.4 2648.7,2059.3 2649.6,2055.8 2650.5,2053.7 2650.7,2053.6 2651.4,2055.1 2652.3,2060.3 2653.2,2066.3 2654.1,2070.1 2654.3,2070.4 2655.0,2070.7 2655.9,2071.0 2656.8,2071.2 2657.7,2071.4 2657.9,2071.4 2658.6,2071.6 2659.5,2071.7 2660.4,2071.9 2661.3,2072.0 2662.2,2072.1 2663.1,2072.1 2663.2,2072.1 2664.0,2071.5 2664.9,2069.7 2665.8,2067.8 2666.7,2066.8 2666.8,2066.8 2667.6,2067.0 2668.5,2067.6 2669.4,2068.5 2670.3,2069.4 2671.2,2070.1 2672.1,2070.4 2672.1,2070.4 2673.0,2068.3 2673.9,2063.6 2674.8,2058.6 2675.7,2056.1 2675.7,2056.1 2676.6,2055.7 2677.5,2055.5 2678.4,2055.3 2679.3,2055.1 2680.2,2055.0 2681.1,2055.0 2681.1,2055.0 2682.0,2055.5 2682.9,2056.8 2683.8,2058.3 2684.6,2059.6 2684.7,2059.7 2685.6,2061.3 2686.5,2062.8 2687.1,2063.2 2687.4,2063.0 2688.3,2060.2 2689.2,2055.3 2690.1,2050.1 2690.7,2047.1 2691.0,2046.1 2691.9,2043.0 2692.8,2040.1 2693.7,2037.0 2694.3,2034.6 2694.6,2033.3 2695.5,2028.9 2696.4,2024.0 2697.3,2018.6 2697.9,2015.0 2698.2,2012.6 2699.1,2005.5 2700.0,1997.8 2700.7,1991.8 2700.9,1990.3 2701.8,1982.8 2702.7,1975.4 2703.6,1968.6 2703.6,1968.4 2704.5,1961.8 2705.4,1955.5 2706.1,1950.7 2706.3,1949.0 2707.2,1941.7 2708.1,1935.2 2708.6,1932.9 2709.0,1931.4 2709.9,1929.3 2710.8,1927.6 2711.7,1925.4 2712.1,1923.9 2712.6,1921.5 2713.5,1914.3 2714.4,1906.4 2715.0,1902.5 2715.3,1901.1 2716.2,1897.5 2717.1,1894.4 2717.9,1891.8 2718.0,1891.2 2718.9,1887.5 2719.8,1884.1 2720.4,1882.9 2720.7,1882.4 2721.6,1881.8 2722.5,1881.3 2723.4,1880.7 2723.9,1880.0 2724.3,1878.6 2725.2,1871.2 2726.1,1864.1 2726.4,1863.2 2727.0,1862.9 2727.9,1862.7 2728.8,1862.4 2729.3,1862.1 2729.7,1861.4 2730.6,1857.5 2731.5,1852.7 2732.1,1850.0 2732.4,1849.2 2733.3,1846.4 2734.2,1843.8 2735.1,1842.2 2735.7,1841.8 2736.0,1841.8 2736.9,1842.1 2737.8,1842.6 2738.7,1843.2 2739.6,1843.5 2740.0,1843.6 2740.5,1843.5 2741.4,1843.1 2742.3,1842.6 2743.2,1842.1 2744.1,1841.8 2744.3,1841.8 2745.0,1841.9 2745.9,1842.2 2746.8,1842.6 2747.7,1843.3 2748.6,1844.0 2748.9,1844.3 2749.5,1845.2 2750.4,1847.8 2751.3,1850.6 2752.2,1852.4 2752.5,1852.5 2753.1,1852.0 2754.0,1849.8 2754.9,1846.9 2755.8,1844.2 2756.1,1843.6 2756.7,1842.2 2757.6,1840.3 2758.5,1839.3 2758.6,1839.3 2759.4,1840.5 2760.3,1843.4 2761.2,1846.4 2762.1,1847.9 2762.1,1847.9 2763.0,1845.9 2763.9,1841.4 2764.8,1836.8 2765.7,1834.6 2765.7,1834.6 2766.6,1834.7 2767.5,1835.0 2768.4,1835.3 2769.3,1835.6 2770.2,1835.7 2770.4,1835.7 2771.1,1835.0 2772.0,1832.6 2772.9,1829.6 2773.8,1826.8 2774.7,1825.1 2775.0,1825.0 2775.6,1825.5 2776.5,1827.5 2777.4,1830.1 2778.3,1832.4 2778.6,1832.9 2779.2,1833.7 2780.1,1834.7 2781.0,1835.5 2781.9,1836.3 2782.8,1837.1 2782.9,1837.1 2783.7,1837.9 2784.6,1838.8 2785.5,1839.7 2786.4,1840.3 2787.1,1840.7 2787.3,1840.8 2788.2,1841.0 2789.1,1841.2 2790.0,1841.3 2790.9,1841.5 2791.8,1841.8 2791.8,1841.8 2792.7,1842.7 2793.6,1844.3 2794.5,1845.8 2795.4,1846.4 2795.4,1846.4 2796.3,1846.3 2797.2,1846.1 2798.1,1845.7 2799.0,1845.5 2799.9,1845.4 2800.0,1845.4 2800.8,1845.8 2801.7,1847.2 2802.6,1849.0 2803.5,1851.0 2804.3,1852.5 2804.4,1852.7 2805.3,1854.5 2806.2,1856.3 2807.1,1857.9 2807.9,1858.6 2808.0,1858.6 2808.9,1858.9 2809.8,1859.1 2810.7,1859.3 2811.6,1859.5 2812.1,1859.6 2812.5,1859.8 2813.4,1860.5 2814.3,1861.2 2815.0,1861.4 2815.2,1861.4 2816.1,1860.6 2817.0,1859.0 2817.9,1857.4 2818.8,1856.3 2819.3,1856.1 2819.7,1856.7 2820.6,1861.0 2821.5,1866.9 2822.4,1871.4 2822.9,1872.1 2823.3,1872.1 2824.2,1871.9 2825.1,1871.5 2826.0,1871.1 2826.9,1870.7 2827.8,1870.4 2828.6,1870.4 2828.7,1870.4 2829.6,1871.4 2830.5,1873.4 2831.4,1875.4 2832.1,1876.4 2832.3,1876.5 2833.2,1876.9 2834.1,1877.2 2834.6,1877.5 2835.0,1877.8 2835.9,1878.8 2836.8,1880.0 2837.7,1880.9 2838.2,1881.1 2838.6,1880.9 2839.5,1879.4 2840.4,1876.9 2841.3,1873.8 2842.2,1870.7 2843.1,1868.2 2844.0,1866.9 2844.3,1866.8 2844.9,1867.4 2845.8,1869.8 2846.7,1872.8 2847.6,1874.8 2847.9,1875.0 2848.5,1875.2 2849.4,1875.3 2850.3,1875.4 2851.2,1875.6 2851.4,1875.7 2852.1,1876.5 2853.0,1878.6 2853.9,1881.2 2854.8,1883.3 2855.0,1883.6 2855.7,1884.4 2856.6,1885.2 2857.5,1886.1 2857.9,1886.4 2858.4,1887.1 2859.3,1888.5 2860.2,1890.0 2861.1,1891.2 2862.0,1891.8 2862.1,1891.8 2862.9,1891.2 2863.8,1889.4 2864.7,1887.5 2865.6,1886.4 2865.7,1886.4 2866.5,1886.8 2867.4,1887.7 2868.3,1888.8 2869.2,1889.3 2869.3,1889.3 2870.1,1888.0 2871.0,1884.6 2871.9,1880.2 2872.8,1876.2 2873.7,1874.0 2873.9,1873.9 2874.6,1874.1 2875.5,1874.7 2876.4,1875.3 2877.3,1875.7 2877.5,1875.7 2878.2,1874.6 2879.1,1871.2 2880.0,1867.3 2880.9,1865.1 2881.1,1865.0 2881.8,1867.3 2882.7,1874.3 2883.6,1882.0 2884.5,1886.3 2884.6,1886.4 2885.4,1885.7 2886.3,1883.5 2887.2,1880.7 2888.1,1878.1 2889.0,1876.5 2889.3,1876.4 2889.9,1877.8 2890.8,1883.1 2891.7,1889.3 2892.6,1893.3 2892.9,1893.6 2893.5,1892.9 2894.4,1890.4 2895.3,1887.6 2896.2,1885.8 2896.4,1885.7 2897.1,1886.7 2898.0,1890.3 2898.9,1894.9 2899.8,1899.0 2900.7,1900.7 2900.7,1900.7 2901.6,1900.1 2902.5,1898.7 2903.4,1897.0 2904.3,1895.7 2905.0,1895.4 2905.2,1895.5 2906.1,1898.0 2907.0,1902.9 2907.9,1908.3 2908.8,1912.6 2909.6,1914.3 2909.7,1914.3 2910.6,1913.9 2911.5,1913.0 2912.4,1912.0 2913.3,1911.1 2914.2,1910.7 2914.3,1910.7 2915.1,1913.3 2916.0,1919.8 2916.9,1926.6 2917.8,1930.0 2917.9,1930.0 2918.7,1928.5 2919.6,1924.8 2920.5,1921.1 2921.4,1919.3 2921.4,1919.3 2922.3,1921.6 2923.2,1927.1 2924.1,1932.8 2925.0,1935.7 2925.0,1935.7 2925.9,1936.2 2926.8,1936.4 2927.7,1936.6 2928.6,1936.8 2929.3,1937.1 2929.5,1937.3 2930.4,1938.9 2931.3,1941.2 2932.2,1943.5 2933.1,1945.1 2933.6,1945.4 2934.0,1944.9 2934.9,1941.7 2935.8,1938.2 2936.4,1937.1 2936.7,1937.4 2937.6,1941.0 2938.5,1946.6 2939.4,1951.3 2940.0,1952.5 2940.3,1952.3 2941.2,1949.7 2942.1,1945.7 2943.0,1942.5 2943.6,1941.8 2943.9,1942.3 2944.8,1947.2 2945.7,1954.4 2946.6,1960.2 2947.1,1961.4 2947.5,1961.3 2948.4,1960.5 2949.3,1959.3 2950.2,1958.0 2951.1,1957.2 2951.4,1957.1 2952.0,1957.8 2952.9,1961.1 2953.8,1965.5 2954.7,1969.4 2955.0,1970.4 2955.6,1971.9 2956.5,1974.0 2957.4,1975.7 2957.9,1976.4 2958.3,1977.0 2959.2,1977.8 2960.1,1978.5 2960.7,1979.3 2961.0,1979.8 2961.9,1982.5 2962.8,1986.1 2963.7,1989.4 2964.6,1991.5 2965.0,1991.8 2965.5,1991.4 2966.4,1989.4 2967.3,1986.7 2968.2,1984.9 2968.6,1984.6 2969.1,1985.6 2970.0,1990.3 2970.9,1996.2 2971.8,2000.3 2972.1,2000.7 2972.7,2000.0 2973.6,1996.6 2974.5,1992.4 2975.4,1989.5 2975.7,1989.3 2976.3,1990.1 2977.2,1993.9 2978.1,1999.1 2979.0,2003.8 2979.9,2006.0 2980.0,2006.1 2980.8,2004.8 2981.7,2001.6 2982.6,1998.2 2983.5,1996.4 2983.6,1996.4 2984.4,1996.9 2985.3,1998.1 2986.2,1999.4 2987.1,2000.0 2987.1,2000.0 2988.0,1999.0 2988.9,1996.5 2989.8,1994.0 2990.7,1992.9 2990.7,1992.9 2991.6,1993.0 2992.5,1993.3 2993.4,1993.6 2993.6,1993.6 2994.3,1993.3 2995.2,1992.3 2996.1,1990.9 2997.0,1989.4 2997.9,1988.2 2997.9,1988.2 2998.8,1987.2 2999.7,1986.4 3000.6,1985.5 3001.4,1984.6 3001.5,1984.6 3002.4,1983.2 3003.3,1981.8 3004.2,1981.1 3004.3,1981.1 3005.1,1983.2 3006.0,1988.0 3006.9,1991.6 3007.1,1991.8 3007.8,1990.7 3008.7,1986.7 3009.6,1982.2 3010.5,1979.4 3010.7,1979.3 3011.4,1979.5 3012.3,1980.0 3013.2,1980.7 3014.1,1981.1 3014.3,1981.1 3015.0,1978.9 3015.9,1973.4 3016.8,1970.4 3016.8,1970.4 3017.7,1970.9 3018.6,1972.2 3019.5,1973.4 3020.4,1973.9 3020.4,1973.9 3021.3,1972.9 3022.2,1970.6 3023.1,1967.8 3024.0,1965.4 3024.9,1964.3 3025.0,1964.3 3025.8,1964.4 3026.7,1964.6 3027.6,1964.9 3028.5,1965.0 3028.6,1965.0 3029.4,1962.9 3030.3,1957.6 3031.2,1951.9 3032.1,1949.0 3032.1,1948.9 3033.0,1948.6 3033.9,1948.4 3034.8,1948.3 3035.7,1948.1 3036.4,1947.9 3036.6,1947.8 3037.5,1946.7 3038.4,1945.2 3039.3,1944.0 3040.0,1943.6 3040.2,1943.6 3041.1,1944.2 3042.0,1945.0 3042.9,1945.4 3042.9,1945.4 3043.8,1943.2 3044.7,1938.8 3045.6,1934.6 3046.4,1932.9 3046.5,1932.9 3047.4,1933.8 3048.3,1935.7 3049.2,1937.5 3050.0,1938.2 3050.1,1938.2 3051.0,1937.5 3051.9,1936.0 3052.8,1934.3 3053.7,1933.1 3054.3,1932.9 3054.6,1933.0 3055.5,1934.6 3056.4,1936.9 3057.3,1938.9 3057.9,1939.3 3058.2,1939.2 3059.1,1938.0 3060.0,1936.1 3060.9,1934.3 3061.4,1933.6 3061.8,1933.2 3062.7,1932.4 3063.6,1931.7 3064.5,1931.1 3065.4,1930.4 3066.3,1929.7 3066.8,1929.3 3067.2,1928.9 3068.1,1928.0 3069.0,1927.0 3069.9,1926.0 3070.8,1924.8 3071.4,1923.9 3071.7,1923.5 3072.6,1921.9 3073.5,1920.1 3074.4,1918.2 3075.0,1916.8 3075.3,1916.0 3076.2,1913.4 3077.1,1910.5 3078.0,1908.1 3078.6,1907.1 3078.9,1906.7 3079.8,1905.8 3080.7,1905.0 3081.6,1904.4 3082.5,1903.8 3082.9,1903.6 3083.4,1903.2 3084.3,1902.6 3085.2,1902.0 3086.1,1901.6 3087.0,1901.4 3087.1,1901.4 3087.9,1903.3 3088.8,1908.7 3089.7,1914.7 3090.6,1918.4 3090.7,1918.6 3091.5,1919.1 3092.4,1919.5 3093.3,1919.8 3094.2,1920.3 3094.3,1920.4 3095.1,1921.2 3096.0,1922.5 3096.9,1923.9 3097.8,1925.1 3098.7,1925.7 3098.9,1925.7 3099.6,1924.9 3100.5,1922.0 3101.4,1918.8 3102.3,1916.9 3102.5,1916.8 3103.2,1917.1 3104.1,1918.3 3105.0,1919.8 3105.9,1921.2 3106.8,1922.1 3107.1,1922.1 3107.7,1921.6 3108.6,1919.3 3109.5,1916.4 3110.4,1914.5 3110.7,1914.3 3111.3,1914.4 3112.2,1914.7 3113.1,1915.0 3113.2,1915.0 3114.0,1913.9 3114.9,1910.7 3115.8,1907.2 3116.7,1905.1 3116.8,1905.0 3117.6,1904.6 3118.5,1904.3 3119.4,1904.1 3120.3,1903.6 3120.4,1903.6 3121.2,1901.9 3122.1,1898.6 3123.0,1895.3 3123.9,1893.6 3123.9,1893.6 3124.8,1893.3 3125.7,1893.2 3126.6,1893.1 3127.5,1892.9 3127.5,1892.9 3128.4,1891.5 3129.3,1888.7 3130.2,1885.7 3131.1,1883.6 3131.1,1883.5 3132.0,1882.1 3132.9,1880.8 3133.8,1879.7 3134.7,1878.9 3135.6,1878.6 3135.7,1878.6 3136.5,1878.9 3137.4,1879.8 3138.3,1880.9 3139.2,1881.8 3140.0,1882.1 3140.1,1882.1 3141.0,1880.9 3141.9,1878.6 3142.8,1876.5 3143.6,1875.7 3143.7,1875.7 3144.6,1876.6 3145.5,1877.9 3146.4,1878.6 3146.4,1878.6 3147.3,1876.5 3148.2,1871.5 3149.1,1866.3 3150.0,1863.2 3150.0,1863.2 3150.9,1862.4 3151.8,1861.9 3152.7,1861.5 3153.6,1860.7 3153.6,1860.7 3154.5,1858.6 3155.4,1855.2 3156.3,1851.5 3157.2,1848.4 3157.9,1847.1 3158.1,1846.9 3159.0,1846.1 3159.9,1845.6 3160.8,1845.1 3161.7,1844.7 3162.6,1844.1 3163.2,1843.6 3163.5,1843.3 3164.4,1841.8 3165.3,1840.0 3166.2,1838.2 3167.1,1836.6 3167.9,1835.7 3168.0,1835.6 3168.9,1835.1 3169.8,1834.7 3170.7,1834.4 3171.6,1834.1 3172.5,1833.8 3173.4,1833.3 3173.9,1832.9 3174.3,1832.4 3175.2,1830.2 3176.1,1828.1 3176.2,1828.0 3177.0,1827.1 3177.9,1826.3 3178.8,1826.0 3178.8,1826.0 3179.7,1826.4 3180.6,1827.1 3181.5,1827.8 3182.1,1828.0 3182.4,1828.0 3183.3,1827.8 3184.2,1827.5 3185.1,1827.2 3185.4,1827.0 3186.0,1826.4 3186.9,1824.7 3187.8,1823.5 3188.0,1823.5 3188.7,1824.2 3189.6,1825.9 3190.5,1827.0 3190.5,1827.0 3191.4,1826.9 3192.3,1826.7 3193.2,1826.6 3193.3,1826.6 3194.1,1827.7 3195.0,1830.1 3195.8,1831.9 3195.9,1832.0 3196.8,1833.2 3197.7,1834.2 3198.4,1834.8 3198.6,1835.0 3199.5,1835.6 3200.4,1836.1 3201.1,1836.8 3201.3,1837.1 3202.2,1839.4 3203.1,1841.7 3203.1,1841.8 3204.0,1843.1 3204.9,1844.3 3205.6,1845.6 3205.8,1846.2 3206.7,1850.3 3207.6,1853.4 3207.6,1853.5 3208.5,1854.5 3209.4,1855.2 3210.3,1855.8 3210.9,1856.4 3211.2,1856.7 3212.1,1858.0 3213.0,1859.3 3213.9,1860.2 3214.0,1860.3 3214.8,1860.7 3215.7,1861.1 3216.6,1861.3 3216.8,1861.3 3217.5,1860.6 3218.4,1858.9 3219.3,1857.2 3219.9,1856.8 3220.2,1856.9 3221.1,1858.2 3222.0,1860.1 3222.6,1861.3 3222.9,1861.7 3223.8,1863.2 3224.6,1863.8 3224.7,1863.8 3225.6,1862.9 3226.5,1861.7 3227.1,1861.3 3227.4,1861.3 3228.3,1862.1 3229.2,1863.2 3230.1,1864.1 3230.5,1864.2 3231.0,1864.2 3231.9,1864.2 3232.8,1864.2 3233.7,1864.2 3234.0,1864.2 3234.6,1864.6 3235.5,1866.0 3236.4,1867.6 3236.9,1868.1 3237.3,1868.3 3238.2,1868.5 3239.1,1868.7 3240.0,1869.0 3240.3,1869.1 3240.9,1870.9 3241.8,1876.3 3242.7,1880.6 3242.8,1880.9 3243.6,1882.0 3244.5,1883.0 3245.4,1883.7 3246.3,1884.4 3246.7,1884.8 3247.2,1885.1 3248.1,1885.7 3249.0,1886.2 3249.9,1886.9 3250.6,1887.7 3250.8,1888.0 3251.7,1891.1 3252.6,1894.6 3252.6,1894.6 3253.5,1896.8 3254.4,1898.7 3255.3,1900.8 3255.5,1901.4 3256.2,1903.6 3257.1,1906.9 3257.5,1908.3 3258.0,1909.8 3258.9,1912.5 3259.8,1915.1 3260.4,1917.1 3260.7,1918.0 3261.6,1921.3 3262.4,1923.9 3262.5,1924.2 3263.4,1926.9 3264.3,1929.2 3265.2,1931.0 3265.3,1931.2 3266.1,1932.1 3267.0,1932.8 3267.9,1933.5 3268.8,1934.6 3268.9,1934.7 3269.7,1936.8 3270.6,1939.9 3270.8,1940.6 3271.5,1943.1 3272.4,1946.6 3273.3,1949.5 3273.6,1950.0 3274.2,1950.8 3275.1,1951.7 3276.0,1952.4 3276.7,1953.3 3276.9,1953.7 3277.8,1956.0 3278.7,1958.8 3279.0,1959.8 3279.6,1961.2 3280.5,1963.5 3281.4,1966.0 3281.4,1966.1 3282.3,1969.5 3283.2,1972.6 3283.3,1972.9 3284.1,1974.0 3285.0,1974.8 3285.9,1976.2 3285.9,1976.2 3286.8,1980.6 3287.3,1983.7 3287.7,1986.9 3288.4,1992.5 3288.6,1993.3 3289.5,1997.2 3289.8,1998.3 3290.4,2000.3 3291.3,2002.9 3291.8,2004.2 3292.2,2005.5 3293.1,2008.0 3294.0,2010.2 3294.3,2010.7 3294.9,2011.4 3295.8,2012.3 3296.7,2013.1 3297.1,2013.4 3297.6,2013.8 3298.5,2014.4 3299.4,2015.0 3300.2,2016.0 3300.3,2016.2 3301.2,2021.9 3302.1,2027.1 3302.1,2027.1 3303.0,2028.0 3303.9,2028.6 3304.5,2028.7 3304.8,2028.6 3305.7,2027.2 3306.6,2025.9 3306.8,2025.8 3307.5,2027.0 3308.4,2030.5 3308.8,2031.6 3309.3,2032.6 3310.2,2034.2 3311.1,2035.5 3312.0,2036.6 3312.3,2036.9 3312.9,2037.5 3313.8,2038.1 3314.7,2038.8 3315.3,2039.5 3315.6,2040.2 3316.5,2043.5 3317.4,2046.7 3317.8,2047.3 3318.3,2047.5 3319.2,2047.7 3320.1,2047.8 3321.0,2048.0 3321.7,2048.3 3321.9,2048.5 3322.8,2051.7 3323.7,2055.2 3324.1,2055.7 3324.6,2055.6 3325.5,2054.9 3326.4,2054.2 3326.4,2054.2 3327.3,2053.4 3328.2,2052.5 3329.0,2052.2 3329.1,2052.2 3330.0,2052.4 3330.9,2052.8 3331.8,2053.5 3332.7,2054.4 3332.9,2054.6 3333.6,2056.3 3334.5,2059.4 3334.8,2060.0 3335.4,2060.6 3336.3,2061.1 3337.2,2061.6 3337.8,2062.0 3338.1,2062.3 3339.0,2063.8 3339.9,2064.9 3340.1,2064.9 3340.8,2064.4 3341.7,2063.0 3342.6,2062.0 3342.7,2062.0 3343.5,2062.7 3344.4,2064.2 3345.3,2065.4 3345.6,2065.5 3346.2,2064.4 3347.1,2060.2 3348.0,2057.1 3348.0,2057.1 3348.9,2055.9 3349.8,2055.2 3350.7,2054.5 3351.1,2054.2 3351.6,2053.8 3352.5,2053.1 3353.4,2052.5 3354.3,2051.4 3354.4,2051.2 3355.2,2048.6 3356.1,2043.9 3356.4,2042.4 3357.0,2039.0 3357.8,2035.6 3357.9,2035.3 3358.8,2034.0 3359.7,2033.3 3360.6,2032.2 3360.9,2031.6 3361.5,2029.3 3362.4,2024.1 3362.9,2021.8 3363.3,2019.9 3364.2,2016.2 3364.8,2015.0 3365.1,2014.8 3366.0,2014.5 3366.9,2014.3 3367.6,2014.0 3367.8,2013.8 3368.7,2012.2 3369.5,2010.1 3369.6,2009.8 3370.5,2005.9 3371.4,2002.4 3371.5,2002.3 3372.3,2001.2 3373.2,2000.5 3374.1,1999.8 3374.6,1999.3 3375.0,1998.9 3375.9,1998.0 3376.8,1996.7 3377.0,1996.4 3377.7,1993.5 3378.6,1988.6 3379.3,1986.6 3379.5,1986.5 3380.4,1986.2 3381.3,1986.0 3382.2,1985.8 3382.4,1985.6 3383.1,1982.9 3384.0,1975.9 3384.8,1971.9 3384.9,1971.7 3385.8,1970.7 3386.7,1970.0 3387.1,1970.0 3387.6,1970.0 3388.5,1970.1 3389.4,1970.3 3390.3,1970.3 3390.3,1970.3 3391.2,1965.9 3392.1,1958.9 3392.2,1958.2 3393.0,1954.0 3393.6,1952.3 3393.9,1952.3 3394.8,1952.1 3395.7,1952.1 3396.5,1951.9 3396.6,1951.9 3397.5,1951.5 3398.4,1950.8 3399.3,1949.6 3399.5,1949.4 3400.2,1946.3 3401.1,1940.1 3402.0,1936.7 3402.0,1936.7 3402.9,1937.3 3403.8,1938.8 3404.7,1940.2 3405.3,1940.6 3405.6,1940.3 3406.5,1936.8 3407.4,1932.2 3407.9,1930.8 3408.3,1930.2 3409.2,1929.2 3409.9,1928.8 3410.1,1928.8 3411.0,1928.7 3411.9,1928.6 3412.8,1928.5 3413.2,1928.4 3413.7,1927.5 3414.6,1923.1 3415.5,1917.7 3416.1,1915.1 3416.4,1914.3 3417.3,1911.8 3418.1,1910.8 3418.2,1910.8 3419.1,1912.3 3420.0,1914.6 3420.9,1916.1 3421.0,1916.1 3421.8,1909.5 3422.7,1898.5 3423.0,1897.5 3423.6,1897.7 3424.5,1898.7 3425.4,1899.9 3426.3,1900.8 3426.9,1901.0 3427.2,1900.9 3428.1,1899.3 3429.0,1896.9 3429.8,1895.1 3429.9,1895.0 3430.8,1893.8 3431.7,1892.8 3432.6,1891.8 3432.8,1891.6 3433.5,1890.8 3434.4,1889.9 3435.3,1888.7 3435.7,1888.1 3436.2,1886.9 3437.1,1883.7 3438.0,1881.8 3438.1,1881.8 3438.9,1882.3 3439.8,1883.3 3440.7,1884.3 3441.6,1884.8 3441.6,1884.8 3442.5,1882.5 3443.4,1878.6 3443.9,1876.9 3444.3,1876.3 3445.2,1875.1 3446.1,1874.2 3447.0,1872.9 3447.5,1872.0 3447.9,1870.5 3448.8,1865.5 3449.7,1861.0 3449.8,1860.7 3450.6,1858.6 3451.5,1857.0 3451.8,1856.8 3452.4,1856.4 3453.3,1856.0 3454.2,1855.5 3454.3,1855.4 3455.1,1852.5 3456.0,1846.7 3456.9,1842.3 3456.9,1842.1 3457.8,1839.4 3458.7,1837.5 3459.2,1837.2 3459.6,1837.2 3460.5,1837.5 3461.4,1838.0 3462.3,1838.3 3462.7,1838.4 3463.2,1837.2 3464.1,1831.5 3465.0,1827.4 3465.1,1827.4 3465.9,1827.5 3466.8,1827.7 3467.7,1827.9 3468.6,1828.0 3468.6,1828.0 3469.5,1825.1 3470.4,1819.6 3471.0,1817.2 3471.3,1816.2 3472.2,1813.7 3473.1,1812.4 3473.3,1812.3 3474.0,1813.3 3474.9,1816.4 3475.8,1819.3 3476.4,1820.1 3476.7,1820.0 3477.6,1817.9 3478.5,1815.6 3478.8,1815.2 3479.4,1814.9 3480.3,1814.6 3481.2,1814.3 3482.1,1813.8 3482.3,1813.7 3483.0,1812.1 3483.9,1809.1 3484.3,1808.4 3484.8,1807.9 3485.7,1807.3 3486.6,1807.0 3486.6,1807.0 3487.5,1808.3 3488.4,1810.9 3489.3,1812.8 3489.6,1812.9 3490.2,1812.5 3491.1,1810.9 3492.0,1809.1 3492.1,1809.0 3492.9,1807.6 3493.8,1806.0 3494.7,1805.1 3494.8,1805.1 3495.6,1805.6 3496.5,1807.2 3497.4,1808.6 3498.0,1809.0 3498.3,1808.9 3499.2,1807.9 3500.1,1807.1 3500.3,1807.0 3501.0,1807.6 3501.9,1809.4 3502.8,1811.5 3503.3,1812.3 3503.7,1812.9 3504.6,1813.7 3505.5,1814.8 3505.8,1815.2 3506.4,1817.0 3507.3,1820.7 3507.8,1822.1 3508.2,1823.0 3509.1,1824.7 3510.0,1826.0 3510.9,1826.9 3511.1,1827.0 3511.8,1827.3 3512.7,1827.5 3513.6,1827.7 3514.4,1828.0 3514.5,1828.0 3515.4,1828.7 3516.3,1829.7 3517.2,1830.9 3517.9,1831.9 3518.1,1832.1 3519.0,1833.4 3519.9,1834.9 3520.8,1836.3 3520.9,1836.4 3521.7,1837.3 3522.6,1838.4 3522.8,1838.7 3523.5,1840.3 3524.4,1842.9 3524.8,1843.6 3525.3,1844.1 3526.2,1844.6 3527.1,1845.1 3527.7,1845.6 3528.0,1845.9 3528.9,1847.5 3529.8,1849.5 3530.7,1851.5 3530.7,1851.5 3531.6,1853.3 3532.5,1855.0 3533.4,1856.9 3533.6,1857.4 3534.3,1858.9 3535.2,1861.1 3536.0,1863.2 3536.1,1863.7 3537.0,1867.4 3537.9,1871.2 3538.5,1873.0 3538.8,1873.5 3539.7,1874.6 3540.6,1875.6 3541.4,1876.9 3541.5,1877.1 3542.4,1881.2 3543.3,1886.3 3543.4,1886.7 3544.2,1889.7 3545.1,1892.5 3545.4,1893.2 3546.0,1894.7 3546.9,1896.4 3547.8,1898.2 3548.3,1899.5 3548.7,1900.6 3549.6,1903.7 3550.5,1907.0 3550.8,1908.3 3551.4,1910.2 3552.3,1913.3"/>
<path class="k" d="M355.50 2212.40v14.58M916.20 2212.40v14.58M1476.90 2212.40v14.58M2037.60 2212.40v14.58M2598.30 2212.40v14.58M3159.00 2212.40v14.58M355.50 1705.70h-14.58M355.50 1813.90h-14.58M355.50 1922.10h-14.58M355.50 2030.30h-14.58M355.50 2138.50h-14.58"/>
<rect class="sp" x="355.50" y="1631.30" width="3196.90" height="581.10"/>
<text class="t" text-anchor="middle" x="355.50" y="2272.00">0</text>
<text class="t" text-anchor="middle" x="916.20" y="2272.00">10</text>
<text class="t" text-anchor="middle" x="1476.90" y="2272.00">20</text>
<text class="t" text-anchor="middle" x="2037.60" y="2272.00">30</text>
<text class="t" text-anchor="middle" x="2598.30" y="2272.00">40</text>
<text class="t" text-anchor="middle" x="3159.00" y="2272.00">50</text>
<text class="t" text-anchor="end" x="326.33" y="1720.40">0.00010</text>
<text class="t" text-anchor="end" x="326.33" y="1828.60">0.00005</text>
<text class="t" text-anchor="end" x="326.33" y="1936.80">0.00000</text>
<text class="t" text-anchor="end" x="326.33" y="2045.00">−0.00005</text>
<text class="t" text-anchor="end" x="326.33" y="2153.20">−0.00010</text>
<text class="l" text-anchor="middle" textLength="237.0" lengthAdjust="spacing" x="1953.95" y="2343.40">Time (s)</text>
<text class="l" text-anchor="middle" transform="translate(88.50 1922.85) rotate(-90)">Displacement (cm)</text>
</g>
</svg>
</body></html>
